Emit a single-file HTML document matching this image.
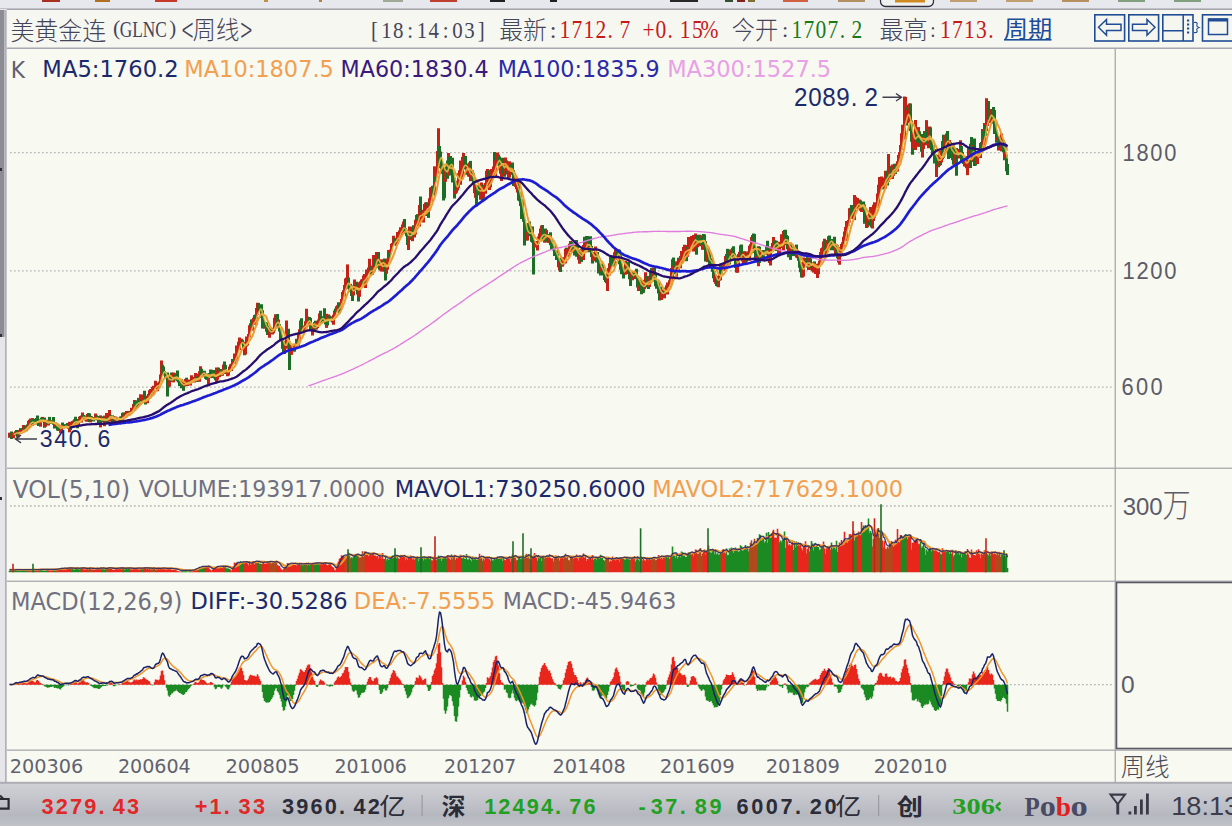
<!DOCTYPE html>
<html><head><meta charset="utf-8"><title>美黄金连(GLNC) 周线</title>
<style>html,body{margin:0;padding:0;width:1232px;height:826px;overflow:hidden;background:#f8f9f1}svg{position:absolute;left:0;top:0;display:block}</style>
</head><body>
<svg width="1232" height="826" viewBox="0 0 1232 826">
<rect x='0' y='0' width='1232' height='826' fill='#f8f9f1'/>
<rect x='0' y='0' width='1232' height='9' fill='#e7e8ed'/>
<rect x='42' y='0' width='18' height='2' fill='#a83020'/>
<rect x='95' y='0' width='15' height='2' fill='#b07020'/>
<rect x='155' y='0' width='22' height='2' fill='#c83828'/>
<rect x='264' y='0' width='4' height='2' fill='#c09040'/>
<rect x='319' y='0' width='3' height='2' fill='#b08040'/>
<rect x='383' y='0' width='20' height='2' fill='#a0a898'/>
<rect x='430' y='0' width='27' height='2' fill='#c04030'/>
<rect x='490' y='0' width='15' height='2' fill='#202020'/>
<rect x='550' y='0' width='7' height='2' fill='#202020'/>
<rect x='670' y='0' width='28' height='2' fill='#282828'/>
<rect x='725' y='0' width='8' height='2' fill='#305030'/>
<rect x='737' y='0' width='8' height='2' fill='#802020'/>
<rect x='748' y='0' width='7' height='2' fill='#807030'/>
<rect x='783' y='0' width='25' height='2' fill='#d06040'/>
<rect x='838' y='0' width='27' height='2' fill='#b09060'/>
<rect x='950' y='0' width='27' height='2' fill='#c0a070'/>
<rect x='1006' y='0' width='27' height='2' fill='#c0a070'/>
<rect x='1062' y='0' width='27' height='2' fill='#b89060'/>
<rect x='1118' y='0' width='27' height='2' fill='#80a080'/>
<rect x='1174' y='0' width='27' height='2' fill='#80a080'/>
<rect x='880.5' y='-6' width='53' height='12.5' rx='5' fill='#f0f0f0' stroke='#303040' stroke-width='1.3'/>
<rect x='895' y='0' width='30' height='2.5' fill='#d08820'/>
<rect x='0' y='8.4' width='1232' height='1.8' fill='#a6a6ae'/>
<rect x='7' y='10' width='1225' height='38' fill='#f7f7f1'/>
<rect x='7' y='47.5' width='1225' height='1.5' fill='#a8a8b0'/>
<rect x='0' y='9' width='7' height='774' fill='#e6e6ea'/>
<rect x='0' y='10' width='4.5' height='327' fill='#8c8c94'/>
<rect x='5.2' y='10' width='1.3' height='773' fill='#a4a4ac'/>
<rect x='0' y='334' width='2' height='3' fill='#303038'/><rect x='0' y='497' width='2' height='3' fill='#303038'/><rect x='0' y='168' width='2' height='3' fill='#303038'/>
<rect x='7' y='467.6' width='1225' height='1.3' fill='#a8a8b0'/>
<rect x='7' y='580.6' width='1225' height='1.3' fill='#a8a8b0'/>
<rect x='7' y='749.5' width='1225' height='1.3' fill='#a8a8b0'/>
<rect x='1114.6' y='49' width='1.3' height='734' fill='#a8a8b0'/>
<rect x='1116.5' y='582.5' width='120' height='166' fill='none' stroke='#5a5a64' stroke-width='1.6'/>
<line x1='10' y1='152.6' x2='1112' y2='152.6' stroke='#b4b4b4' stroke-width='1.3' stroke-dasharray='1.7 2.3'/>
<line x1='10' y1='270.8' x2='1112' y2='270.8' stroke='#b4b4b4' stroke-width='1.3' stroke-dasharray='1.7 2.3'/>
<line x1='10' y1='387.2' x2='1112' y2='387.2' stroke='#b4b4b4' stroke-width='1.3' stroke-dasharray='1.7 2.3'/>
<line x1='10' y1='506.0' x2='1112' y2='506.0' stroke='#b4b4b4' stroke-width='1.3' stroke-dasharray='1.7 2.3'/>
<line x1='10' y1='684.7' x2='1112' y2='684.7' stroke='#b4b4b4' stroke-width='1.3' stroke-dasharray='1.7 2.3'/>
<defs><linearGradient id='sb' x1='0' y1='0' x2='0' y2='1'><stop offset='0' stop-color='#d0d1d6'/><stop offset='0.3' stop-color='#c7c8ce'/><stop offset='0.75' stop-color='#b6b8c0'/><stop offset='1' stop-color='#c0c2c8'/></linearGradient></defs>
<rect x='0' y='783' width='1232' height='43' fill='url(#sb)'/>
<rect x='0' y='781.8' width='1232' height='2' fill='#acacb4'/>
<rect x='421.5' y='795' width='1.2' height='21' fill='#9a9aa2'/><rect x='878' y='795' width='1.2' height='21' fill='#9a9aa2'/>
<defs><filter id='bl' x='-2%' y='-2%' width='104%' height='104%'><feGaussianBlur stdDeviation='0.55'/></filter></defs>
<g filter='url(#bl)'><path d="M9.5 432.7V437.8" stroke="#c42418" stroke-width="3.0"/><path d="M10.5 434.1V435.3M11.5 431.5V439.1" stroke="#1f6e28" stroke-width="3.0"/><path d="M12.5 433.2V437.5M13.5 432.8V438.3M14.5 432.4V433.8M15.5 431.3V435.4" stroke="#c42418" stroke-width="3.0"/><path d="M16.5 430.1V433.4M17.5 432.0V437.2" stroke="#1f6e28" stroke-width="3.0"/><path d="M18.5 431.7V437.5M19.5 430.0V433.8" stroke="#c42418" stroke-width="3.0"/><path d="M20.5 428.1V434.0" stroke="#1f6e28" stroke-width="3.0"/><path d="M21.5 430.2V433.3M22.5 429.6V432.0M23.5 425.1V432.3" stroke="#c42418" stroke-width="3.0"/><path d="M24.5 428.0V429.6M25.5 425.8V429.6" stroke="#1f6e28" stroke-width="3.0"/><path d="M26.5 425.4V431.2" stroke="#c42418" stroke-width="3.0"/><path d="M27.5 424.4V426.1" stroke="#1f6e28" stroke-width="3.0"/><path d="M28.5 420.7V427.9M29.5 419.7V425.3M30.5 418.6V425.1" stroke="#c42418" stroke-width="3.0"/><path d="M31.5 420.2V424.4" stroke="#1f6e28" stroke-width="3.0"/><path d="M32.5 418.1V425.8" stroke="#c42418" stroke-width="3.0"/><path d="M33.5 418.7V424.3M34.5 420.7V424.4M35.5 420.1V424.6" stroke="#1f6e28" stroke-width="3.0"/><path d="M36.5 418.0V423.3" stroke="#c42418" stroke-width="3.0"/><path d="M37.5 415.5V422.5M38.5 419.4V426.0M39.5 419.8V423.4" stroke="#1f6e28" stroke-width="3.0"/><path d="M40.5 419.3V426.7" stroke="#c42418" stroke-width="3.0"/><path d="M41.5 417.6V420.3" stroke="#1f6e28" stroke-width="3.0"/><path d="M42.5 416.9V420.5" stroke="#c42418" stroke-width="3.0"/><path d="M43.5 417.9V421.7M44.5 417.5V427.8" stroke="#1f6e28" stroke-width="3.0"/><path d="M45.5 419.8V426.8M46.5 419.7V423.3" stroke="#c42418" stroke-width="3.0"/><path d="M47.5 421.9V424.7" stroke="#1f6e28" stroke-width="3.0"/><path d="M48.5 421.0V425.5" stroke="#c42418" stroke-width="3.0"/><path d="M49.5 416.9V422.5" stroke="#1f6e28" stroke-width="3.0"/><path d="M50.5 420.7V423.9" stroke="#c42418" stroke-width="3.0"/><path d="M51.5 421.9V423.7" stroke="#1f6e28" stroke-width="3.0"/><path d="M52.5 420.3V423.4" stroke="#c42418" stroke-width="3.0"/><path d="M53.5 416.9V424.7M54.5 424.1V428.5" stroke="#1f6e28" stroke-width="3.0"/><path d="M55.5 422.5V426.3" stroke="#c42418" stroke-width="3.0"/><path d="M56.5 423.6V427.7M57.5 425.8V430.4" stroke="#1f6e28" stroke-width="3.0"/><path d="M58.5 424.8V431.0" stroke="#c42418" stroke-width="3.0"/><path d="M59.5 425.1V430.5" stroke="#1f6e28" stroke-width="3.0"/><path d="M60.5 428.7V432.9M61.5 424.9V431.2" stroke="#c42418" stroke-width="3.0"/><path d="M62.5 422.5V427.5" stroke="#1f6e28" stroke-width="3.0"/><path d="M63.5 425.3V428.5M64.5 424.4V427.7" stroke="#c42418" stroke-width="3.0"/><path d="M65.5 424.3V427.6" stroke="#1f6e28" stroke-width="3.0"/><path d="M66.5 425.1V426.9" stroke="#c42418" stroke-width="3.0"/><path d="M67.5 422.9V428.1M68.5 427.5V428.8" stroke="#1f6e28" stroke-width="3.0"/><path d="M69.5 421.8V432.3" stroke="#c42418" stroke-width="3.0"/><path d="M70.5 423.2V430.0" stroke="#1f6e28" stroke-width="3.0"/><path d="M71.5 423.3V426.1M72.5 421.0V425.2M73.5 420.4V425.7" stroke="#c42418" stroke-width="3.0"/><path d="M74.5 419.3V423.4M75.5 416.7V425.3M76.5 419.1V423.6M77.5 421.5V428.3" stroke="#1f6e28" stroke-width="3.0"/><path d="M78.5 418.9V425.6M79.5 416.7V419.4" stroke="#c42418" stroke-width="3.0"/><path d="M80.5 416.0V421.0" stroke="#1f6e28" stroke-width="3.0"/><path d="M81.5 415.4V422.4M82.5 412.4V418.7" stroke="#c42418" stroke-width="3.0"/><path d="M83.5 415.1V417.6M84.5 417.2V419.7" stroke="#1f6e28" stroke-width="3.0"/><path d="M85.5 418.1V420.5M86.5 415.5V421.8M87.5 414.1V418.8" stroke="#c42418" stroke-width="3.0"/><path d="M88.5 413.1V419.2M89.5 413.4V422.1" stroke="#1f6e28" stroke-width="3.0"/><path d="M90.5 415.8V422.4" stroke="#c42418" stroke-width="3.0"/><path d="M91.5 416.3V419.8M92.5 417.1V420.5M93.5 417.2V421.6" stroke="#1f6e28" stroke-width="3.0"/><path d="M94.5 417.1V420.0M95.5 413.5V420.2" stroke="#c42418" stroke-width="3.0"/><path d="M96.5 415.3V420.1" stroke="#1f6e28" stroke-width="3.0"/><path d="M97.5 417.0V417.9" stroke="#c42418" stroke-width="3.0"/><path d="M98.5 416.1V424.8M99.5 418.5V420.9" stroke="#1f6e28" stroke-width="3.0"/><path d="M100.5 415.4V427.4" stroke="#c42418" stroke-width="3.0"/><path d="M101.5 417.9V422.3" stroke="#1f6e28" stroke-width="3.0"/><path d="M102.5 417.7V421.3" stroke="#c42418" stroke-width="3.0"/><path d="M103.5 416.3V421.9" stroke="#1f6e28" stroke-width="3.0"/><path d="M104.5 415.6V426.2" stroke="#c42418" stroke-width="3.0"/><path d="M105.5 418.1V421.0" stroke="#1f6e28" stroke-width="3.0"/><path d="M106.5 413.0V421.6" stroke="#c42418" stroke-width="3.0"/><path d="M107.5 417.5V423.2" stroke="#1f6e28" stroke-width="3.0"/><path d="M108.5 415.9V421.7M109.5 410.1V421.4" stroke="#c42418" stroke-width="3.0"/><path d="M110.5 414.8V416.8M111.5 415.4V417.8M112.5 415.2V423.5M113.5 416.5V423.6" stroke="#1f6e28" stroke-width="3.0"/><path d="M114.5 419.8V424.5M115.5 416.5V421.5" stroke="#c42418" stroke-width="3.0"/><path d="M116.5 417.4V419.5M117.5 418.4V422.3" stroke="#1f6e28" stroke-width="3.0"/><path d="M118.5 418.6V421.8M119.5 417.8V419.8" stroke="#c42418" stroke-width="3.0"/><path d="M120.5 416.4V420.2M121.5 416.2V421.1" stroke="#1f6e28" stroke-width="3.0"/><path d="M122.5 412.8V421.0" stroke="#c42418" stroke-width="3.0"/><path d="M123.5 412.5V415.6" stroke="#1f6e28" stroke-width="3.0"/><path d="M124.5 413.3V418.3M125.5 412.5V417.7" stroke="#c42418" stroke-width="3.0"/><path d="M126.5 411.0V416.6" stroke="#1f6e28" stroke-width="3.0"/><path d="M127.5 411.2V415.8" stroke="#c42418" stroke-width="3.0"/><path d="M128.5 410.9V414.2" stroke="#1f6e28" stroke-width="3.0"/><path d="M129.5 411.6V415.2M130.5 411.6V413.5M131.5 407.7V412.3M132.5 408.0V410.5M133.5 404.1V410.5M134.5 400.1V409.7" stroke="#c42418" stroke-width="3.0"/><path d="M135.5 401.2V406.2" stroke="#1f6e28" stroke-width="3.0"/><path d="M136.5 400.8V407.8" stroke="#c42418" stroke-width="3.0"/><path d="M137.5 400.3V407.5" stroke="#1f6e28" stroke-width="3.0"/><path d="M138.5 397.9V405.8" stroke="#c42418" stroke-width="3.0"/><path d="M139.5 398.6V404.8" stroke="#1f6e28" stroke-width="3.0"/><path d="M140.5 394.3V404.4" stroke="#c42418" stroke-width="3.0"/><path d="M141.5 400.7V402.8" stroke="#1f6e28" stroke-width="3.0"/><path d="M142.5 398.1V402.0M143.5 394.4V402.7" stroke="#c42418" stroke-width="3.0"/><path d="M144.5 390.7V402.6M145.5 397.5V404.6" stroke="#1f6e28" stroke-width="3.0"/><path d="M146.5 398.5V402.0M147.5 395.7V403.2M148.5 394.0V398.0M149.5 390.3V395.7" stroke="#c42418" stroke-width="3.0"/><path d="M150.5 389.1V396.4" stroke="#1f6e28" stroke-width="3.0"/><path d="M151.5 389.1V394.1M152.5 386.9V394.3M153.5 385.8V393.9M154.5 385.8V388.5M155.5 380.8V387.3" stroke="#c42418" stroke-width="3.0"/><path d="M156.5 382.5V387.5" stroke="#1f6e28" stroke-width="3.0"/><path d="M157.5 383.1V391.2" stroke="#c42418" stroke-width="3.0"/><path d="M158.5 384.4V388.8" stroke="#1f6e28" stroke-width="3.0"/><path d="M159.5 381.5V387.2M160.5 374.5V383.0M161.5 360.6V375.6" stroke="#c42418" stroke-width="3.0"/><path d="M162.5 364.8V369.6M163.5 366.4V374.8M164.5 370.9V375.4M165.5 373.3V378.0" stroke="#1f6e28" stroke-width="3.0"/><path d="M166.5 374.9V377.6" stroke="#c42418" stroke-width="3.0"/><path d="M167.5 372.4V396.6M168.5 378.0V387.6" stroke="#1f6e28" stroke-width="3.0"/><path d="M169.5 378.9V386.6M170.5 375.8V382.1" stroke="#c42418" stroke-width="3.0"/><path d="M171.5 372.6V381.6M172.5 373.2V379.8" stroke="#1f6e28" stroke-width="3.0"/><path d="M173.5 372.5V382.4" stroke="#c42418" stroke-width="3.0"/><path d="M174.5 374.8V380.5M175.5 376.0V379.9" stroke="#1f6e28" stroke-width="3.0"/><path d="M176.5 373.1V378.0" stroke="#c42418" stroke-width="3.0"/><path d="M177.5 370.4V381.3M178.5 380.2V382.5M179.5 380.6V386.0" stroke="#1f6e28" stroke-width="3.0"/><path d="M180.5 381.7V384.2" stroke="#c42418" stroke-width="3.0"/><path d="M181.5 379.2V388.3" stroke="#1f6e28" stroke-width="3.0"/><path d="M182.5 382.1V387.0" stroke="#c42418" stroke-width="3.0"/><path d="M183.5 385.2V390.8" stroke="#1f6e28" stroke-width="3.0"/><path d="M184.5 382.4V386.4M185.5 379.0V383.3" stroke="#c42418" stroke-width="3.0"/><path d="M186.5 377.7V385.5" stroke="#1f6e28" stroke-width="3.0"/><path d="M187.5 379.5V385.9M188.5 381.0V384.3" stroke="#c42418" stroke-width="3.0"/><path d="M189.5 381.0V381.6" stroke="#1f6e28" stroke-width="3.0"/><path d="M190.5 379.6V385.5M191.5 375.3V381.6" stroke="#c42418" stroke-width="3.0"/><path d="M192.5 377.9V381.9" stroke="#1f6e28" stroke-width="3.0"/><path d="M193.5 376.9V380.7M194.5 377.8V382.5M195.5 373.1V378.4" stroke="#c42418" stroke-width="3.0"/><path d="M196.5 376.2V382.0M197.5 378.0V381.8" stroke="#1f6e28" stroke-width="3.0"/><path d="M198.5 374.0V379.4M199.5 371.2V381.8M200.5 366.3V376.3" stroke="#c42418" stroke-width="3.0"/><path d="M201.5 368.8V375.6M202.5 371.9V375.1" stroke="#1f6e28" stroke-width="3.0"/><path d="M203.5 372.5V375.6" stroke="#c42418" stroke-width="3.0"/><path d="M204.5 370.8V376.1M205.5 374.8V378.8M206.5 373.6V379.8M207.5 377.0V380.1" stroke="#1f6e28" stroke-width="3.0"/><path d="M208.5 374.2V386.3" stroke="#c42418" stroke-width="3.0"/><path d="M209.5 373.0V377.8" stroke="#1f6e28" stroke-width="3.0"/><path d="M210.5 369.6V378.1" stroke="#c42418" stroke-width="3.0"/><path d="M211.5 369.7V375.4M212.5 369.9V377.0M213.5 369.9V377.9M214.5 371.0V378.5M215.5 376.9V380.2" stroke="#1f6e28" stroke-width="3.0"/><path d="M216.5 367.4V383.0M217.5 367.6V379.7" stroke="#c42418" stroke-width="3.0"/><path d="M218.5 367.7V376.2" stroke="#1f6e28" stroke-width="3.0"/><path d="M219.5 370.6V377.1" stroke="#c42418" stroke-width="3.0"/><path d="M220.5 369.1V373.8M221.5 371.5V375.6" stroke="#1f6e28" stroke-width="3.0"/><path d="M222.5 369.2V375.7M223.5 364.4V369.3" stroke="#c42418" stroke-width="3.0"/><path d="M224.5 361.5V373.9M225.5 364.9V373.3M226.5 371.1V373.0" stroke="#1f6e28" stroke-width="3.0"/><path d="M227.5 372.3V376.3M228.5 370.2V375.4M229.5 366.8V372.0" stroke="#c42418" stroke-width="3.0"/><path d="M230.5 364.4V368.1" stroke="#1f6e28" stroke-width="3.0"/><path d="M231.5 363.8V370.9M232.5 359.0V364.9" stroke="#c42418" stroke-width="3.0"/><path d="M233.5 359.0V361.5" stroke="#1f6e28" stroke-width="3.0"/><path d="M234.5 353.6V363.7M235.5 353.5V359.0M236.5 345.5V360.8M237.5 345.8V352.8M238.5 341.8V349.0M239.5 337.6V350.0" stroke="#c42418" stroke-width="3.0"/><path d="M240.5 341.1V341.7" stroke="#1f6e28" stroke-width="3.0"/><path d="M241.5 338.7V343.7" stroke="#c42418" stroke-width="3.0"/><path d="M242.5 339.8V344.6M243.5 342.1V348.7M244.5 344.4V355.3" stroke="#1f6e28" stroke-width="3.0"/><path d="M245.5 341.7V354.4M246.5 336.5V346.5M247.5 337.3V345.5M248.5 334.1V336.9M249.5 325.3V337.2M250.5 323.3V331.1" stroke="#c42418" stroke-width="3.0"/><path d="M251.5 319.5V327.1" stroke="#1f6e28" stroke-width="3.0"/><path d="M252.5 319.6V330.7M253.5 317.7V325.1M254.5 314.9V323.2" stroke="#c42418" stroke-width="3.0"/><path d="M255.5 314.6V319.2" stroke="#1f6e28" stroke-width="3.0"/><path d="M256.5 307.9V324.7M257.5 302.7V315.0" stroke="#c42418" stroke-width="3.0"/><path d="M258.5 302.9V310.5M259.5 307.8V309.9" stroke="#1f6e28" stroke-width="3.0"/><path d="M260.5 305.2V311.1" stroke="#c42418" stroke-width="3.0"/><path d="M261.5 304.3V317.9M262.5 310.2V328.6M263.5 319.7V327.7" stroke="#1f6e28" stroke-width="3.0"/><path d="M264.5 323.5V328.7" stroke="#c42418" stroke-width="3.0"/><path d="M265.5 321.9V327.1M266.5 322.5V331.8M267.5 325.5V334.9M268.5 327.5V333.0" stroke="#1f6e28" stroke-width="3.0"/><path d="M269.5 329.1V337.7M270.5 330.4V333.7" stroke="#c42418" stroke-width="3.0"/><path d="M271.5 328.4V333.3" stroke="#1f6e28" stroke-width="3.0"/><path d="M272.5 330.4V334.5M273.5 327.7V333.3M274.5 317.8V330.7M275.5 314.3V325.8" stroke="#c42418" stroke-width="3.0"/><path d="M276.5 316.1V319.9M277.5 314.1V326.8" stroke="#1f6e28" stroke-width="3.0"/><path d="M278.5 319.5V327.0" stroke="#c42418" stroke-width="3.0"/><path d="M279.5 324.0V331.6M280.5 326.6V340.5M281.5 335.1V339.5M282.5 338.0V348.8M283.5 347.6V353.8" stroke="#1f6e28" stroke-width="3.0"/><path d="M284.5 343.8V353.9M285.5 340.8V348.7M286.5 320.6V348.7M287.5 330.5V340.4" stroke="#c42418" stroke-width="3.0"/><path d="M288.5 328.8V343.4M289.5 341.2V370.0M290.5 349.4V355.1" stroke="#1f6e28" stroke-width="3.0"/><path d="M291.5 344.3V354.8" stroke="#c42418" stroke-width="3.0"/><path d="M292.5 346.8V348.9" stroke="#1f6e28" stroke-width="3.0"/><path d="M293.5 345.8V348.4" stroke="#c42418" stroke-width="3.0"/><path d="M294.5 346.6V351.7" stroke="#1f6e28" stroke-width="3.0"/><path d="M295.5 344.2V348.5M296.5 338.7V348.5" stroke="#c42418" stroke-width="3.0"/><path d="M297.5 339.7V343.2" stroke="#1f6e28" stroke-width="3.0"/><path d="M298.5 332.8V346.1M299.5 329.3V339.2M300.5 320.4V333.1" stroke="#c42418" stroke-width="3.0"/><path d="M301.5 318.2V332.2M302.5 327.2V332.4" stroke="#1f6e28" stroke-width="3.0"/><path d="M303.5 326.5V331.9M304.5 325.4V329.5M305.5 321.3V328.6M306.5 308.7V323.8M307.5 316.6V323.1M308.5 319.5V324.5" stroke="#c42418" stroke-width="3.0"/><path d="M309.5 317.1V323.1M310.5 318.0V329.7M311.5 325.1V330.5" stroke="#1f6e28" stroke-width="3.0"/><path d="M312.5 327.3V335.4M313.5 324.4V331.4M314.5 321.9V330.0" stroke="#c42418" stroke-width="3.0"/><path d="M315.5 320.7V329.5" stroke="#1f6e28" stroke-width="3.0"/><path d="M316.5 326.0V329.6M317.5 321.4V328.1M318.5 319.4V325.2M319.5 313.6V324.9" stroke="#c42418" stroke-width="3.0"/><path d="M320.5 310.8V319.2M321.5 316.2V323.6" stroke="#1f6e28" stroke-width="3.0"/><path d="M322.5 319.7V321.4" stroke="#c42418" stroke-width="3.0"/><path d="M323.5 318.6V322.5M324.5 308.2V322.4M325.5 321.5V324.6" stroke="#1f6e28" stroke-width="3.0"/><path d="M326.5 313.8V327.9" stroke="#c42418" stroke-width="3.0"/><path d="M327.5 319.2V325.4" stroke="#1f6e28" stroke-width="3.0"/><path d="M328.5 314.4V320.2" stroke="#c42418" stroke-width="3.0"/><path d="M329.5 315.5V321.3" stroke="#1f6e28" stroke-width="3.0"/><path d="M330.5 316.3V321.0" stroke="#c42418" stroke-width="3.0"/><path d="M331.5 317.1V319.5M332.5 319.5V322.6" stroke="#1f6e28" stroke-width="3.0"/><path d="M333.5 314.8V324.8M334.5 310.5V318.1" stroke="#c42418" stroke-width="3.0"/><path d="M335.5 308.5V312.1" stroke="#1f6e28" stroke-width="3.0"/><path d="M336.5 306.3V312.6M337.5 305.3V311.5" stroke="#c42418" stroke-width="3.0"/><path d="M338.5 302.3V306.7M339.5 305.2V313.2" stroke="#1f6e28" stroke-width="3.0"/><path d="M340.5 303.4V309.0M341.5 298.9V304.7M342.5 292.0V301.2M343.5 290.3V297.3M344.5 285.0V296.6M345.5 278.6V289.8" stroke="#c42418" stroke-width="3.0"/><path d="M346.5 277.6V285.1" stroke="#1f6e28" stroke-width="3.0"/><path d="M347.5 264.4V287.7" stroke="#c42418" stroke-width="3.0"/><path d="M348.5 277.4V288.7M349.5 283.9V290.7" stroke="#1f6e28" stroke-width="3.0"/><path d="M350.5 283.8V291.9" stroke="#c42418" stroke-width="3.0"/><path d="M351.5 285.6V295.9M352.5 288.2V301.0" stroke="#1f6e28" stroke-width="3.0"/><path d="M353.5 289.5V295.6M354.5 279.5V290.7M355.5 282.3V290.4" stroke="#c42418" stroke-width="3.0"/><path d="M356.5 281.8V286.5M357.5 285.3V294.4M358.5 286.8V301.4" stroke="#1f6e28" stroke-width="3.0"/><path d="M359.5 282.2V296.8M360.5 281.2V286.8M361.5 279.5V284.4" stroke="#c42418" stroke-width="3.0"/><path d="M362.5 279.2V285.4" stroke="#1f6e28" stroke-width="3.0"/><path d="M363.5 275.6V281.1M364.5 274.1V281.1M365.5 276.9V287.9M366.5 269.4V282.5M367.5 269.5V273.9M368.5 267.4V274.6M369.5 258.8V272.4M370.5 265.6V273.3" stroke="#c42418" stroke-width="3.0"/><path d="M371.5 266.4V274.8" stroke="#1f6e28" stroke-width="3.0"/><path d="M372.5 267.9V274.7M373.5 255.1V272.5M374.5 257.6V271.2" stroke="#c42418" stroke-width="3.0"/><path d="M375.5 258.3V266.3" stroke="#1f6e28" stroke-width="3.0"/><path d="M376.5 252.0V264.3M377.5 252.7V256.9" stroke="#c42418" stroke-width="3.0"/><path d="M378.5 252.0V268.1M379.5 262.8V269.7M380.5 267.1V270.6" stroke="#1f6e28" stroke-width="3.0"/><path d="M381.5 259.3V271.6" stroke="#c42418" stroke-width="3.0"/><path d="M382.5 260.2V265.0" stroke="#1f6e28" stroke-width="3.0"/><path d="M383.5 261.4V268.1" stroke="#c42418" stroke-width="3.0"/><path d="M384.5 258.4V271.7M385.5 259.1V280.4" stroke="#1f6e28" stroke-width="3.0"/><path d="M386.5 263.3V273.8M387.5 258.6V269.8M388.5 249.9V261.9" stroke="#c42418" stroke-width="3.0"/><path d="M389.5 252.4V257.8" stroke="#1f6e28" stroke-width="3.0"/><path d="M390.5 249.6V254.6M391.5 243.7V251.2M392.5 243.1V245.9M393.5 235.8V243.0" stroke="#c42418" stroke-width="3.0"/><path d="M394.5 237.9V245.6M395.5 237.7V244.7" stroke="#1f6e28" stroke-width="3.0"/><path d="M396.5 240.0V245.5M397.5 232.0V243.9" stroke="#c42418" stroke-width="3.0"/><path d="M398.5 233.3V234.7" stroke="#1f6e28" stroke-width="3.0"/><path d="M399.5 230.6V238.6M400.5 227.2V231.7M401.5 228.6V234.9M402.5 224.5V233.0M403.5 221.6V226.6" stroke="#c42418" stroke-width="3.0"/><path d="M404.5 219.0V232.3M405.5 228.3V233.7M406.5 229.8V236.3M407.5 232.8V244.9" stroke="#1f6e28" stroke-width="3.0"/><path d="M408.5 232.9V250.0M409.5 226.6V236.8M410.5 230.3V240.0" stroke="#c42418" stroke-width="3.0"/><path d="M411.5 231.9V238.8" stroke="#1f6e28" stroke-width="3.0"/><path d="M412.5 226.7V241.2" stroke="#c42418" stroke-width="3.0"/><path d="M413.5 225.2V236.2" stroke="#1f6e28" stroke-width="3.0"/><path d="M414.5 225.9V237.6M415.5 219.7V234.6M416.5 214.9V226.0" stroke="#c42418" stroke-width="3.0"/><path d="M417.5 214.1V220.3" stroke="#1f6e28" stroke-width="3.0"/><path d="M418.5 217.8V222.0M419.5 205.1V226.5" stroke="#c42418" stroke-width="3.0"/><path d="M420.5 196.5V216.2" stroke="#1f6e28" stroke-width="3.0"/><path d="M421.5 212.7V218.4" stroke="#c42418" stroke-width="3.0"/><path d="M422.5 214.9V218.5" stroke="#1f6e28" stroke-width="3.0"/><path d="M423.5 209.8V222.4M424.5 203.9V212.8M425.5 202.4V208.3" stroke="#c42418" stroke-width="3.0"/><path d="M426.5 202.2V216.0" stroke="#1f6e28" stroke-width="3.0"/><path d="M427.5 206.2V215.1" stroke="#c42418" stroke-width="3.0"/><path d="M428.5 203.9V217.9" stroke="#1f6e28" stroke-width="3.0"/><path d="M429.5 198.3V210.5M430.5 187.4V201.6M431.5 186.9V201.9M432.5 185.8V191.1" stroke="#c42418" stroke-width="3.0"/><path d="M433.5 185.8V195.4" stroke="#1f6e28" stroke-width="3.0"/><path d="M434.5 166.3V193.4" stroke="#c42418" stroke-width="3.0"/><path d="M435.5 176.6V181.8" stroke="#1f6e28" stroke-width="3.0"/><path d="M436.5 167.4V177.4M437.5 150.9V173.6M438.5 128.2V168.2" stroke="#c42418" stroke-width="3.0"/><path d="M439.5 146.1V164.3M440.5 151.6V162.8M441.5 160.8V169.5M442.5 163.4V173.7M443.5 168.8V200.6M444.5 167.3V198.3" stroke="#1f6e28" stroke-width="3.0"/><path d="M445.5 169.4V181.7M446.5 166.4V175.0" stroke="#c42418" stroke-width="3.0"/><path d="M447.5 160.5V178.8" stroke="#1f6e28" stroke-width="3.0"/><path d="M448.5 153.0V175.7" stroke="#c42418" stroke-width="3.0"/><path d="M449.5 157.0V168.9M450.5 156.0V165.5M451.5 158.4V175.5M452.5 157.7V182.4M453.5 170.3V179.1M454.5 177.7V198.6" stroke="#1f6e28" stroke-width="3.0"/><path d="M455.5 190.8V194.0M456.5 188.0V192.7M457.5 180.8V190.4M458.5 173.2V188.3M459.5 170.3V181.2M460.5 160.5V184.7M461.5 167.4V175.1M462.5 157.1V178.6M463.5 153.0V169.2" stroke="#c42418" stroke-width="3.0"/><path d="M464.5 157.8V169.3M465.5 156.1V167.0M466.5 163.4V174.7" stroke="#1f6e28" stroke-width="3.0"/><path d="M467.5 167.0V173.0" stroke="#c42418" stroke-width="3.0"/><path d="M468.5 172.1V176.6" stroke="#1f6e28" stroke-width="3.0"/><path d="M469.5 162.4V176.7" stroke="#c42418" stroke-width="3.0"/><path d="M470.5 160.9V181.2" stroke="#1f6e28" stroke-width="3.0"/><path d="M471.5 172.2V180.8M472.5 170.3V181.1" stroke="#c42418" stroke-width="3.0"/><path d="M473.5 173.1V183.5M474.5 179.4V193.2" stroke="#1f6e28" stroke-width="3.0"/><path d="M475.5 184.6V197.9" stroke="#c42418" stroke-width="3.0"/><path d="M476.5 185.8V206.5M477.5 187.8V191.6" stroke="#1f6e28" stroke-width="3.0"/><path d="M478.5 185.3V194.1" stroke="#c42418" stroke-width="3.0"/><path d="M479.5 185.7V195.3" stroke="#1f6e28" stroke-width="3.0"/><path d="M480.5 190.1V199.7M481.5 182.6V192.3" stroke="#c42418" stroke-width="3.0"/><path d="M482.5 184.5V201.0" stroke="#1f6e28" stroke-width="3.0"/><path d="M483.5 186.7V197.9" stroke="#c42418" stroke-width="3.0"/><path d="M484.5 188.1V191.2" stroke="#1f6e28" stroke-width="3.0"/><path d="M485.5 182.9V193.7M486.5 170.8V187.9M487.5 169.1V181.8" stroke="#c42418" stroke-width="3.0"/><path d="M488.5 170.1V184.3" stroke="#1f6e28" stroke-width="3.0"/><path d="M489.5 178.9V189.9M490.5 174.9V187.2M491.5 169.1V178.8M492.5 170.0V176.6M493.5 166.4V174.5" stroke="#c42418" stroke-width="3.0"/><path d="M494.5 152.0V178.0" stroke="#1f6e28" stroke-width="3.0"/><path d="M495.5 160.5V176.4M496.5 155.7V165.8M497.5 152.5V159.9M498.5 154.6V159.7" stroke="#c42418" stroke-width="3.0"/><path d="M499.5 156.6V169.5M500.5 167.2V173.7" stroke="#1f6e28" stroke-width="3.0"/><path d="M501.5 163.8V181.1M502.5 157.7V170.4" stroke="#c42418" stroke-width="3.0"/><path d="M503.5 157.9V173.7M504.5 163.1V176.8" stroke="#1f6e28" stroke-width="3.0"/><path d="M505.5 157.5V174.6" stroke="#c42418" stroke-width="3.0"/><path d="M506.5 160.4V174.0" stroke="#1f6e28" stroke-width="3.0"/><path d="M507.5 161.5V171.2" stroke="#c42418" stroke-width="3.0"/><path d="M508.5 166.9V178.4" stroke="#1f6e28" stroke-width="3.0"/><path d="M509.5 161.3V177.5" stroke="#c42418" stroke-width="3.0"/><path d="M510.5 164.5V174.0" stroke="#1f6e28" stroke-width="3.0"/><path d="M511.5 168.1V174.9" stroke="#c42418" stroke-width="3.0"/><path d="M512.5 162.6V171.4M513.5 170.1V186.0M514.5 177.8V185.6" stroke="#1f6e28" stroke-width="3.0"/><path d="M515.5 176.4V186.9" stroke="#c42418" stroke-width="3.0"/><path d="M516.5 184.1V189.2" stroke="#1f6e28" stroke-width="3.0"/><path d="M517.5 179.6V192.6" stroke="#c42418" stroke-width="3.0"/><path d="M518.5 183.9V200.4M519.5 191.8V201.2M520.5 193.1V205.9M521.5 199.3V219.0M522.5 200.9V212.3M523.5 212.6V221.8M524.5 218.9V245.6M525.5 224.5V233.4M526.5 224.4V240.4" stroke="#1f6e28" stroke-width="3.0"/><path d="M527.5 232.0V240.6M528.5 223.0V235.5" stroke="#c42418" stroke-width="3.0"/><path d="M529.5 221.5V235.2M530.5 226.3V236.3M531.5 230.7V241.7M532.5 226.6V242.8M533.5 240.0V274.4M534.5 242.4V246.6" stroke="#1f6e28" stroke-width="3.0"/><path d="M535.5 240.9V247.4M536.5 243.3V246.9M537.5 241.0V250.5M538.5 236.4V243.8M539.5 233.5V240.5" stroke="#c42418" stroke-width="3.0"/><path d="M540.5 228.5V239.5" stroke="#1f6e28" stroke-width="3.0"/><path d="M541.5 225.5V237.2" stroke="#c42418" stroke-width="3.0"/><path d="M542.5 225.0V239.6M543.5 231.2V240.3" stroke="#1f6e28" stroke-width="3.0"/><path d="M544.5 231.6V242.7" stroke="#c42418" stroke-width="3.0"/><path d="M545.5 228.6V241.2" stroke="#1f6e28" stroke-width="3.0"/><path d="M546.5 230.0V242.5" stroke="#c42418" stroke-width="3.0"/><path d="M547.5 233.9V241.8M548.5 235.9V242.8" stroke="#1f6e28" stroke-width="3.0"/><path d="M549.5 235.5V243.1" stroke="#c42418" stroke-width="3.0"/><path d="M550.5 232.3V245.2M551.5 239.3V250.0M552.5 243.8V248.1M553.5 246.4V250.4M554.5 245.8V256.0M555.5 251.7V254.1M556.5 250.2V259.9M557.5 253.4V260.1M558.5 258.6V267.2" stroke="#1f6e28" stroke-width="3.0"/><path d="M559.5 262.0V270.5" stroke="#c42418" stroke-width="3.0"/><path d="M560.5 257.7V272.0M561.5 264.9V266.0" stroke="#1f6e28" stroke-width="3.0"/><path d="M562.5 260.3V266.8M563.5 257.3V264.6" stroke="#c42418" stroke-width="3.0"/><path d="M564.5 257.9V263.3" stroke="#1f6e28" stroke-width="3.0"/><path d="M565.5 248.7V263.4" stroke="#c42418" stroke-width="3.0"/><path d="M566.5 247.6V253.5" stroke="#1f6e28" stroke-width="3.0"/><path d="M567.5 249.3V253.5M568.5 247.9V256.7M569.5 243.8V251.9M570.5 241.1V248.2" stroke="#c42418" stroke-width="3.0"/><path d="M571.5 241.9V247.2M572.5 242.9V252.6M573.5 245.8V251.1M574.5 248.4V255.4" stroke="#1f6e28" stroke-width="3.0"/><path d="M575.5 245.1V251.0" stroke="#c42418" stroke-width="3.0"/><path d="M576.5 239.9V256.7M577.5 246.3V256.8M578.5 255.9V259.8" stroke="#1f6e28" stroke-width="3.0"/><path d="M579.5 251.3V263.8M580.5 250.5V259.5" stroke="#c42418" stroke-width="3.0"/><path d="M581.5 249.2V261.9" stroke="#1f6e28" stroke-width="3.0"/><path d="M582.5 252.6V257.4M583.5 244.9V259.9" stroke="#c42418" stroke-width="3.0"/><path d="M584.5 236.8V252.3" stroke="#1f6e28" stroke-width="3.0"/><path d="M585.5 242.9V249.0M586.5 236.1V244.4" stroke="#c42418" stroke-width="3.0"/><path d="M587.5 236.1V242.0M588.5 240.4V252.2" stroke="#1f6e28" stroke-width="3.0"/><path d="M589.5 246.9V251.3" stroke="#c42418" stroke-width="3.0"/><path d="M590.5 236.2V251.6M591.5 245.9V257.0M592.5 252.3V263.4" stroke="#1f6e28" stroke-width="3.0"/><path d="M593.5 254.3V260.6M594.5 252.4V261.3M595.5 246.6V259.5" stroke="#c42418" stroke-width="3.0"/><path d="M596.5 252.9V262.5M597.5 252.0V261.5M598.5 258.3V273.4M599.5 263.4V267.9M600.5 264.2V275.5" stroke="#1f6e28" stroke-width="3.0"/><path d="M601.5 267.1V271.8" stroke="#c42418" stroke-width="3.0"/><path d="M602.5 263.5V275.1M603.5 269.6V275.5M604.5 274.6V280.0M605.5 274.4V282.1" stroke="#1f6e28" stroke-width="3.0"/><path d="M606.5 278.2V283.2M607.5 273.4V290.9M608.5 267.9V273.8M609.5 263.3V275.4M610.5 254.9V268.9" stroke="#c42418" stroke-width="3.0"/><path d="M611.5 255.5V266.4" stroke="#1f6e28" stroke-width="3.0"/><path d="M612.5 263.1V265.5" stroke="#c42418" stroke-width="3.0"/><path d="M613.5 261.4V266.5" stroke="#1f6e28" stroke-width="3.0"/><path d="M614.5 252.3V264.2M615.5 248.3V260.1" stroke="#c42418" stroke-width="3.0"/><path d="M616.5 251.0V255.5M617.5 253.4V256.2" stroke="#1f6e28" stroke-width="3.0"/><path d="M618.5 249.3V255.3" stroke="#c42418" stroke-width="3.0"/><path d="M619.5 249.7V264.2M620.5 255.3V269.7M621.5 263.6V274.2M622.5 267.3V271.7M623.5 271.0V278.4M624.5 270.8V274.6" stroke="#1f6e28" stroke-width="3.0"/><path d="M625.5 260.9V274.7" stroke="#c42418" stroke-width="3.0"/><path d="M626.5 262.1V268.5M627.5 262.1V270.0M628.5 261.9V273.9M629.5 269.8V279.3M630.5 274.8V286.0" stroke="#1f6e28" stroke-width="3.0"/><path d="M631.5 270.8V277.5M632.5 273.2V280.2" stroke="#c42418" stroke-width="3.0"/><path d="M633.5 273.3V277.5" stroke="#1f6e28" stroke-width="3.0"/><path d="M634.5 271.5V279.1" stroke="#c42418" stroke-width="3.0"/><path d="M635.5 271.0V275.9M636.5 268.7V278.1M637.5 277.7V287.6" stroke="#1f6e28" stroke-width="3.0"/><path d="M638.5 280.6V291.0" stroke="#c42418" stroke-width="3.0"/><path d="M639.5 281.2V285.4M640.5 279.5V288.0M641.5 280.2V294.3" stroke="#1f6e28" stroke-width="3.0"/><path d="M642.5 281.6V293.2" stroke="#c42418" stroke-width="3.0"/><path d="M643.5 285.9V292.8" stroke="#1f6e28" stroke-width="3.0"/><path d="M644.5 280.0V289.2M645.5 272.3V282.6M646.5 277.3V281.4" stroke="#c42418" stroke-width="3.0"/><path d="M647.5 275.9V287.6M648.5 280.3V288.9" stroke="#1f6e28" stroke-width="3.0"/><path d="M649.5 276.8V287.0M650.5 271.9V281.1" stroke="#c42418" stroke-width="3.0"/><path d="M651.5 268.1V281.1" stroke="#1f6e28" stroke-width="3.0"/><path d="M652.5 274.3V279.9M653.5 267.6V277.4" stroke="#c42418" stroke-width="3.0"/><path d="M654.5 267.8V281.4M655.5 273.1V286.2M656.5 281.0V288.8M657.5 281.1V287.3M658.5 281.7V293.6M659.5 286.6V300.6M660.5 287.0V299.6" stroke="#1f6e28" stroke-width="3.0"/><path d="M661.5 289.4V300.0M662.5 290.2V295.9" stroke="#c42418" stroke-width="3.0"/><path d="M663.5 291.3V293.7" stroke="#1f6e28" stroke-width="3.0"/><path d="M664.5 289.1V298.3" stroke="#c42418" stroke-width="3.0"/><path d="M665.5 287.5V293.6" stroke="#1f6e28" stroke-width="3.0"/><path d="M666.5 285.2V294.4M667.5 282.6V294.4M668.5 282.5V286.9M669.5 280.3V287.3M670.5 276.3V286.5M671.5 268.1V281.9M672.5 259.2V278.0" stroke="#c42418" stroke-width="3.0"/><path d="M673.5 257.4V265.7M674.5 263.4V273.3M675.5 261.7V274.3" stroke="#1f6e28" stroke-width="3.0"/><path d="M676.5 261.4V276.8M677.5 261.3V268.9" stroke="#c42418" stroke-width="3.0"/><path d="M678.5 257.7V271.7" stroke="#1f6e28" stroke-width="3.0"/><path d="M679.5 259.0V266.4M680.5 255.9V268.2M681.5 250.9V259.7M682.5 254.3V262.6M683.5 247.0V257.7M684.5 244.7V254.4M685.5 245.1V255.6" stroke="#c42418" stroke-width="3.0"/><path d="M686.5 246.8V261.2" stroke="#1f6e28" stroke-width="3.0"/><path d="M687.5 248.9V256.7M688.5 237.0V253.7M689.5 243.5V251.4M690.5 241.9V247.4M691.5 236.0V248.4" stroke="#c42418" stroke-width="3.0"/><path d="M692.5 236.7V243.7" stroke="#1f6e28" stroke-width="3.0"/><path d="M693.5 235.0V251.5" stroke="#c42418" stroke-width="3.0"/><path d="M694.5 236.3V240.4" stroke="#1f6e28" stroke-width="3.0"/><path d="M695.5 233.5V239.6" stroke="#c42418" stroke-width="3.0"/><path d="M696.5 235.0V254.7" stroke="#1f6e28" stroke-width="3.0"/><path d="M697.5 243.3V247.3M698.5 237.6V246.1" stroke="#c42418" stroke-width="3.0"/><path d="M699.5 234.7V243.3" stroke="#1f6e28" stroke-width="3.0"/><path d="M700.5 235.2V246.2" stroke="#c42418" stroke-width="3.0"/><path d="M701.5 237.9V245.4" stroke="#1f6e28" stroke-width="3.0"/><path d="M702.5 237.9V249.9" stroke="#c42418" stroke-width="3.0"/><path d="M703.5 233.9V244.7M704.5 234.5V245.6M705.5 241.2V261.4M706.5 253.8V258.7" stroke="#1f6e28" stroke-width="3.0"/><path d="M707.5 250.6V262.1" stroke="#c42418" stroke-width="3.0"/><path d="M708.5 247.8V260.3M709.5 254.3V266.4" stroke="#1f6e28" stroke-width="3.0"/><path d="M710.5 262.2V267.6" stroke="#c42418" stroke-width="3.0"/><path d="M711.5 258.2V266.0M712.5 261.8V271.8M713.5 265.0V278.2M714.5 270.9V282.1" stroke="#1f6e28" stroke-width="3.0"/><path d="M715.5 274.5V283.8" stroke="#c42418" stroke-width="3.0"/><path d="M716.5 276.6V286.1M717.5 279.8V286.5" stroke="#1f6e28" stroke-width="3.0"/><path d="M718.5 275.8V287.2M719.5 273.2V280.7M720.5 264.8V280.3" stroke="#c42418" stroke-width="3.0"/><path d="M721.5 264.6V274.8" stroke="#1f6e28" stroke-width="3.0"/><path d="M722.5 263.2V271.1M723.5 264.9V269.8M724.5 263.2V270.7M725.5 256.1V269.3M726.5 253.9V266.4" stroke="#c42418" stroke-width="3.0"/><path d="M727.5 248.8V264.8" stroke="#1f6e28" stroke-width="3.0"/><path d="M728.5 252.2V264.3" stroke="#c42418" stroke-width="3.0"/><path d="M729.5 253.5V264.4" stroke="#1f6e28" stroke-width="3.0"/><path d="M730.5 249.5V256.7M731.5 249.3V255.2M732.5 247.8V257.3" stroke="#c42418" stroke-width="3.0"/><path d="M733.5 246.2V258.1M734.5 253.5V260.0M735.5 255.6V267.9M736.5 259.7V272.5" stroke="#1f6e28" stroke-width="3.0"/><path d="M737.5 263.6V272.7M738.5 253.9V266.4M739.5 251.7V260.1M740.5 245.3V258.0" stroke="#c42418" stroke-width="3.0"/><path d="M741.5 244.6V257.8M742.5 252.3V261.6" stroke="#1f6e28" stroke-width="3.0"/><path d="M743.5 252.8V263.9" stroke="#c42418" stroke-width="3.0"/><path d="M744.5 251.2V262.9" stroke="#1f6e28" stroke-width="3.0"/><path d="M745.5 251.5V264.5" stroke="#c42418" stroke-width="3.0"/><path d="M746.5 253.1V261.7" stroke="#1f6e28" stroke-width="3.0"/><path d="M747.5 254.1V258.8M748.5 251.2V258.4M749.5 245.8V260.7M750.5 244.3V250.9M751.5 237.0V249.3M752.5 234.9V246.8" stroke="#c42418" stroke-width="3.0"/><path d="M753.5 233.5V241.6M754.5 234.0V253.1M755.5 247.7V260.7M756.5 257.4V258.9" stroke="#1f6e28" stroke-width="3.0"/><path d="M757.5 255.7V262.5M758.5 246.3V266.2" stroke="#c42418" stroke-width="3.0"/><path d="M759.5 246.7V262.9" stroke="#1f6e28" stroke-width="3.0"/><path d="M760.5 252.3V260.5M761.5 252.0V258.6M762.5 250.2V260.8" stroke="#c42418" stroke-width="3.0"/><path d="M763.5 250.1V259.1" stroke="#1f6e28" stroke-width="3.0"/><path d="M764.5 250.6V254.2" stroke="#c42418" stroke-width="3.0"/><path d="M765.5 250.5V254.2" stroke="#1f6e28" stroke-width="3.0"/><path d="M766.5 245.8V253.0" stroke="#c42418" stroke-width="3.0"/><path d="M767.5 240.7V255.2M768.5 249.6V260.7" stroke="#1f6e28" stroke-width="3.0"/><path d="M769.5 249.9V263.0M770.5 246.4V265.4M771.5 247.2V249.8" stroke="#c42418" stroke-width="3.0"/><path d="M772.5 243.0V251.9" stroke="#1f6e28" stroke-width="3.0"/><path d="M773.5 237.1V250.0M774.5 240.3V243.4" stroke="#c42418" stroke-width="3.0"/><path d="M775.5 240.6V249.4M776.5 240.8V250.9M777.5 242.5V248.7M778.5 244.5V253.7" stroke="#1f6e28" stroke-width="3.0"/><path d="M779.5 241.8V254.7M780.5 244.9V246.9M781.5 234.2V247.8" stroke="#c42418" stroke-width="3.0"/><path d="M782.5 239.0V248.0" stroke="#1f6e28" stroke-width="3.0"/><path d="M783.5 231.0V250.1" stroke="#c42418" stroke-width="3.0"/><path d="M784.5 230.0V237.7M785.5 229.8V238.8M786.5 234.9V245.2M787.5 236.1V249.2M788.5 247.5V257.2" stroke="#1f6e28" stroke-width="3.0"/><path d="M789.5 243.5V253.3" stroke="#c42418" stroke-width="3.0"/><path d="M790.5 242.6V259.9" stroke="#1f6e28" stroke-width="3.0"/><path d="M791.5 246.4V252.1M792.5 247.3V249.4" stroke="#c42418" stroke-width="3.0"/><path d="M793.5 247.0V256.1" stroke="#1f6e28" stroke-width="3.0"/><path d="M794.5 247.1V254.2M795.5 246.4V252.5" stroke="#c42418" stroke-width="3.0"/><path d="M796.5 244.6V257.6" stroke="#1f6e28" stroke-width="3.0"/><path d="M797.5 252.5V258.1" stroke="#c42418" stroke-width="3.0"/><path d="M798.5 252.2V260.8M799.5 253.9V267.7M800.5 262.3V272.2M801.5 265.2V277.6" stroke="#1f6e28" stroke-width="3.0"/><path d="M802.5 269.5V277.4M803.5 257.6V276.5M804.5 258.0V265.5M805.5 260.6V264.4M806.5 259.6V262.5" stroke="#c42418" stroke-width="3.0"/><path d="M807.5 255.1V267.6M808.5 262.3V270.1" stroke="#1f6e28" stroke-width="3.0"/><path d="M809.5 256.5V269.9" stroke="#c42418" stroke-width="3.0"/><path d="M810.5 258.2V268.2M811.5 262.9V266.2M812.5 262.9V271.2" stroke="#1f6e28" stroke-width="3.0"/><path d="M813.5 262.4V272.6" stroke="#c42418" stroke-width="3.0"/><path d="M814.5 261.4V269.4" stroke="#1f6e28" stroke-width="3.0"/><path d="M815.5 263.8V274.0" stroke="#c42418" stroke-width="3.0"/><path d="M816.5 265.9V271.4" stroke="#1f6e28" stroke-width="3.0"/><path d="M817.5 264.7V277.9M818.5 263.4V274.2M819.5 260.8V267.0M820.5 251.9V263.8M821.5 248.2V255.8M822.5 247.6V256.0M823.5 241.6V254.6M824.5 238.8V257.0" stroke="#c42418" stroke-width="3.0"/><path d="M825.5 240.3V255.1" stroke="#1f6e28" stroke-width="3.0"/><path d="M826.5 248.1V254.1M827.5 239.9V250.7M828.5 236.2V249.0" stroke="#c42418" stroke-width="3.0"/><path d="M829.5 235.4V243.1M830.5 239.2V244.4M831.5 238.9V250.3M832.5 243.4V247.5M833.5 243.7V248.4M834.5 236.8V250.5" stroke="#1f6e28" stroke-width="3.0"/><path d="M835.5 244.6V255.6" stroke="#c42418" stroke-width="3.0"/><path d="M836.5 244.2V252.1M837.5 244.9V258.3M838.5 252.0V262.5" stroke="#1f6e28" stroke-width="3.0"/><path d="M839.5 246.9V264.8M840.5 248.2V256.4M841.5 244.1V254.1" stroke="#c42418" stroke-width="3.0"/><path d="M842.5 242.3V248.3" stroke="#1f6e28" stroke-width="3.0"/><path d="M843.5 236.8V249.3M844.5 231.4V240.3M845.5 226.9V235.0M846.5 221.0V240.9M847.5 221.8V225.8M848.5 220.1V226.0M849.5 208.3V222.6M850.5 207.7V212.7" stroke="#c42418" stroke-width="3.0"/><path d="M851.5 205.1V218.8M852.5 210.0V213.6" stroke="#1f6e28" stroke-width="3.0"/><path d="M853.5 211.9V218.7M854.5 195.1V220.1M855.5 196.8V208.7" stroke="#c42418" stroke-width="3.0"/><path d="M856.5 199.7V207.9" stroke="#1f6e28" stroke-width="3.0"/><path d="M857.5 198.0V205.8M858.5 204.5V209.0M859.5 199.5V205.9" stroke="#c42418" stroke-width="3.0"/><path d="M860.5 200.3V210.7" stroke="#1f6e28" stroke-width="3.0"/><path d="M861.5 205.3V212.1M862.5 202.0V211.0" stroke="#c42418" stroke-width="3.0"/><path d="M863.5 201.4V210.1M864.5 204.6V223.8M865.5 216.1V221.3M866.5 216.2V228.1" stroke="#1f6e28" stroke-width="3.0"/><path d="M867.5 214.9V227.3" stroke="#c42418" stroke-width="3.0"/><path d="M868.5 216.1V225.7" stroke="#1f6e28" stroke-width="3.0"/><path d="M869.5 212.9V222.1M870.5 207.0V217.4" stroke="#c42418" stroke-width="3.0"/><path d="M871.5 213.2V227.4" stroke="#1f6e28" stroke-width="3.0"/><path d="M872.5 219.1V228.5M873.5 204.7V221.0M874.5 202.3V217.7M875.5 204.3V208.3" stroke="#c42418" stroke-width="3.0"/><path d="M876.5 203.0V205.8" stroke="#1f6e28" stroke-width="3.0"/><path d="M877.5 193.4V207.7M878.5 184.7V204.1M879.5 176.9V192.2M880.5 180.8V187.1M881.5 176.4V188.2" stroke="#c42418" stroke-width="3.0"/><path d="M882.5 181.4V189.4" stroke="#1f6e28" stroke-width="3.0"/><path d="M883.5 179.7V188.1M884.5 177.4V189.1M885.5 170.7V188.5" stroke="#c42418" stroke-width="3.0"/><path d="M886.5 170.9V177.7M887.5 170.7V185.6" stroke="#1f6e28" stroke-width="3.0"/><path d="M888.5 154.0V181.9M889.5 169.9V177.6M890.5 165.8V174.2" stroke="#c42418" stroke-width="3.0"/><path d="M891.5 166.7V177.8" stroke="#1f6e28" stroke-width="3.0"/><path d="M892.5 164.6V179.1M893.5 165.9V175.8" stroke="#c42418" stroke-width="3.0"/><path d="M894.5 163.8V168.9M895.5 167.5V174.1" stroke="#1f6e28" stroke-width="3.0"/><path d="M896.5 163.8V171.7M897.5 161.2V171.4M898.5 155.0V162.9M899.5 152.0V163.1M900.5 144.9V156.2M901.5 133.3V150.1M902.5 124.7V141.3M903.5 126.2V134.0M904.5 96.5V139.4M905.5 97.0V118.6" stroke="#c42418" stroke-width="3.0"/><path d="M906.5 107.2V125.6" stroke="#1f6e28" stroke-width="3.0"/><path d="M907.5 109.9V122.8" stroke="#c42418" stroke-width="3.0"/><path d="M908.5 104.8V120.0" stroke="#1f6e28" stroke-width="3.0"/><path d="M909.5 103.5V123.1" stroke="#c42418" stroke-width="3.0"/><path d="M910.5 103.6V131.0M911.5 120.5V141.7M912.5 133.1V154.7" stroke="#1f6e28" stroke-width="3.0"/><path d="M913.5 132.9V148.3M914.5 136.0V142.5M915.5 120.1V149.9M916.5 129.3V135.1" stroke="#c42418" stroke-width="3.0"/><path d="M917.5 129.2V142.4" stroke="#1f6e28" stroke-width="3.0"/><path d="M918.5 127.1V146.9" stroke="#c42418" stroke-width="3.0"/><path d="M919.5 131.3V142.6" stroke="#1f6e28" stroke-width="3.0"/><path d="M920.5 134.7V146.3" stroke="#c42418" stroke-width="3.0"/><path d="M921.5 134.0V151.7" stroke="#1f6e28" stroke-width="3.0"/><path d="M922.5 143.1V157.6M923.5 137.0V148.9M924.5 131.1V142.0" stroke="#c42418" stroke-width="3.0"/><path d="M925.5 132.2V141.5" stroke="#1f6e28" stroke-width="3.0"/><path d="M926.5 120.1V145.4" stroke="#c42418" stroke-width="3.0"/><path d="M927.5 129.3V143.9" stroke="#1f6e28" stroke-width="3.0"/><path d="M928.5 137.1V148.2M929.5 126.4V139.3" stroke="#c42418" stroke-width="3.0"/><path d="M930.5 127.2V147.4M931.5 141.6V150.0M932.5 145.2V153.9M933.5 144.8V155.0M934.5 148.9V163.5M935.5 154.1V162.8" stroke="#1f6e28" stroke-width="3.0"/><path d="M936.5 159.3V177.0" stroke="#c42418" stroke-width="3.0"/><path d="M937.5 154.8V165.6M938.5 157.9V167.3" stroke="#1f6e28" stroke-width="3.0"/><path d="M939.5 153.7V165.9" stroke="#c42418" stroke-width="3.0"/><path d="M940.5 150.6V165.0" stroke="#1f6e28" stroke-width="3.0"/><path d="M941.5 150.5V162.5M942.5 141.1V159.5" stroke="#c42418" stroke-width="3.0"/><path d="M943.5 134.7V158.0" stroke="#1f6e28" stroke-width="3.0"/><path d="M944.5 139.7V155.2M945.5 135.2V151.6M946.5 133.4V140.7" stroke="#c42418" stroke-width="3.0"/><path d="M947.5 131.0V149.4M948.5 140.2V159.0" stroke="#1f6e28" stroke-width="3.0"/><path d="M949.5 140.0V148.6" stroke="#c42418" stroke-width="3.0"/><path d="M950.5 142.3V152.3M951.5 146.7V158.0" stroke="#1f6e28" stroke-width="3.0"/><path d="M952.5 147.9V160.2" stroke="#c42418" stroke-width="3.0"/><path d="M953.5 145.5V164.7M954.5 152.0V155.2" stroke="#1f6e28" stroke-width="3.0"/><path d="M955.5 152.6V165.6" stroke="#c42418" stroke-width="3.0"/><path d="M956.5 147.9V175.8M957.5 152.4V155.4M958.5 153.4V158.0" stroke="#1f6e28" stroke-width="3.0"/><path d="M959.5 149.0V158.6M960.5 140.2V150.7" stroke="#c42418" stroke-width="3.0"/><path d="M961.5 145.9V162.2M962.5 151.9V159.2M963.5 155.4V164.0M964.5 158.9V166.6" stroke="#1f6e28" stroke-width="3.0"/><path d="M965.5 158.8V166.3" stroke="#c42418" stroke-width="3.0"/><path d="M966.5 161.0V168.2" stroke="#1f6e28" stroke-width="3.0"/><path d="M967.5 156.0V175.2" stroke="#c42418" stroke-width="3.0"/><path d="M968.5 148.2V159.9" stroke="#1f6e28" stroke-width="3.0"/><path d="M969.5 149.9V157.5" stroke="#c42418" stroke-width="3.0"/><path d="M970.5 143.7V168.1M971.5 137.0V162.0" stroke="#1f6e28" stroke-width="3.0"/><path d="M972.5 145.0V161.5" stroke="#c42418" stroke-width="3.0"/><path d="M973.5 146.3V151.6M974.5 138.4V165.9M975.5 154.7V165.4" stroke="#1f6e28" stroke-width="3.0"/><path d="M976.5 156.7V164.0M977.5 154.0V163.9M978.5 152.7V156.5M979.5 148.3V154.4M980.5 143.0V158.0" stroke="#c42418" stroke-width="3.0"/><path d="M981.5 142.0V150.3" stroke="#1f6e28" stroke-width="3.0"/><path d="M982.5 129.0V149.9" stroke="#c42418" stroke-width="3.0"/><path d="M983.5 130.9V139.3" stroke="#1f6e28" stroke-width="3.0"/><path d="M984.5 123.0V145.3" stroke="#c42418" stroke-width="3.0"/><path d="M985.5 125.0V136.0" stroke="#1f6e28" stroke-width="3.0"/><path d="M986.5 98.3V131.1M987.5 103.8V125.9" stroke="#c42418" stroke-width="3.0"/><path d="M988.5 101.0V122.7M989.5 117.1V122.1" stroke="#1f6e28" stroke-width="3.0"/><path d="M990.5 109.1V122.8M991.5 109.7V120.4" stroke="#c42418" stroke-width="3.0"/><path d="M992.5 110.7V118.0M993.5 107.1V123.7M994.5 110.0V134.0M995.5 122.6V133.6M996.5 130.1V142.8" stroke="#1f6e28" stroke-width="3.0"/><path d="M997.5 137.5V140.4M998.5 136.2V150.4" stroke="#c42418" stroke-width="3.0"/><path d="M999.5 136.8V147.2M1000.5 137.9V148.6" stroke="#1f6e28" stroke-width="3.0"/><path d="M1001.5 133.6V151.4" stroke="#c42418" stroke-width="3.0"/><path d="M1002.5 141.7V145.2M1003.5 140.6V152.1M1004.5 142.3V160.3" stroke="#1f6e28" stroke-width="3.0"/><path d="M1005.5 152.5V158.2" stroke="#c42418" stroke-width="3.0"/><path d="M1006.5 154.5V171.3M1007.5 164.1V175.0" stroke="#1f6e28" stroke-width="3.0"/>
<polyline points="18.5,433.7 19.5,433.4 20.5,433.1 21.5,432.8 22.5,432.4 23.5,431.9 24.5,431.4 25.5,431.2 26.5,430.5 27.5,429.6 28.5,428.7 29.5,427.8 30.5,426.7 31.5,425.8 32.5,424.9 33.5,424.4 34.5,424.0 35.5,423.4 36.5,422.7 37.5,422.0 38.5,421.8 39.5,421.8 40.5,421.6 41.5,421.4 42.5,421.2 43.5,420.8 44.5,420.8 45.5,420.7 46.5,421.1 47.5,421.5 48.5,421.7 49.5,421.7 50.5,422.0 51.5,422.3 52.5,422.4 53.5,422.7 54.5,423.0 55.5,423.2 56.5,423.7 57.5,424.1 58.5,424.5 59.5,425.3 60.5,426.0 61.5,426.3 62.5,426.8 63.5,427.2 64.5,427.1 65.5,427.4 66.5,427.2 67.5,427.1 68.5,427.4 69.5,426.9 70.5,426.5 71.5,426.3 72.5,426.0 73.5,425.4 74.5,424.9 75.5,424.3 76.5,424.0 77.5,423.7 78.5,422.8 79.5,422.0 80.5,421.5 81.5,420.7 82.5,419.9 83.5,419.4 84.5,419.3 85.5,419.2 86.5,418.7 87.5,418.0 88.5,417.7 89.5,418.0 90.5,417.9 91.5,418.2 92.5,418.5 93.5,418.8 94.5,418.8 95.5,418.6 96.5,418.6 97.5,418.7 98.5,419.0 99.5,419.0 100.5,419.1 101.5,419.2 102.5,419.1 103.5,419.3 104.5,419.3 105.5,419.7 106.5,419.7 107.5,419.8 108.5,419.4 109.5,418.7 110.5,418.4 111.5,418.0 112.5,417.9 113.5,418.2 114.5,418.2 115.5,418.0 116.5,418.2 117.5,418.2 118.5,418.5 119.5,418.8 120.5,419.1 121.5,419.4 122.5,419.1 123.5,418.3 124.5,417.9 125.5,417.3 126.5,416.7 127.5,415.9 128.5,415.4 129.5,415.0 130.5,414.3 131.5,413.4 132.5,412.7 133.5,411.6 134.5,410.5 135.5,409.8 136.5,408.5 137.5,407.8 138.5,406.5 139.5,405.5 140.5,404.3 141.5,403.5 142.5,402.8 143.5,402.0 144.5,401.6 145.5,401.2 146.5,401.0 147.5,400.2 148.5,399.6 149.5,398.4 150.5,397.8 151.5,396.7 152.5,395.6 153.5,394.8 154.5,393.4 155.5,391.6 156.5,390.5 157.5,389.4 158.5,388.5 159.5,387.6 160.5,385.6 161.5,383.3 162.5,381.1 163.5,379.5 164.5,378.4 165.5,377.7 166.5,376.6 167.5,375.9 168.5,375.8 169.5,375.6 170.5,375.8 171.5,376.8 172.5,377.9 173.5,378.2 174.5,378.4 175.5,378.5 176.5,378.4 177.5,378.7 178.5,378.4 179.5,378.7 180.5,379.3 181.5,380.1 182.5,380.7 183.5,381.7 184.5,382.3 185.5,382.6 186.5,383.6 187.5,383.7 188.5,383.7 189.5,383.5 190.5,383.2 191.5,382.5 192.5,382.0 193.5,381.3 194.5,380.8 195.5,380.6 196.5,380.1 197.5,379.8 198.5,379.4 199.5,378.7 200.5,377.7 201.5,377.2 202.5,376.6 203.5,375.9 204.5,375.6 205.5,375.4 206.5,375.2 207.5,375.2 208.5,374.9 209.5,375.2 210.5,375.3 211.5,375.3 212.5,375.2 213.5,375.4 214.5,375.8 215.5,376.1 216.5,375.7 217.5,374.8 218.5,374.7 219.5,374.1 220.5,374.1 221.5,374.2 222.5,373.8 223.5,373.0 224.5,372.1 225.5,371.4 226.5,371.2 227.5,371.5 228.5,371.3 229.5,370.9 230.5,370.4 231.5,369.3 232.5,368.3 233.5,367.9 234.5,366.8 235.5,365.3 236.5,363.3 237.5,360.8 238.5,358.1 239.5,355.6 240.5,353.0 241.5,350.7 242.5,349.1 243.5,347.6 244.5,346.8 245.5,345.3 246.5,344.3 247.5,343.3 248.5,342.2 249.5,340.8 250.5,339.2 251.5,337.7 252.5,335.6 253.5,333.1 254.5,329.7 255.5,327.4 256.5,324.6 257.5,321.3 258.5,318.7 259.5,316.9 260.5,315.2 261.5,314.1 262.5,314.2 263.5,314.7 264.5,315.3 265.5,315.8 266.5,317.4 267.5,320.1 268.5,322.5 269.5,324.8 270.5,327.1 271.5,328.8 272.5,329.4 273.5,329.7 274.5,329.4 275.5,328.9 276.5,327.8 277.5,327.3 278.5,326.6 279.5,326.4 280.5,326.9 281.5,327.5 282.5,329.1 283.5,331.3 284.5,333.9 285.5,336.4 286.5,338.3 287.5,338.8 288.5,340.4 289.5,342.3 290.5,343.8 291.5,344.7 292.5,344.7 293.5,344.3 294.5,344.4 295.5,344.5 296.5,344.7 297.5,345.7 298.5,345.0 299.5,343.2 300.5,340.6 301.5,338.8 302.5,336.9 303.5,335.1 304.5,332.9 305.5,330.7 306.5,328.6 307.5,326.4 308.5,324.9 309.5,324.0 310.5,324.4 311.5,324.4 312.5,324.5 313.5,324.4 314.5,324.2 315.5,324.8 316.5,325.4 317.5,325.9 318.5,325.9 319.5,325.3 320.5,324.1 321.5,323.3 322.5,322.3 323.5,321.7 324.5,321.4 325.5,320.8 326.5,320.1 327.5,319.7 328.5,319.5 329.5,320.0 330.5,320.1 331.5,319.9 332.5,320.1 333.5,319.7 334.5,318.8 335.5,317.7 336.5,316.8 337.5,315.3 338.5,314.1 339.5,313.0 340.5,311.6 341.5,309.7 342.5,306.9 343.5,304.5 344.5,301.9 345.5,298.8 346.5,296.2 347.5,293.6 348.5,291.5 349.5,289.5 350.5,288.0 351.5,287.0 352.5,287.2 353.5,287.0 354.5,287.2 355.5,287.4 356.5,287.6 357.5,288.9 358.5,289.8 359.5,289.5 360.5,288.9 361.5,288.0 362.5,286.6 363.5,285.5 364.5,284.7 365.5,284.1 366.5,283.0 367.5,281.0 368.5,278.8 369.5,277.0 370.5,275.6 371.5,274.9 372.5,273.8 373.5,272.6 374.5,270.7 375.5,269.1 376.5,267.2 377.5,265.4 378.5,264.7 379.5,264.7 380.5,264.8 381.5,263.9 382.5,263.3 383.5,262.8 384.5,263.5 385.5,264.5 386.5,265.7 387.5,266.3 388.5,265.4 389.5,263.8 390.5,261.8 391.5,259.8 392.5,257.7 393.5,255.2 394.5,252.7 395.5,249.7 396.5,247.0 397.5,244.1 398.5,242.1 399.5,240.1 400.5,238.1 401.5,236.6 402.5,234.8 403.5,233.3 404.5,232.3 405.5,231.4 406.5,230.9 407.5,231.7 408.5,231.8 409.5,231.8 410.5,232.2 411.5,232.6 412.5,233.1 413.5,233.9 414.5,233.7 415.5,232.5 416.5,230.5 417.5,228.4 418.5,226.8 419.5,224.3 420.5,222.4 421.5,220.5 422.5,219.3 423.5,217.2 424.5,215.2 425.5,213.5 426.5,213.2 427.5,212.0 428.5,211.1 429.5,210.3 430.5,208.7 431.5,206.0 432.5,202.9 433.5,200.6 434.5,197.6 435.5,195.0 436.5,190.7 437.5,185.7 438.5,179.7 439.5,174.9 440.5,171.2 441.5,169.0 442.5,167.1 443.5,165.5 444.5,165.1 445.5,164.4 446.5,164.3 447.5,165.7 448.5,166.7 449.5,167.6 450.5,167.9 451.5,167.8 452.5,168.5 453.5,169.0 454.5,171.0 455.5,173.1 456.5,175.0 457.5,176.1 458.5,177.6 459.5,178.8 460.5,179.4 461.5,179.9 462.5,179.0 463.5,177.1 464.5,174.0 465.5,171.5 466.5,170.0 467.5,168.9 468.5,168.9 469.5,168.6 470.5,169.4 471.5,170.1 472.5,171.0 473.5,173.3 474.5,176.3 475.5,178.5 476.5,180.1 477.5,182.1 478.5,183.5 479.5,185.9 480.5,187.0 481.5,188.2 482.5,190.0 483.5,190.7 484.5,190.5 485.5,190.1 486.5,189.0 487.5,187.2 488.5,186.7 489.5,185.2 490.5,183.9 491.5,182.4 492.5,180.1 493.5,177.8 494.5,175.9 495.5,173.8 496.5,171.7 497.5,170.2 498.5,167.5 499.5,166.2 500.5,165.5 501.5,164.8 502.5,164.0 503.5,163.9 504.5,164.2 505.5,163.9 506.5,165.1 507.5,166.1 508.5,168.0 509.5,168.5 510.5,168.6 511.5,168.8 512.5,169.6 513.5,171.2 514.5,172.3 515.5,174.7 516.5,176.5 517.5,178.4 518.5,180.2 519.5,183.1 520.5,186.3 521.5,190.4 522.5,194.5 523.5,198.4 524.5,202.4 525.5,207.1 526.5,212.1 527.5,216.8 528.5,220.5 529.5,223.6 530.5,226.5 531.5,229.2 532.5,232.1 533.5,234.4 534.5,236.5 535.5,237.8 536.5,238.5 537.5,239.5 538.5,240.4 539.5,240.8 540.5,241.0 541.5,240.8 542.5,240.1 543.5,239.5 544.5,238.1 545.5,237.3 546.5,236.3 547.5,235.8 548.5,235.9 549.5,235.9 550.5,236.6 551.5,237.8 552.5,239.1 553.5,240.5 554.5,242.5 555.5,244.1 556.5,246.3 557.5,248.5 558.5,250.8 559.5,253.4 560.5,255.8 561.5,257.8 562.5,259.3 563.5,260.3 564.5,261.1 565.5,260.9 566.5,260.5 567.5,259.8 568.5,258.5 569.5,257.1 570.5,254.7 571.5,252.5 572.5,250.9 573.5,249.9 574.5,248.9 575.5,248.3 576.5,248.1 577.5,248.6 578.5,249.4 579.5,250.3 580.5,251.2 581.5,252.5 582.5,253.3 583.5,252.9 584.5,252.8 585.5,252.6 586.5,251.6 587.5,250.1 588.5,249.2 589.5,248.3 590.5,248.2 591.5,248.1 592.5,248.6 593.5,249.7 594.5,250.4 595.5,251.3 596.5,252.7 597.5,254.6 598.5,256.1 599.5,257.9 600.5,260.1 601.5,261.3 602.5,262.3 603.5,264.1 604.5,266.3 605.5,269.2 606.5,271.7 607.5,273.1 608.5,274.0 609.5,274.0 610.5,273.0 611.5,272.7 612.5,272.0 613.5,270.9 614.5,268.6 615.5,265.7 616.5,263.1 617.5,261.1 618.5,259.0 619.5,258.1 620.5,258.7 621.5,259.4 622.5,260.2 623.5,261.1 624.5,263.1 625.5,264.0 626.5,265.1 627.5,266.4 628.5,268.3 629.5,270.0 630.5,270.9 631.5,271.2 632.5,271.5 633.5,271.7 634.5,271.6 635.5,272.7 636.5,274.0 637.5,275.7 638.5,276.9 639.5,277.5 640.5,278.2 641.5,279.7 642.5,281.0 643.5,282.3 644.5,283.2 645.5,283.8 646.5,283.9 647.5,283.8 648.5,284.2 649.5,284.0 650.5,283.3 651.5,282.2 652.5,281.0 653.5,279.1 654.5,278.8 655.5,279.0 656.5,279.6 657.5,279.9 658.5,280.4 659.5,281.6 660.5,283.5 661.5,285.1 662.5,286.7 663.5,289.0 664.5,290.2 665.5,291.1 666.5,291.6 667.5,291.5 668.5,290.8 669.5,289.8 670.5,288.2 671.5,285.7 672.5,282.7 673.5,280.0 674.5,278.0 675.5,275.9 676.5,273.2 677.5,270.9 678.5,269.1 679.5,267.2 680.5,265.0 681.5,263.7 682.5,263.1 683.5,261.7 684.5,259.5 685.5,257.1 686.5,256.3 687.5,255.3 688.5,253.6 689.5,252.0 690.5,250.6 691.5,248.9 692.5,247.6 693.5,246.4 694.5,245.6 695.5,244.6 696.5,243.6 697.5,242.8 698.5,242.1 699.5,241.5 700.5,241.1 701.5,241.4 702.5,241.0 703.5,241.0 704.5,241.3 705.5,243.3 706.5,244.6 707.5,245.8 708.5,247.5 709.5,249.9 710.5,252.2 711.5,254.2 712.5,257.5 713.5,261.1 714.5,264.7 715.5,266.7 716.5,269.1 717.5,271.8 718.5,273.9 719.5,275.1 720.5,275.3 721.5,275.8 722.5,275.3 723.5,274.5 724.5,273.2 725.5,271.8 726.5,269.2 727.5,266.8 728.5,264.5 729.5,262.4 730.5,261.2 731.5,259.8 732.5,258.0 733.5,257.2 734.5,256.5 735.5,256.6 736.5,257.9 737.5,258.3 738.5,258.3 739.5,258.1 740.5,257.9 741.5,257.8 742.5,258.8 743.5,258.5 744.5,258.6 745.5,258.0 746.5,257.0 747.5,256.2 748.5,255.9 749.5,255.5 750.5,254.9 751.5,253.8 752.5,251.6 753.5,250.1 754.5,249.0 755.5,248.9 756.5,248.9 757.5,249.1 758.5,249.1 759.5,249.8 760.5,250.6 761.5,251.5 762.5,253.1 763.5,254.4 764.5,254.5 765.5,254.1 766.5,253.2 767.5,252.5 768.5,253.2 769.5,252.8 770.5,252.3 771.5,251.9 772.5,251.5 773.5,250.4 774.5,249.3 775.5,248.5 776.5,248.0 777.5,247.3 778.5,246.4 779.5,245.7 780.5,245.3 781.5,244.6 782.5,244.4 783.5,243.8 784.5,243.4 785.5,242.7 786.5,242.7 787.5,243.0 788.5,243.1 789.5,243.0 790.5,243.4 791.5,244.2 792.5,244.3 793.5,246.0 794.5,247.5 795.5,248.7 796.5,249.8 797.5,250.6 798.5,251.3 799.5,253.4 800.5,255.4 801.5,258.1 802.5,260.5 803.5,261.7 804.5,262.7 805.5,264.0 806.5,264.5 807.5,265.6 808.5,266.3 809.5,265.8 810.5,265.4 811.5,264.4 812.5,263.9 813.5,264.1 814.5,264.7 815.5,265.2 816.5,266.1 817.5,266.4 818.5,266.4 819.5,266.7 820.5,265.6 821.5,264.4 822.5,262.9 823.5,261.5 824.5,259.1 825.5,257.6 826.5,255.4 827.5,252.8 828.5,249.9 829.5,247.5 830.5,246.3 831.5,245.2 832.5,244.7 833.5,244.2 834.5,244.8 835.5,244.4 836.5,244.5 837.5,245.6 838.5,248.1 839.5,249.5 840.5,250.3 841.5,250.6 842.5,250.7 843.5,249.9 844.5,248.3 845.5,246.8 846.5,244.5 847.5,241.3 848.5,237.2 849.5,233.2 850.5,229.2 851.5,225.6 852.5,222.2 853.5,219.6 854.5,216.5 855.5,213.5 856.5,211.4 857.5,209.8 858.5,208.2 859.5,207.2 860.5,207.0 861.5,206.5 862.5,205.6 863.5,205.0 864.5,206.3 865.5,207.8 866.5,209.4 867.5,210.6 868.5,212.1 869.5,213.5 870.5,214.1 871.5,215.7 872.5,217.1 873.5,217.6 874.5,216.6 875.5,215.4 876.5,213.9 877.5,211.9 878.5,208.6 879.5,205.6 880.5,202.9 881.5,199.1 882.5,195.9 883.5,193.2 884.5,190.7 885.5,187.4 886.5,184.2 887.5,182.4 888.5,181.2 889.5,179.7 890.5,178.1 891.5,177.2 892.5,175.2 893.5,173.6 894.5,172.2 895.5,172.0 896.5,171.0 897.5,169.2 898.5,167.3 899.5,165.6 900.5,163.5 901.5,159.5 902.5,156.0 903.5,152.3 904.5,146.7 905.5,140.8 906.5,136.1 907.5,131.2 908.5,127.4 909.5,123.7 910.5,121.6 911.5,121.9 912.5,123.3 913.5,124.1 914.5,126.6 915.5,128.9 916.5,130.6 917.5,133.4 918.5,134.8 919.5,137.1 920.5,138.3 921.5,139.0 922.5,138.8 923.5,138.8 924.5,138.9 925.5,139.4 926.5,139.6 927.5,139.4 928.5,139.8 929.5,138.8 930.5,139.0 931.5,139.1 932.5,139.6 933.5,140.9 934.5,143.1 935.5,145.1 936.5,147.5 937.5,149.5 938.5,152.3 939.5,154.9 940.5,156.8 941.5,157.4 942.5,157.0 943.5,157.0 944.5,155.6 945.5,153.3 946.5,150.8 947.5,148.9 948.5,147.3 949.5,146.4 950.5,145.4 951.5,145.6 952.5,146.1 953.5,146.5 954.5,147.4 955.5,149.1 956.5,151.1 957.5,152.6 958.5,153.2 959.5,153.6 960.5,153.4 961.5,153.7 962.5,154.4 963.5,155.2 964.5,156.2 965.5,157.0 966.5,158.4 967.5,158.5 968.5,158.7 969.5,158.6 970.5,159.2 971.5,159.3 972.5,158.2 973.5,156.7 974.5,155.8 975.5,155.6 976.5,154.7 977.5,154.6 978.5,154.3 979.5,154.6 980.5,153.8 981.5,153.0 982.5,151.7 983.5,150.6 984.5,147.8 985.5,144.8 986.5,140.7 987.5,136.2 988.5,132.8 989.5,129.4 990.5,126.2 991.5,122.3 992.5,120.5 993.5,119.1 994.5,119.3 995.5,119.4 996.5,121.4 997.5,124.2 998.5,126.1 999.5,128.3 1000.5,131.3 1001.5,134.5 1002.5,137.3 1003.5,139.9 1004.5,142.3 1005.5,144.7 1006.5,147.5 1007.5,150.7" fill="none" stroke="#ee9a34" stroke-width="2.0" stroke-linejoin="round" />
<polyline points="13.5,434.4 14.5,434.2 15.5,433.6 16.5,433.1 17.5,433.1 18.5,433.0 19.5,432.6 20.5,432.6 21.5,432.5 22.5,431.6 23.5,430.7 24.5,430.2 25.5,429.8 26.5,428.6 27.5,427.6 28.5,426.6 29.5,425.4 30.5,423.6 31.5,423.0 32.5,422.1 33.5,422.3 34.5,422.7 35.5,423.2 36.5,422.4 37.5,422.0 38.5,421.4 39.5,420.9 40.5,420.0 41.5,420.3 42.5,420.4 43.5,420.3 44.5,420.8 45.5,421.3 46.5,421.8 47.5,422.6 48.5,423.1 49.5,422.7 50.5,422.7 51.5,422.8 52.5,422.2 53.5,422.4 54.5,423.4 55.5,423.7 56.5,424.6 57.5,426.0 58.5,426.6 59.5,427.2 60.5,428.4 61.5,428.0 62.5,427.6 63.5,427.8 64.5,426.9 65.5,426.4 66.5,426.4 67.5,426.6 68.5,427.0 69.5,426.9 70.5,426.5 71.5,426.1 72.5,425.5 73.5,423.9 74.5,422.9 75.5,422.0 76.5,421.8 77.5,421.9 78.5,421.6 79.5,421.1 80.5,420.9 81.5,419.5 82.5,417.9 83.5,417.3 84.5,417.5 85.5,417.4 86.5,417.8 87.5,418.0 88.5,418.1 89.5,418.4 90.5,418.3 91.5,418.5 92.5,419.1 93.5,419.6 94.5,419.2 95.5,418.8 96.5,418.7 97.5,418.3 98.5,418.5 99.5,418.8 100.5,419.3 101.5,419.7 102.5,420.0 103.5,420.0 104.5,419.9 105.5,420.1 106.5,419.6 107.5,419.7 108.5,418.7 109.5,417.6 110.5,416.7 111.5,416.4 112.5,416.2 113.5,417.7 114.5,418.8 115.5,419.3 116.5,419.9 117.5,420.2 118.5,419.3 119.5,418.9 120.5,419.0 121.5,418.9 122.5,418.1 123.5,417.4 124.5,416.9 125.5,415.7 126.5,414.6 127.5,413.8 128.5,413.5 129.5,413.1 130.5,413.0 131.5,412.2 132.5,411.7 133.5,409.8 134.5,407.9 135.5,406.6 136.5,404.8 137.5,403.9 138.5,403.1 139.5,403.0 140.5,402.0 141.5,402.2 142.5,401.6 143.5,400.9 144.5,400.3 145.5,400.5 146.5,399.7 147.5,398.7 148.5,398.3 149.5,396.6 150.5,395.2 151.5,393.7 152.5,392.6 153.5,391.2 154.5,390.2 155.5,388.0 156.5,387.2 157.5,386.1 158.5,385.8 159.5,385.1 160.5,383.3 161.5,379.5 162.5,376.1 163.5,373.3 164.5,371.8 165.5,372.2 166.5,373.8 167.5,375.7 168.5,378.2 169.5,379.4 170.5,379.5 171.5,379.8 172.5,380.1 173.5,378.2 174.5,377.5 175.5,377.5 176.5,377.1 177.5,377.3 178.5,378.6 179.5,379.9 180.5,381.0 181.5,383.1 182.5,384.0 183.5,384.8 184.5,384.7 185.5,384.2 186.5,384.0 187.5,383.4 188.5,382.6 189.5,382.4 190.5,382.2 191.5,381.0 192.5,380.7 193.5,380.0 194.5,379.3 195.5,378.9 196.5,379.1 197.5,378.9 198.5,378.7 199.5,378.0 200.5,376.6 201.5,375.3 202.5,374.3 203.5,373.2 204.5,373.1 205.5,374.3 206.5,375.2 207.5,376.1 208.5,376.6 209.5,377.2 210.5,376.3 211.5,375.4 212.5,374.3 213.5,374.2 214.5,374.4 215.5,375.9 216.5,376.0 217.5,375.3 218.5,375.1 219.5,373.7 220.5,372.3 221.5,372.4 222.5,372.4 223.5,370.8 224.5,370.5 225.5,370.4 226.5,369.9 227.5,370.6 228.5,371.7 229.5,371.2 230.5,370.3 231.5,368.7 232.5,366.1 233.5,364.0 234.5,362.4 235.5,360.4 236.5,357.9 237.5,355.6 238.5,352.3 239.5,348.8 240.5,345.6 241.5,343.5 242.5,342.6 243.5,342.9 244.5,344.9 245.5,345.0 246.5,345.2 247.5,343.9 248.5,341.6 249.5,336.7 250.5,333.4 251.5,330.3 252.5,327.4 253.5,324.7 254.5,322.7 255.5,321.4 256.5,319.0 257.5,315.3 258.5,312.7 259.5,311.2 260.5,309.1 261.5,309.2 262.5,313.1 263.5,316.6 264.5,319.4 265.5,322.6 266.5,325.6 267.5,327.1 268.5,328.3 269.5,330.1 270.5,331.6 271.5,331.9 272.5,331.7 273.5,331.0 274.5,328.7 275.5,326.2 276.5,323.6 277.5,322.8 278.5,322.2 279.5,324.2 280.5,327.6 281.5,331.4 282.5,335.4 283.5,340.4 284.5,343.7 285.5,345.2 286.5,345.3 287.5,342.2 288.5,340.5 289.5,341.0 290.5,342.4 291.5,344.1 292.5,347.2 293.5,348.2 294.5,347.9 295.5,346.7 296.5,345.4 297.5,344.2 298.5,341.9 299.5,338.6 300.5,334.5 301.5,332.2 302.5,329.7 303.5,328.2 304.5,327.1 305.5,326.8 306.5,325.1 307.5,323.2 308.5,321.6 309.5,320.9 310.5,322.0 311.5,323.7 312.5,325.7 313.5,327.1 314.5,327.5 315.5,327.6 316.5,327.0 317.5,326.0 318.5,324.7 319.5,323.1 320.5,320.7 321.5,319.5 322.5,318.7 323.5,318.6 324.5,319.7 325.5,321.0 326.5,320.8 327.5,320.8 328.5,320.3 329.5,320.3 330.5,319.2 331.5,319.1 332.5,319.4 333.5,319.1 334.5,317.3 335.5,316.2 336.5,314.4 337.5,311.2 338.5,309.1 339.5,308.6 340.5,307.0 341.5,304.9 342.5,302.5 343.5,299.9 344.5,295.1 345.5,290.5 346.5,287.5 347.5,284.7 348.5,283.1 349.5,283.9 350.5,285.5 351.5,286.5 352.5,289.8 353.5,290.9 354.5,290.4 355.5,289.4 356.5,288.7 357.5,288.1 358.5,288.7 359.5,288.6 360.5,288.4 361.5,287.3 362.5,285.2 363.5,282.3 364.5,280.8 365.5,279.9 366.5,278.6 367.5,276.8 368.5,275.2 369.5,273.2 370.5,271.3 371.5,271.1 372.5,270.8 373.5,270.0 374.5,268.1 375.5,266.9 376.5,263.3 377.5,260.1 378.5,259.4 379.5,261.3 380.5,262.7 381.5,264.5 382.5,266.4 383.5,266.2 384.5,265.6 385.5,266.2 386.5,266.9 387.5,266.2 388.5,264.5 389.5,261.9 390.5,257.5 391.5,252.7 392.5,249.1 393.5,245.8 394.5,243.6 395.5,241.9 396.5,241.3 397.5,239.2 398.5,238.4 399.5,236.5 400.5,234.2 401.5,232.0 402.5,230.5 403.5,228.3 404.5,228.1 405.5,228.6 406.5,229.9 407.5,233.0 408.5,235.2 409.5,235.6 410.5,235.8 411.5,235.4 412.5,233.2 413.5,232.7 414.5,231.8 415.5,229.2 416.5,225.6 417.5,223.6 418.5,221.0 419.5,216.9 420.5,215.7 421.5,215.4 422.5,215.0 423.5,213.5 424.5,213.6 425.5,211.2 426.5,211.1 427.5,209.0 428.5,208.6 429.5,207.1 430.5,206.1 431.5,200.8 432.5,196.8 433.5,192.7 434.5,188.1 435.5,184.0 436.5,180.5 437.5,174.5 438.5,166.6 439.5,161.7 440.5,158.4 441.5,157.5 442.5,159.7 443.5,164.4 444.5,168.6 445.5,170.5 446.5,171.2 447.5,171.8 448.5,169.0 449.5,166.6 450.5,165.3 451.5,164.4 452.5,165.2 453.5,169.0 454.5,175.4 455.5,180.9 456.5,185.6 457.5,186.9 458.5,186.1 459.5,182.2 460.5,177.8 461.5,174.2 462.5,171.1 463.5,168.0 464.5,165.8 465.5,165.1 466.5,165.9 467.5,166.8 468.5,169.9 469.5,171.3 470.5,173.7 471.5,174.4 472.5,175.2 473.5,176.8 474.5,181.3 475.5,183.2 476.5,185.7 477.5,188.9 478.5,190.3 479.5,190.5 480.5,190.9 481.5,190.6 482.5,191.0 483.5,191.1 484.5,190.6 485.5,189.4 486.5,187.4 487.5,183.3 488.5,182.3 489.5,179.9 490.5,178.5 491.5,177.3 492.5,176.8 493.5,173.4 494.5,171.9 495.5,169.2 496.5,166.1 497.5,163.6 498.5,161.6 499.5,160.4 500.5,161.8 501.5,163.5 502.5,164.4 503.5,166.1 504.5,167.9 505.5,166.1 506.5,166.8 507.5,167.8 508.5,169.8 509.5,169.0 510.5,171.1 511.5,170.9 512.5,171.4 513.5,172.6 514.5,175.6 515.5,178.3 516.5,182.1 517.5,185.4 518.5,187.7 519.5,190.5 520.5,194.3 521.5,198.6 522.5,203.7 523.5,209.1 524.5,214.3 525.5,219.9 526.5,225.6 527.5,229.9 528.5,231.9 529.5,233.0 530.5,233.2 531.5,232.8 532.5,234.3 533.5,237.0 534.5,240.0 535.5,242.4 536.5,244.2 537.5,244.6 538.5,243.9 539.5,241.7 540.5,239.7 541.5,237.4 542.5,235.7 543.5,235.0 544.5,234.5 545.5,234.9 546.5,235.2 547.5,235.8 548.5,236.7 549.5,237.3 550.5,238.2 551.5,240.3 552.5,242.3 553.5,244.2 554.5,247.6 555.5,249.9 556.5,252.3 557.5,254.6 558.5,257.3 559.5,259.2 560.5,261.7 561.5,263.3 562.5,264.0 563.5,263.3 564.5,263.1 565.5,260.2 566.5,257.8 567.5,255.5 568.5,253.6 569.5,251.1 570.5,249.2 571.5,247.2 572.5,246.3 573.5,246.3 574.5,246.8 575.5,247.5 576.5,249.1 577.5,250.8 578.5,252.5 579.5,253.8 580.5,254.8 581.5,255.9 582.5,255.8 583.5,253.3 584.5,251.8 585.5,250.4 586.5,247.2 587.5,244.3 588.5,245.1 589.5,244.8 590.5,245.9 591.5,249.1 592.5,252.8 593.5,254.4 594.5,256.0 595.5,256.6 596.5,256.3 597.5,256.3 598.5,257.8 599.5,259.9 600.5,263.6 601.5,266.4 602.5,268.3 603.5,270.4 604.5,272.6 605.5,274.7 606.5,276.9 607.5,277.8 608.5,277.5 609.5,275.4 610.5,271.3 611.5,268.4 612.5,266.2 613.5,264.2 614.5,261.7 615.5,260.0 616.5,257.7 617.5,256.0 618.5,253.7 619.5,254.5 620.5,257.4 621.5,261.0 622.5,264.4 623.5,268.6 624.5,271.7 625.5,270.7 626.5,269.2 627.5,268.5 628.5,268.0 629.5,268.3 630.5,271.2 631.5,273.2 632.5,274.5 633.5,275.5 634.5,274.9 635.5,274.3 636.5,274.8 637.5,277.0 638.5,278.2 639.5,280.1 640.5,282.2 641.5,284.6 642.5,285.0 643.5,286.4 644.5,286.3 645.5,285.4 646.5,283.3 647.5,282.6 648.5,282.0 649.5,281.7 650.5,281.1 651.5,281.0 652.5,279.4 653.5,276.2 654.5,275.9 655.5,276.9 656.5,278.3 657.5,280.3 658.5,284.6 659.5,287.2 660.5,290.2 661.5,291.9 662.5,293.2 663.5,293.5 664.5,293.1 665.5,292.1 666.5,291.3 667.5,289.9 668.5,288.2 669.5,286.6 670.5,284.2 671.5,280.1 672.5,275.5 673.5,271.8 674.5,269.5 675.5,267.6 676.5,266.3 677.5,266.3 678.5,266.3 679.5,264.8 680.5,262.3 681.5,261.1 682.5,259.9 683.5,257.1 684.5,254.1 685.5,251.9 686.5,251.5 687.5,250.6 688.5,250.1 689.5,249.9 690.5,249.4 691.5,246.4 692.5,244.6 693.5,242.6 694.5,241.2 695.5,239.9 696.5,240.8 697.5,241.1 698.5,241.6 699.5,241.8 700.5,242.4 701.5,242.1 702.5,240.9 703.5,240.4 704.5,240.8 705.5,244.1 706.5,247.2 707.5,250.8 708.5,254.6 709.5,259.0 710.5,260.2 711.5,261.2 712.5,264.3 713.5,267.6 714.5,270.4 715.5,273.3 716.5,276.9 717.5,279.3 718.5,280.1 719.5,279.7 720.5,277.4 721.5,274.7 722.5,271.3 723.5,268.8 724.5,266.8 725.5,266.3 726.5,263.8 727.5,262.3 728.5,260.3 729.5,258.1 730.5,256.2 731.5,255.9 732.5,253.7 733.5,254.1 734.5,254.9 735.5,256.9 736.5,259.8 737.5,263.0 738.5,262.4 739.5,261.2 740.5,258.8 741.5,255.9 742.5,254.7 743.5,254.6 744.5,256.0 745.5,257.2 746.5,258.1 747.5,257.6 748.5,257.2 749.5,255.0 750.5,252.7 751.5,249.6 752.5,245.6 753.5,243.0 754.5,243.0 755.5,245.1 756.5,248.3 757.5,252.6 758.5,255.2 759.5,256.6 760.5,256.0 761.5,254.8 762.5,253.5 763.5,253.6 764.5,252.5 765.5,252.2 766.5,251.5 767.5,251.4 768.5,252.8 769.5,253.2 770.5,252.5 771.5,252.2 772.5,251.7 773.5,248.1 774.5,245.5 775.5,244.5 776.5,243.7 777.5,243.0 778.5,244.8 779.5,245.8 780.5,246.0 781.5,245.5 782.5,245.8 783.5,242.9 784.5,240.9 785.5,239.5 786.5,239.9 787.5,240.1 788.5,243.4 789.5,245.1 790.5,247.4 791.5,248.4 792.5,248.4 793.5,248.5 794.5,250.0 795.5,249.9 796.5,251.2 797.5,252.8 798.5,254.1 799.5,256.9 800.5,261.0 801.5,265.1 802.5,268.2 803.5,269.2 804.5,268.6 805.5,267.0 806.5,264.0 807.5,263.0 808.5,263.3 809.5,262.9 810.5,263.9 811.5,264.9 812.5,264.9 813.5,265.0 814.5,266.4 815.5,266.5 816.5,267.4 817.5,267.8 818.5,267.8 819.5,266.9 820.5,264.6 821.5,261.4 822.5,258.1 823.5,255.2 824.5,251.3 825.5,250.5 826.5,249.5 827.5,247.5 828.5,244.6 829.5,243.6 830.5,242.0 831.5,241.0 832.5,241.9 833.5,243.8 834.5,245.9 835.5,246.8 836.5,248.0 837.5,249.4 838.5,252.4 839.5,253.0 840.5,253.7 841.5,253.3 842.5,252.0 843.5,247.4 844.5,243.7 845.5,239.9 846.5,235.7 847.5,230.6 848.5,227.1 849.5,222.8 850.5,218.4 851.5,215.6 852.5,213.9 853.5,212.1 854.5,210.2 855.5,208.6 856.5,207.2 857.5,205.6 858.5,204.3 859.5,204.2 860.5,205.3 861.5,205.7 862.5,205.6 863.5,205.7 864.5,208.4 865.5,210.2 866.5,213.1 867.5,215.6 868.5,218.6 869.5,218.6 870.5,218.0 871.5,218.3 872.5,218.7 873.5,216.6 874.5,214.7 875.5,212.8 876.5,209.5 877.5,205.2 878.5,200.6 879.5,196.6 880.5,192.9 881.5,188.7 882.5,186.6 883.5,185.8 884.5,184.8 885.5,181.9 886.5,179.7 887.5,178.2 888.5,176.6 889.5,174.6 890.5,174.2 891.5,174.7 892.5,172.3 893.5,170.5 894.5,169.8 895.5,169.7 896.5,167.2 897.5,166.1 898.5,164.1 899.5,161.4 900.5,157.2 901.5,151.8 902.5,146.0 903.5,140.4 904.5,131.9 905.5,124.4 906.5,120.5 907.5,116.5 908.5,114.4 909.5,115.4 910.5,118.8 911.5,123.4 912.5,130.0 913.5,133.7 914.5,137.8 915.5,139.0 916.5,137.7 917.5,136.8 918.5,135.8 919.5,136.4 920.5,137.6 921.5,140.2 922.5,140.9 923.5,141.9 924.5,141.4 925.5,141.3 926.5,139.0 927.5,137.8 928.5,137.8 929.5,136.2 930.5,136.8 931.5,139.3 932.5,141.3 933.5,144.1 934.5,149.9 935.5,153.4 936.5,155.8 937.5,157.7 938.5,160.6 939.5,159.9 940.5,160.2 941.5,159.0 942.5,156.2 943.5,153.4 944.5,151.4 945.5,146.4 946.5,142.7 947.5,141.7 948.5,141.2 949.5,141.4 950.5,144.4 951.5,148.5 952.5,150.6 953.5,151.8 954.5,153.4 955.5,153.9 956.5,153.7 957.5,154.5 958.5,154.6 959.5,153.8 960.5,153.0 961.5,153.7 962.5,154.3 963.5,155.8 964.5,158.5 965.5,161.1 966.5,163.1 967.5,162.7 968.5,161.5 969.5,158.6 970.5,157.4 971.5,155.5 972.5,153.6 973.5,151.8 974.5,153.0 975.5,153.8 976.5,154.0 977.5,155.5 978.5,156.8 979.5,156.1 980.5,153.8 981.5,152.0 982.5,147.9 983.5,144.5 984.5,139.4 985.5,135.9 986.5,129.5 987.5,124.6 988.5,121.0 989.5,119.3 990.5,116.5 991.5,115.1 992.5,116.3 993.5,117.1 994.5,119.4 995.5,122.3 996.5,127.7 997.5,132.0 998.5,135.1 999.5,137.2 1000.5,140.2 1001.5,141.3 1002.5,142.7 1003.5,144.8 1004.5,147.4 1005.5,149.1 1006.5,153.6 1007.5,158.7" fill="none" stroke="#e6c24a" stroke-width="1.6" stroke-linejoin="round" opacity="0.85"/>
<polyline points="308.5,385.9 309.5,385.5 310.5,385.2 311.5,384.8 312.5,384.5 313.5,384.1 314.5,383.8 315.5,383.4 316.5,383.1 317.5,382.7 318.5,382.3 319.5,381.9 320.5,381.6 321.5,381.2 322.5,380.8 323.5,380.5 324.5,380.1 325.5,379.8 326.5,379.4 327.5,379.1 328.5,378.7 329.5,378.4 330.5,378.1 331.5,377.7 332.5,377.4 333.5,377.0 334.5,376.7 335.5,376.3 336.5,376.0 337.5,375.6 338.5,375.2 339.5,374.9 340.5,374.5 341.5,374.1 342.5,373.7 343.5,373.3 344.5,372.9 345.5,372.4 346.5,372.0 347.5,371.5 348.5,371.0 349.5,370.6 350.5,370.2 351.5,369.7 352.5,369.3 353.5,368.8 354.5,368.4 355.5,367.9 356.5,367.4 357.5,367.0 358.5,366.5 359.5,366.0 360.5,365.5 361.5,365.0 362.5,364.6 363.5,364.0 364.5,363.5 365.5,363.0 366.5,362.5 367.5,362.0 368.5,361.4 369.5,360.9 370.5,360.4 371.5,359.9 372.5,359.4 373.5,358.8 374.5,358.3 375.5,357.8 376.5,357.2 377.5,356.7 378.5,356.1 379.5,355.7 380.5,355.2 381.5,354.7 382.5,354.2 383.5,353.7 384.5,353.2 385.5,352.7 386.5,352.2 387.5,351.8 388.5,351.2 389.5,350.7 390.5,350.2 391.5,349.6 392.5,349.1 393.5,348.5 394.5,347.9 395.5,347.4 396.5,346.8 397.5,346.2 398.5,345.6 399.5,345.0 400.5,344.3 401.5,343.7 402.5,343.1 403.5,342.4 404.5,341.8 405.5,341.2 406.5,340.5 407.5,339.9 408.5,339.3 409.5,338.7 410.5,338.1 411.5,337.5 412.5,336.8 413.5,336.1 414.5,335.5 415.5,334.8 416.5,334.1 417.5,333.4 418.5,332.7 419.5,331.9 420.5,331.2 421.5,330.5 422.5,329.8 423.5,329.1 424.5,328.4 425.5,327.7 426.5,327.1 427.5,326.4 428.5,325.7 429.5,325.0 430.5,324.3 431.5,323.5 432.5,322.8 433.5,322.1 434.5,321.4 435.5,320.6 436.5,319.9 437.5,319.1 438.5,318.3 439.5,317.5 440.5,316.7 441.5,316.0 442.5,315.2 443.5,314.5 444.5,313.8 445.5,313.1 446.5,312.4 447.5,311.7 448.5,310.9 449.5,310.2 450.5,309.4 451.5,308.7 452.5,308.0 453.5,307.3 454.5,306.7 455.5,306.1 456.5,305.4 457.5,304.7 458.5,304.0 459.5,303.3 460.5,302.6 461.5,301.9 462.5,301.2 463.5,300.5 464.5,299.8 465.5,299.0 466.5,298.3 467.5,297.6 468.5,296.8 469.5,296.1 470.5,295.4 471.5,294.7 472.5,294.0 473.5,293.3 474.5,292.7 475.5,292.0 476.5,291.4 477.5,290.7 478.5,290.1 479.5,289.4 480.5,288.8 481.5,288.1 482.5,287.5 483.5,286.9 484.5,286.2 485.5,285.6 486.5,284.9 487.5,284.3 488.5,283.6 489.5,283.0 490.5,282.4 491.5,281.7 492.5,281.1 493.5,280.4 494.5,279.8 495.5,279.1 496.5,278.4 497.5,277.7 498.5,277.0 499.5,276.4 500.5,275.7 501.5,275.1 502.5,274.4 503.5,273.7 504.5,273.1 505.5,272.4 506.5,271.8 507.5,271.1 508.5,270.4 509.5,269.8 510.5,269.1 511.5,268.4 512.5,267.8 513.5,267.1 514.5,266.5 515.5,265.9 516.5,265.2 517.5,264.6 518.5,264.0 519.5,263.5 520.5,262.9 521.5,262.3 522.5,261.8 523.5,261.3 524.5,260.8 525.5,260.3 526.5,259.9 527.5,259.4 528.5,258.9 529.5,258.4 530.5,257.9 531.5,257.5 532.5,257.1 533.5,256.6 534.5,256.2 535.5,255.8 536.5,255.4 537.5,255.0 538.5,254.6 539.5,254.2 540.5,253.8 541.5,253.4 542.5,253.0 543.5,252.6 544.5,252.2 545.5,251.8 546.5,251.3 547.5,250.9 548.5,250.6 549.5,250.2 550.5,249.9 551.5,249.6 552.5,249.3 553.5,249.0 554.5,248.7 555.5,248.5 556.5,248.2 557.5,248.1 558.5,247.9 559.5,247.7 560.5,247.5 561.5,247.3 562.5,247.1 563.5,246.9 564.5,246.7 565.5,246.4 566.5,246.1 567.5,245.9 568.5,245.6 569.5,245.3 570.5,245.0 571.5,244.7 572.5,244.5 573.5,244.2 574.5,244.0 575.5,243.8 576.5,243.6 577.5,243.3 578.5,243.1 579.5,242.9 580.5,242.6 581.5,242.4 582.5,242.1 583.5,241.8 584.5,241.4 585.5,241.1 586.5,240.8 587.5,240.5 588.5,240.2 589.5,239.9 590.5,239.6 591.5,239.3 592.5,239.0 593.5,238.7 594.5,238.4 595.5,238.2 596.5,237.9 597.5,237.6 598.5,237.4 599.5,237.2 600.5,237.1 601.5,236.9 602.5,236.7 603.5,236.6 604.5,236.5 605.5,236.3 606.5,236.2 607.5,236.1 608.5,236.0 609.5,235.9 610.5,235.7 611.5,235.5 612.5,235.3 613.5,235.2 614.5,235.0 615.5,234.8 616.5,234.6 617.5,234.4 618.5,234.2 619.5,234.1 620.5,234.0 621.5,233.9 622.5,233.8 623.5,233.6 624.5,233.5 625.5,233.4 626.5,233.2 627.5,233.1 628.5,233.0 629.5,232.9 630.5,232.8 631.5,232.6 632.5,232.5 633.5,232.4 634.5,232.3 635.5,232.2 636.5,232.1 637.5,232.0 638.5,232.0 639.5,231.9 640.5,231.8 641.5,231.8 642.5,231.8 643.5,231.7 644.5,231.7 645.5,231.7 646.5,231.7 647.5,231.7 648.5,231.7 649.5,231.6 650.5,231.6 651.5,231.5 652.5,231.5 653.5,231.4 654.5,231.3 655.5,231.3 656.5,231.3 657.5,231.3 658.5,231.2 659.5,231.3 660.5,231.3 661.5,231.3 662.5,231.3 663.5,231.4 664.5,231.4 665.5,231.4 666.5,231.5 667.5,231.5 668.5,231.5 669.5,231.5 670.5,231.6 671.5,231.5 672.5,231.5 673.5,231.5 674.5,231.5 675.5,231.5 676.5,231.5 677.5,231.5 678.5,231.5 679.5,231.5 680.5,231.5 681.5,231.4 682.5,231.4 683.5,231.4 684.5,231.3 685.5,231.2 686.5,231.2 687.5,231.2 688.5,231.2 689.5,231.2 690.5,231.2 691.5,231.2 692.5,231.2 693.5,231.3 694.5,231.3 695.5,231.3 696.5,231.4 697.5,231.4 698.5,231.5 699.5,231.6 700.5,231.7 701.5,231.7 702.5,231.8 703.5,231.9 704.5,232.0 705.5,232.1 706.5,232.2 707.5,232.3 708.5,232.4 709.5,232.5 710.5,232.6 711.5,232.7 712.5,232.9 713.5,233.0 714.5,233.2 715.5,233.3 716.5,233.6 717.5,233.8 718.5,233.9 719.5,234.1 720.5,234.3 721.5,234.4 722.5,234.6 723.5,234.7 724.5,234.9 725.5,235.0 726.5,235.1 727.5,235.2 728.5,235.3 729.5,235.5 730.5,235.6 731.5,235.8 732.5,236.0 733.5,236.2 734.5,236.4 735.5,236.7 736.5,237.0 737.5,237.3 738.5,237.7 739.5,238.0 740.5,238.3 741.5,238.6 742.5,238.9 743.5,239.2 744.5,239.5 745.5,239.8 746.5,240.1 747.5,240.4 748.5,240.8 749.5,241.1 750.5,241.4 751.5,241.7 752.5,242.0 753.5,242.3 754.5,242.5 755.5,242.8 756.5,243.1 757.5,243.4 758.5,243.8 759.5,244.1 760.5,244.5 761.5,244.8 762.5,245.2 763.5,245.5 764.5,245.9 765.5,246.2 766.5,246.6 767.5,246.9 768.5,247.2 769.5,247.6 770.5,247.9 771.5,248.2 772.5,248.4 773.5,248.7 774.5,248.9 775.5,249.1 776.5,249.4 777.5,249.6 778.5,249.8 779.5,250.0 780.5,250.3 781.5,250.5 782.5,250.7 783.5,250.8 784.5,251.0 785.5,251.2 786.5,251.4 787.5,251.6 788.5,251.8 789.5,252.0 790.5,252.3 791.5,252.5 792.5,252.7 793.5,253.0 794.5,253.2 795.5,253.4 796.5,253.7 797.5,254.0 798.5,254.3 799.5,254.6 800.5,254.8 801.5,255.1 802.5,255.4 803.5,255.7 804.5,255.9 805.5,256.2 806.5,256.4 807.5,256.7 808.5,256.9 809.5,257.2 810.5,257.4 811.5,257.7 812.5,258.0 813.5,258.2 814.5,258.4 815.5,258.7 816.5,258.9 817.5,259.1 818.5,259.3 819.5,259.5 820.5,259.7 821.5,259.8 822.5,259.9 823.5,260.0 824.5,260.0 825.5,260.0 826.5,260.0 827.5,260.1 828.5,260.1 829.5,260.1 830.5,260.1 831.5,260.1 832.5,260.1 833.5,260.1 834.5,260.1 835.5,260.1 836.5,260.1 837.5,260.1 838.5,260.2 839.5,260.2 840.5,260.3 841.5,260.3 842.5,260.4 843.5,260.4 844.5,260.4 845.5,260.3 846.5,260.3 847.5,260.2 848.5,260.1 849.5,260.1 850.5,259.9 851.5,259.8 852.5,259.7 853.5,259.6 854.5,259.4 855.5,259.2 856.5,259.0 857.5,258.8 858.5,258.6 859.5,258.4 860.5,258.2 861.5,257.9 862.5,257.7 863.5,257.5 864.5,257.4 865.5,257.2 866.5,257.1 867.5,257.0 868.5,256.9 869.5,256.8 870.5,256.7 871.5,256.6 872.5,256.5 873.5,256.3 874.5,256.2 875.5,256.0 876.5,255.9 877.5,255.7 878.5,255.4 879.5,255.2 880.5,254.9 881.5,254.7 882.5,254.4 883.5,254.2 884.5,253.9 885.5,253.6 886.5,253.4 887.5,253.1 888.5,252.8 889.5,252.5 890.5,252.1 891.5,251.8 892.5,251.4 893.5,251.0 894.5,250.6 895.5,250.2 896.5,249.8 897.5,249.3 898.5,248.8 899.5,248.3 900.5,247.8 901.5,247.2 902.5,246.6 903.5,246.0 904.5,245.2 905.5,244.5 906.5,243.8 907.5,243.1 908.5,242.5 909.5,241.8 910.5,241.2 911.5,240.6 912.5,240.1 913.5,239.5 914.5,238.9 915.5,238.4 916.5,237.9 917.5,237.3 918.5,236.8 919.5,236.3 920.5,235.8 921.5,235.3 922.5,234.8 923.5,234.3 924.5,233.7 925.5,233.3 926.5,232.8 927.5,232.4 928.5,231.9 929.5,231.4 930.5,231.0 931.5,230.5 932.5,230.2 933.5,229.8 934.5,229.4 935.5,229.1 936.5,228.8 937.5,228.4 938.5,228.1 939.5,227.8 940.5,227.5 941.5,227.1 942.5,226.8 943.5,226.4 944.5,226.0 945.5,225.7 946.5,225.3 947.5,224.9 948.5,224.6 949.5,224.2 950.5,223.9 951.5,223.6 952.5,223.3 953.5,223.0 954.5,222.7 955.5,222.3 956.5,222.0 957.5,221.7 958.5,221.3 959.5,220.9 960.5,220.5 961.5,220.2 962.5,219.8 963.5,219.5 964.5,219.1 965.5,218.8 966.5,218.5 967.5,218.1 968.5,217.8 969.5,217.4 970.5,217.1 971.5,216.8 972.5,216.5 973.5,216.2 974.5,215.9 975.5,215.6 976.5,215.3 977.5,215.1 978.5,214.8 979.5,214.5 980.5,214.2 981.5,213.9 982.5,213.6 983.5,213.2 984.5,212.9 985.5,212.6 986.5,212.2 987.5,211.8 988.5,211.5 989.5,211.1 990.5,210.8 991.5,210.4 992.5,210.0 993.5,209.7 994.5,209.4 995.5,209.1 996.5,208.9 997.5,208.6 998.5,208.3 999.5,208.0 1000.5,207.7 1001.5,207.5 1002.5,207.2 1003.5,206.9 1004.5,206.7 1005.5,206.4 1006.5,206.1 1007.5,205.8" fill="none" stroke="#e07ce0" stroke-width="1.35" stroke-linejoin="round" />
<polyline points="108.5,424.9 109.5,424.7 110.5,424.6 111.5,424.4 112.5,424.2 113.5,424.1 114.5,424.0 115.5,423.9 116.5,423.8 117.5,423.6 118.5,423.5 119.5,423.4 120.5,423.3 121.5,423.2 122.5,423.0 123.5,422.9 124.5,422.8 125.5,422.6 126.5,422.5 127.5,422.4 128.5,422.3 129.5,422.3 130.5,422.2 131.5,422.1 132.5,422.0 133.5,421.8 134.5,421.6 135.5,421.5 136.5,421.3 137.5,421.2 138.5,421.0 139.5,420.8 140.5,420.7 141.5,420.5 142.5,420.3 143.5,420.1 144.5,419.9 145.5,419.7 146.5,419.5 147.5,419.2 148.5,419.0 149.5,418.7 150.5,418.4 151.5,418.2 152.5,417.9 153.5,417.5 154.5,417.1 155.5,416.8 156.5,416.4 157.5,416.0 158.5,415.6 159.5,415.1 160.5,414.6 161.5,414.0 162.5,413.5 163.5,413.0 164.5,412.5 165.5,412.0 166.5,411.5 167.5,411.0 168.5,410.6 169.5,410.2 170.5,409.7 171.5,409.3 172.5,408.8 173.5,408.4 174.5,408.0 175.5,407.6 176.5,407.1 177.5,406.7 178.5,406.3 179.5,406.0 180.5,405.6 181.5,405.3 182.5,405.1 183.5,404.8 184.5,404.4 185.5,404.0 186.5,403.7 187.5,403.4 188.5,403.1 189.5,402.7 190.5,402.3 191.5,402.0 192.5,401.6 193.5,401.2 194.5,400.9 195.5,400.5 196.5,400.2 197.5,399.8 198.5,399.4 199.5,399.0 200.5,398.6 201.5,398.1 202.5,397.8 203.5,397.3 204.5,396.9 205.5,396.5 206.5,396.2 207.5,395.8 208.5,395.5 209.5,395.2 210.5,394.8 211.5,394.5 212.5,394.1 213.5,393.6 214.5,393.3 215.5,393.0 216.5,392.6 217.5,392.1 218.5,391.7 219.5,391.3 220.5,390.9 221.5,390.6 222.5,390.2 223.5,389.7 224.5,389.3 225.5,389.0 226.5,388.6 227.5,388.2 228.5,387.9 229.5,387.4 230.5,387.0 231.5,386.6 232.5,386.1 233.5,385.7 234.5,385.3 235.5,384.8 236.5,384.3 237.5,383.8 238.5,383.2 239.5,382.6 240.5,382.0 241.5,381.4 242.5,380.8 243.5,380.3 244.5,379.8 245.5,379.1 246.5,378.6 247.5,377.9 248.5,377.3 249.5,376.6 250.5,375.9 251.5,375.2 252.5,374.5 253.5,373.7 254.5,373.0 255.5,372.2 256.5,371.4 257.5,370.5 258.5,369.6 259.5,368.8 260.5,368.0 261.5,367.3 262.5,366.7 263.5,366.1 264.5,365.4 265.5,364.7 266.5,364.1 267.5,363.5 268.5,362.8 269.5,362.1 270.5,361.4 271.5,360.7 272.5,360.0 273.5,359.3 274.5,358.5 275.5,357.7 276.5,357.0 277.5,356.2 278.5,355.5 279.5,354.8 280.5,354.2 281.5,353.6 282.5,353.1 283.5,352.7 284.5,352.2 285.5,351.8 286.5,351.3 287.5,350.8 288.5,350.4 289.5,350.1 290.5,349.8 291.5,349.5 292.5,349.2 293.5,348.9 294.5,348.7 295.5,348.4 296.5,348.1 297.5,347.8 298.5,347.5 299.5,347.2 300.5,346.8 301.5,346.5 302.5,346.1 303.5,345.8 304.5,345.4 305.5,345.0 306.5,344.5 307.5,343.9 308.5,343.5 309.5,343.0 310.5,342.6 311.5,342.2 312.5,341.8 313.5,341.4 314.5,340.9 315.5,340.5 316.5,340.1 317.5,339.7 318.5,339.2 319.5,338.8 320.5,338.3 321.5,337.8 322.5,337.4 323.5,337.1 324.5,336.7 325.5,336.3 326.5,335.9 327.5,335.4 328.5,335.0 329.5,334.6 330.5,334.2 331.5,333.9 332.5,333.6 333.5,333.2 334.5,332.8 335.5,332.4 336.5,332.0 337.5,331.6 338.5,331.2 339.5,330.9 340.5,330.5 341.5,330.1 342.5,329.5 343.5,328.9 344.5,328.2 345.5,327.4 346.5,326.7 347.5,325.9 348.5,325.2 349.5,324.6 350.5,324.0 351.5,323.4 352.5,322.9 353.5,322.4 354.5,321.8 355.5,321.2 356.5,320.7 357.5,320.4 358.5,320.0 359.5,319.6 360.5,319.1 361.5,318.6 362.5,317.9 363.5,317.3 364.5,316.6 365.5,316.0 366.5,315.3 367.5,314.6 368.5,313.9 369.5,313.2 370.5,312.5 371.5,311.9 372.5,311.3 373.5,310.7 374.5,310.1 375.5,309.6 376.5,309.0 377.5,308.3 378.5,307.8 379.5,307.3 380.5,306.7 381.5,306.0 382.5,305.3 383.5,304.6 384.5,303.9 385.5,303.3 386.5,302.8 387.5,302.2 388.5,301.5 389.5,300.7 390.5,299.9 391.5,299.1 392.5,298.2 393.5,297.3 394.5,296.4 395.5,295.6 396.5,294.7 397.5,293.7 398.5,292.8 399.5,292.0 400.5,291.1 401.5,290.2 402.5,289.2 403.5,288.3 404.5,287.3 405.5,286.5 406.5,285.6 407.5,284.8 408.5,283.9 409.5,283.0 410.5,282.0 411.5,281.0 412.5,280.0 413.5,278.9 414.5,277.9 415.5,276.7 416.5,275.5 417.5,274.3 418.5,273.2 419.5,272.0 420.5,270.9 421.5,269.8 422.5,268.7 423.5,267.5 424.5,266.3 425.5,265.1 426.5,263.9 427.5,262.8 428.5,261.6 429.5,260.4 430.5,259.2 431.5,257.8 432.5,256.4 433.5,255.1 434.5,253.8 435.5,252.4 436.5,251.0 437.5,249.5 438.5,247.9 439.5,246.3 440.5,244.8 441.5,243.5 442.5,242.2 443.5,241.0 444.5,239.8 445.5,238.7 446.5,237.6 447.5,236.5 448.5,235.2 449.5,233.9 450.5,232.7 451.5,231.4 452.5,230.2 453.5,229.0 454.5,228.0 455.5,227.1 456.5,226.0 457.5,224.9 458.5,223.6 459.5,222.5 460.5,221.3 461.5,220.1 462.5,218.9 463.5,217.6 464.5,216.4 465.5,215.3 466.5,214.2 467.5,213.2 468.5,212.2 469.5,211.1 470.5,210.2 471.5,209.2 472.5,208.2 473.5,207.4 474.5,206.7 475.5,205.9 476.5,205.3 477.5,204.7 478.5,203.9 479.5,203.2 480.5,202.4 481.5,201.7 482.5,201.1 483.5,200.4 484.5,199.7 485.5,198.9 486.5,198.1 487.5,197.3 488.5,196.7 489.5,196.0 490.5,195.4 491.5,194.7 492.5,194.1 493.5,193.4 494.5,192.8 495.5,192.1 496.5,191.3 497.5,190.6 498.5,189.9 499.5,189.3 500.5,188.8 501.5,188.2 502.5,187.7 503.5,187.2 504.5,186.7 505.5,186.0 506.5,185.4 507.5,184.8 508.5,184.3 509.5,183.7 510.5,183.2 511.5,182.6 512.5,182.0 513.5,181.5 514.5,181.1 515.5,180.8 516.5,180.5 517.5,180.1 518.5,179.8 519.5,179.7 520.5,179.6 521.5,179.5 522.5,179.3 523.5,179.4 524.5,179.5 525.5,179.7 526.5,179.9 527.5,180.1 528.5,180.2 529.5,180.4 530.5,180.7 531.5,181.1 532.5,181.5 533.5,182.0 534.5,182.6 535.5,183.2 536.5,183.8 537.5,184.6 538.5,185.4 539.5,186.2 540.5,186.9 541.5,187.5 542.5,188.2 543.5,188.8 544.5,189.3 545.5,190.0 546.5,190.6 547.5,191.2 548.5,192.0 549.5,192.8 550.5,193.5 551.5,194.3 552.5,195.0 553.5,195.7 554.5,196.3 555.5,196.9 556.5,197.6 557.5,198.4 558.5,199.3 559.5,200.2 560.5,201.1 561.5,202.1 562.5,203.1 563.5,204.2 564.5,205.2 565.5,206.1 566.5,206.9 567.5,207.8 568.5,208.6 569.5,209.4 570.5,210.1 571.5,210.8 572.5,211.6 573.5,212.4 574.5,213.0 575.5,213.7 576.5,214.3 577.5,215.1 578.5,215.8 579.5,216.5 580.5,217.2 581.5,217.9 582.5,218.6 583.5,219.2 584.5,219.8 585.5,220.4 586.5,221.0 587.5,221.7 588.5,222.4 589.5,223.1 590.5,223.8 591.5,224.6 592.5,225.5 593.5,226.4 594.5,227.2 595.5,228.0 596.5,229.0 597.5,230.0 598.5,231.0 599.5,232.1 600.5,233.1 601.5,234.1 602.5,235.2 603.5,236.4 604.5,237.4 605.5,238.7 606.5,239.9 607.5,241.0 608.5,242.1 609.5,243.2 610.5,244.1 611.5,245.2 612.5,246.3 613.5,247.2 614.5,248.0 615.5,248.8 616.5,249.5 617.5,250.3 618.5,251.1 619.5,251.8 620.5,252.5 621.5,253.3 622.5,254.0 623.5,254.6 624.5,255.2 625.5,255.5 626.5,255.9 627.5,256.2 628.5,256.7 629.5,257.2 630.5,257.6 631.5,258.0 632.5,258.3 633.5,258.7 634.5,258.9 635.5,259.2 636.5,259.5 637.5,259.9 638.5,260.3 639.5,260.7 640.5,261.2 641.5,261.7 642.5,262.2 643.5,262.7 644.5,263.2 645.5,263.6 646.5,264.0 647.5,264.4 648.5,264.9 649.5,265.3 650.5,265.6 651.5,265.9 652.5,266.1 653.5,266.3 654.5,266.5 655.5,266.7 656.5,266.9 657.5,267.1 658.5,267.3 659.5,267.6 660.5,267.8 661.5,268.0 662.5,268.2 663.5,268.5 664.5,268.7 665.5,269.1 666.5,269.4 667.5,269.6 668.5,269.9 669.5,270.2 670.5,270.5 671.5,270.7 672.5,270.8 673.5,270.8 674.5,271.0 675.5,271.2 676.5,271.2 677.5,271.2 678.5,271.2 679.5,271.3 680.5,271.3 681.5,271.2 682.5,271.2 683.5,271.2 684.5,271.2 685.5,271.2 686.5,271.3 687.5,271.4 688.5,271.4 689.5,271.4 690.5,271.3 691.5,271.1 692.5,271.0 693.5,270.8 694.5,270.6 695.5,270.5 696.5,270.4 697.5,270.2 698.5,270.0 699.5,269.8 700.5,269.5 701.5,269.3 702.5,269.0 703.5,268.6 704.5,268.3 705.5,268.0 706.5,267.8 707.5,267.6 708.5,267.5 709.5,267.4 710.5,267.4 711.5,267.3 712.5,267.4 713.5,267.4 714.5,267.6 715.5,267.8 716.5,268.0 717.5,268.2 718.5,268.4 719.5,268.5 720.5,268.4 721.5,268.3 722.5,268.1 723.5,268.0 724.5,267.8 725.5,267.8 726.5,267.6 727.5,267.5 728.5,267.3 729.5,267.0 730.5,266.7 731.5,266.5 732.5,266.2 733.5,266.0 734.5,265.9 735.5,265.8 736.5,265.8 737.5,265.6 738.5,265.4 739.5,265.1 740.5,264.9 741.5,264.6 742.5,264.4 743.5,264.1 744.5,264.0 745.5,263.8 746.5,263.7 747.5,263.5 748.5,263.3 749.5,263.0 750.5,262.8 751.5,262.5 752.5,262.1 753.5,261.9 754.5,261.6 755.5,261.4 756.5,261.2 757.5,260.9 758.5,260.6 759.5,260.2 760.5,259.8 761.5,259.4 762.5,259.0 763.5,258.6 764.5,258.2 765.5,257.8 766.5,257.4 767.5,257.0 768.5,256.8 769.5,256.5 770.5,256.1 771.5,255.9 772.5,255.7 773.5,255.4 774.5,255.1 775.5,254.8 776.5,254.6 777.5,254.4 778.5,254.2 779.5,254.0 780.5,253.8 781.5,253.6 782.5,253.5 783.5,253.3 784.5,253.1 785.5,253.0 786.5,252.9 787.5,252.8 788.5,252.8 789.5,252.7 790.5,252.7 791.5,252.8 792.5,252.8 793.5,252.9 794.5,253.0 795.5,253.1 796.5,253.2 797.5,253.4 798.5,253.5 799.5,253.8 800.5,254.1 801.5,254.5 802.5,254.9 803.5,255.2 804.5,255.4 805.5,255.5 806.5,255.6 807.5,255.8 808.5,256.0 809.5,256.0 810.5,256.2 811.5,256.3 812.5,256.3 813.5,256.4 814.5,256.4 815.5,256.4 816.5,256.4 817.5,256.4 818.5,256.3 819.5,256.3 820.5,256.3 821.5,256.3 822.5,256.2 823.5,256.1 824.5,256.0 825.5,255.9 826.5,255.9 827.5,255.8 828.5,255.7 829.5,255.6 830.5,255.5 831.5,255.4 832.5,255.4 833.5,255.4 834.5,255.3 835.5,255.1 836.5,254.9 837.5,254.8 838.5,254.9 839.5,254.9 840.5,254.9 841.5,254.8 842.5,254.7 843.5,254.5 844.5,254.3 845.5,254.0 846.5,253.7 847.5,253.3 848.5,253.0 849.5,252.6 850.5,252.2 851.5,251.9 852.5,251.6 853.5,251.3 854.5,250.8 855.5,250.2 856.5,249.6 857.5,249.0 858.5,248.5 859.5,247.9 860.5,247.3 861.5,246.8 862.5,246.3 863.5,245.8 864.5,245.4 865.5,245.0 866.5,244.7 867.5,244.3 868.5,243.9 869.5,243.5 870.5,243.2 871.5,242.9 872.5,242.6 873.5,242.3 874.5,242.0 875.5,241.6 876.5,241.2 877.5,240.8 878.5,240.2 879.5,239.7 880.5,239.1 881.5,238.6 882.5,238.1 883.5,237.6 884.5,237.1 885.5,236.5 886.5,235.8 887.5,235.2 888.5,234.5 889.5,233.8 890.5,233.0 891.5,232.4 892.5,231.6 893.5,230.8 894.5,229.9 895.5,229.2 896.5,228.3 897.5,227.3 898.5,226.3 899.5,225.2 900.5,224.0 901.5,222.6 902.5,221.2 903.5,219.9 904.5,218.4 905.5,216.9 906.5,215.4 907.5,213.9 908.5,212.4 909.5,211.0 910.5,209.6 911.5,208.3 912.5,207.1 913.5,205.8 914.5,204.5 915.5,203.2 916.5,201.8 917.5,200.5 918.5,199.2 919.5,197.9 920.5,196.8 921.5,195.7 922.5,194.6 923.5,193.5 924.5,192.4 925.5,191.3 926.5,190.2 927.5,189.2 928.5,188.2 929.5,187.1 930.5,186.1 931.5,185.2 932.5,184.2 933.5,183.3 934.5,182.4 935.5,181.6 936.5,180.7 937.5,179.8 938.5,178.8 939.5,177.9 940.5,177.0 941.5,176.0 942.5,175.0 943.5,174.1 944.5,173.2 945.5,172.2 946.5,171.3 947.5,170.4 948.5,169.6 949.5,168.9 950.5,168.3 951.5,167.6 952.5,166.9 953.5,166.3 954.5,165.7 955.5,165.1 956.5,164.5 957.5,163.9 958.5,163.3 959.5,162.7 960.5,162.0 961.5,161.4 962.5,160.9 963.5,160.3 964.5,159.7 965.5,159.1 966.5,158.5 967.5,157.8 968.5,157.1 969.5,156.4 970.5,155.8 971.5,155.1 972.5,154.4 973.5,153.7 974.5,153.2 975.5,152.8 976.5,152.3 977.5,151.9 978.5,151.6 979.5,151.3 980.5,150.9 981.5,150.6 982.5,150.1 983.5,149.7 984.5,149.3 985.5,148.9 986.5,148.4 987.5,147.8 988.5,147.3 989.5,146.9 990.5,146.4 991.5,145.9 992.5,145.4 993.5,145.1 994.5,144.8 995.5,144.5 996.5,144.3 997.5,144.1 998.5,144.0 999.5,143.9 1000.5,143.9 1001.5,144.1 1002.5,144.2 1003.5,144.5 1004.5,144.9 1005.5,145.4 1006.5,145.9 1007.5,146.5" fill="none" stroke="#1e1ed2" stroke-width="2.7" stroke-linejoin="round" />
<polyline points="69.5,427.5 70.5,427.3 71.5,427.2 72.5,427.0 73.5,426.8 74.5,426.6 75.5,426.4 76.5,426.3 77.5,426.1 78.5,425.9 79.5,425.7 80.5,425.5 81.5,425.3 82.5,425.1 83.5,424.9 84.5,424.8 85.5,424.6 86.5,424.5 87.5,424.4 88.5,424.3 89.5,424.3 90.5,424.3 91.5,424.2 92.5,424.2 93.5,424.2 94.5,424.1 95.5,424.0 96.5,424.0 97.5,423.9 98.5,423.9 99.5,423.9 100.5,423.9 101.5,423.8 102.5,423.8 103.5,423.8 104.5,423.7 105.5,423.6 106.5,423.5 107.5,423.4 108.5,423.3 109.5,423.1 110.5,422.9 111.5,422.8 112.5,422.7 113.5,422.7 114.5,422.5 115.5,422.4 116.5,422.3 117.5,422.1 118.5,422.0 119.5,421.8 120.5,421.6 121.5,421.5 122.5,421.4 123.5,421.2 124.5,421.0 125.5,420.8 126.5,420.7 127.5,420.4 128.5,420.2 129.5,420.1 130.5,419.9 131.5,419.7 132.5,419.5 133.5,419.3 134.5,419.1 135.5,418.9 136.5,418.7 137.5,418.4 138.5,418.2 139.5,418.0 140.5,417.7 141.5,417.6 142.5,417.4 143.5,417.2 144.5,416.9 145.5,416.7 146.5,416.5 147.5,416.2 148.5,415.9 149.5,415.5 150.5,415.1 151.5,414.8 152.5,414.4 153.5,413.9 154.5,413.4 155.5,412.9 156.5,412.4 157.5,411.9 158.5,411.4 159.5,410.8 160.5,410.0 161.5,409.2 162.5,408.3 163.5,407.5 164.5,406.7 165.5,406.0 166.5,405.3 167.5,404.6 168.5,404.1 169.5,403.5 170.5,402.9 171.5,402.2 172.5,401.6 173.5,400.8 174.5,400.0 175.5,399.4 176.5,398.6 177.5,398.0 178.5,397.4 179.5,396.8 180.5,396.2 181.5,395.7 182.5,395.2 183.5,394.8 184.5,394.3 185.5,393.9 186.5,393.5 187.5,393.1 188.5,392.6 189.5,392.2 190.5,391.8 191.5,391.3 192.5,390.9 193.5,390.6 194.5,390.3 195.5,389.9 196.5,389.6 197.5,389.3 198.5,389.0 199.5,388.5 200.5,388.1 201.5,387.6 202.5,387.2 203.5,386.8 204.5,386.4 205.5,386.0 206.5,385.6 207.5,385.3 208.5,385.0 209.5,384.7 210.5,384.3 211.5,383.9 212.5,383.6 213.5,383.3 214.5,383.1 215.5,382.9 216.5,382.6 217.5,382.2 218.5,381.9 219.5,381.6 220.5,381.4 221.5,381.4 222.5,381.3 223.5,381.1 224.5,380.8 225.5,380.6 226.5,380.4 227.5,380.2 228.5,379.9 229.5,379.5 230.5,379.2 231.5,378.9 232.5,378.4 233.5,378.1 234.5,377.7 235.5,377.2 236.5,376.7 237.5,376.0 238.5,375.3 239.5,374.5 240.5,373.6 241.5,372.8 242.5,372.0 243.5,371.2 244.5,370.6 245.5,369.9 246.5,369.1 247.5,368.2 248.5,367.4 249.5,366.4 250.5,365.5 251.5,364.5 252.5,363.5 253.5,362.5 254.5,361.5 255.5,360.5 256.5,359.4 257.5,358.2 258.5,357.0 259.5,355.9 260.5,354.9 261.5,354.0 262.5,353.1 263.5,352.4 264.5,351.6 265.5,350.8 266.5,350.0 267.5,349.3 268.5,348.7 269.5,348.0 270.5,347.4 271.5,346.7 272.5,346.1 273.5,345.4 274.5,344.5 275.5,343.5 276.5,342.7 277.5,342.0 278.5,341.3 279.5,340.6 280.5,340.1 281.5,339.5 282.5,339.1 283.5,338.9 284.5,338.5 285.5,338.0 286.5,337.4 287.5,336.7 288.5,336.1 289.5,335.8 290.5,335.4 291.5,335.1 292.5,334.8 293.5,334.5 294.5,334.3 295.5,334.0 296.5,333.8 297.5,333.6 298.5,333.4 299.5,333.2 300.5,332.9 301.5,332.6 302.5,332.3 303.5,332.0 304.5,331.5 305.5,331.2 306.5,330.8 307.5,330.5 308.5,330.3 309.5,330.2 310.5,330.3 311.5,330.4 312.5,330.5 313.5,330.7 314.5,330.9 315.5,331.1 316.5,331.3 317.5,331.7 318.5,331.9 319.5,332.1 320.5,332.2 321.5,332.3 322.5,332.3 323.5,332.2 324.5,332.2 325.5,332.2 326.5,332.0 327.5,331.8 328.5,331.6 329.5,331.4 330.5,331.2 331.5,331.0 332.5,330.8 333.5,330.6 334.5,330.5 335.5,330.4 336.5,330.3 337.5,330.0 338.5,329.7 339.5,329.4 340.5,328.9 341.5,328.3 342.5,327.4 343.5,326.4 344.5,325.4 345.5,324.3 346.5,323.3 347.5,322.4 348.5,321.4 349.5,320.3 350.5,319.1 351.5,318.1 352.5,317.1 353.5,316.1 354.5,315.0 355.5,313.8 356.5,312.8 357.5,311.8 358.5,311.0 359.5,310.1 360.5,309.3 361.5,308.3 362.5,307.3 363.5,306.4 364.5,305.4 365.5,304.5 366.5,303.6 367.5,302.7 368.5,301.7 369.5,300.7 370.5,299.7 371.5,298.7 372.5,297.7 373.5,296.7 374.5,295.6 375.5,294.5 376.5,293.3 377.5,292.1 378.5,291.2 379.5,290.4 380.5,289.7 381.5,288.8 382.5,288.0 383.5,287.1 384.5,286.2 385.5,285.5 386.5,284.7 387.5,283.9 388.5,282.9 389.5,281.9 390.5,281.0 391.5,279.9 392.5,278.7 393.5,277.6 394.5,276.5 395.5,275.5 396.5,274.5 397.5,273.5 398.5,272.4 399.5,271.3 400.5,270.2 401.5,269.2 402.5,268.3 403.5,267.3 404.5,266.5 405.5,265.9 406.5,265.2 407.5,264.7 408.5,264.0 409.5,263.1 410.5,262.3 411.5,261.4 412.5,260.4 413.5,259.5 414.5,258.5 415.5,257.5 416.5,256.3 417.5,255.1 418.5,253.8 419.5,252.5 420.5,251.3 421.5,250.2 422.5,249.1 423.5,247.9 424.5,246.7 425.5,245.5 426.5,244.4 427.5,243.3 428.5,242.3 429.5,241.1 430.5,239.9 431.5,238.5 432.5,237.1 433.5,235.8 434.5,234.4 435.5,233.0 436.5,231.7 437.5,230.1 438.5,228.2 439.5,226.2 440.5,224.4 441.5,222.8 442.5,221.2 443.5,219.7 444.5,218.1 445.5,216.4 446.5,214.7 447.5,213.2 448.5,211.5 449.5,210.0 450.5,208.4 451.5,207.0 452.5,205.8 453.5,204.7 454.5,203.8 455.5,202.8 456.5,201.8 457.5,200.7 458.5,199.6 459.5,198.4 460.5,197.2 461.5,196.0 462.5,194.9 463.5,193.7 464.5,192.4 465.5,191.2 466.5,190.0 467.5,188.8 468.5,187.7 469.5,186.6 470.5,185.7 471.5,184.7 472.5,183.7 473.5,182.9 474.5,182.3 475.5,181.8 476.5,181.4 477.5,180.9 478.5,180.5 479.5,180.3 480.5,179.9 481.5,179.6 482.5,179.3 483.5,179.0 484.5,178.9 485.5,178.7 486.5,178.3 487.5,177.8 488.5,177.6 489.5,177.3 490.5,177.2 491.5,177.1 492.5,177.0 493.5,176.8 494.5,176.8 495.5,176.8 496.5,176.7 497.5,176.9 498.5,177.2 499.5,177.5 500.5,177.9 501.5,178.0 502.5,178.1 503.5,178.1 504.5,178.3 505.5,178.3 506.5,178.4 507.5,178.5 508.5,178.9 509.5,179.2 510.5,179.5 511.5,179.7 512.5,179.7 513.5,179.9 514.5,179.9 515.5,179.9 516.5,180.1 517.5,180.2 518.5,180.7 519.5,181.2 520.5,181.9 521.5,182.7 522.5,183.6 523.5,184.7 524.5,185.9 525.5,187.1 526.5,188.2 527.5,189.4 528.5,190.4 529.5,191.5 530.5,192.5 531.5,193.6 532.5,194.8 533.5,195.9 534.5,196.9 535.5,197.9 536.5,198.9 537.5,199.8 538.5,200.7 539.5,201.5 540.5,202.3 541.5,203.1 542.5,203.8 543.5,204.6 544.5,205.3 545.5,206.2 546.5,207.2 547.5,208.2 548.5,209.1 549.5,210.0 550.5,211.1 551.5,212.2 552.5,213.4 553.5,214.8 554.5,216.0 555.5,217.4 556.5,219.0 557.5,220.5 558.5,222.2 559.5,223.7 560.5,225.1 561.5,226.6 562.5,228.1 563.5,229.5 564.5,230.8 565.5,232.1 566.5,233.3 567.5,234.6 568.5,235.6 569.5,236.7 570.5,237.7 571.5,238.8 572.5,239.9 573.5,240.9 574.5,241.9 575.5,242.7 576.5,243.6 577.5,244.7 578.5,245.6 579.5,246.4 580.5,247.1 581.5,247.7 582.5,248.3 583.5,248.6 584.5,248.9 585.5,248.9 586.5,248.8 587.5,248.8 588.5,249.0 589.5,249.1 590.5,249.2 591.5,249.3 592.5,249.5 593.5,249.5 594.5,249.5 595.5,249.4 596.5,249.4 597.5,249.5 598.5,249.8 599.5,250.1 600.5,250.6 601.5,251.0 602.5,251.5 603.5,252.1 604.5,252.7 605.5,253.4 606.5,254.1 607.5,254.6 608.5,255.2 609.5,255.7 610.5,256.0 611.5,256.4 612.5,256.7 613.5,257.0 614.5,257.1 615.5,257.2 616.5,257.2 617.5,257.3 618.5,257.2 619.5,257.3 620.5,257.6 621.5,257.8 622.5,258.1 623.5,258.5 624.5,258.9 625.5,259.2 626.5,259.5 627.5,259.9 628.5,260.4 629.5,260.9 630.5,261.6 631.5,262.2 632.5,262.7 633.5,263.2 634.5,263.6 635.5,264.1 636.5,264.5 637.5,265.0 638.5,265.4 639.5,265.8 640.5,266.4 641.5,266.9 642.5,267.4 643.5,268.0 644.5,268.5 645.5,269.0 646.5,269.6 647.5,270.2 648.5,270.7 649.5,271.2 650.5,271.6 651.5,271.9 652.5,272.1 653.5,272.2 654.5,272.6 655.5,273.0 656.5,273.5 657.5,273.9 658.5,274.4 659.5,274.8 660.5,275.2 661.5,275.6 662.5,276.0 663.5,276.3 664.5,276.5 665.5,276.7 666.5,276.8 667.5,277.0 668.5,277.1 669.5,277.4 670.5,277.6 671.5,277.7 672.5,277.6 673.5,277.6 674.5,277.8 675.5,278.0 676.5,278.1 677.5,278.2 678.5,278.3 679.5,278.3 680.5,278.1 681.5,277.8 682.5,277.5 683.5,277.1 684.5,276.6 685.5,276.3 686.5,276.1 687.5,275.8 688.5,275.4 689.5,275.0 690.5,274.4 691.5,273.9 692.5,273.4 693.5,272.8 694.5,272.3 695.5,271.8 696.5,271.4 697.5,270.8 698.5,270.2 699.5,269.7 700.5,269.1 701.5,268.5 702.5,267.8 703.5,267.1 704.5,266.6 705.5,266.3 706.5,266.1 707.5,265.7 708.5,265.4 709.5,265.2 710.5,265.1 711.5,264.9 712.5,264.9 713.5,265.1 714.5,265.2 715.5,265.2 716.5,265.2 717.5,265.2 718.5,265.1 719.5,264.9 720.5,264.4 721.5,264.0 722.5,263.7 723.5,263.3 724.5,262.9 725.5,262.5 726.5,262.0 727.5,261.6 728.5,261.1 729.5,260.7 730.5,260.3 731.5,260.1 732.5,259.9 733.5,259.7 734.5,259.6 735.5,259.4 736.5,259.5 737.5,259.5 738.5,259.3 739.5,259.1 740.5,259.0 741.5,258.9 742.5,258.9 743.5,258.9 744.5,259.0 745.5,259.1 746.5,259.1 747.5,259.1 748.5,259.1 749.5,259.1 750.5,259.0 751.5,259.0 752.5,258.8 753.5,258.7 754.5,258.8 755.5,259.0 756.5,259.2 757.5,259.4 758.5,259.5 759.5,259.7 760.5,259.9 761.5,260.0 762.5,260.2 763.5,260.4 764.5,260.5 765.5,260.4 766.5,260.2 767.5,260.1 768.5,260.1 769.5,259.9 770.5,259.7 771.5,259.4 772.5,259.0 773.5,258.5 774.5,257.8 775.5,257.3 776.5,256.7 777.5,256.0 778.5,255.6 779.5,255.1 780.5,254.8 781.5,254.4 782.5,254.1 783.5,253.6 784.5,253.1 785.5,252.8 786.5,252.6 787.5,252.5 788.5,252.5 789.5,252.3 790.5,252.3 791.5,252.3 792.5,252.3 793.5,252.3 794.5,252.2 795.5,252.0 796.5,251.9 797.5,251.8 798.5,251.9 799.5,252.2 800.5,252.5 801.5,252.9 802.5,253.1 803.5,253.3 804.5,253.4 805.5,253.5 806.5,253.5 807.5,253.7 808.5,253.9 809.5,254.1 810.5,254.4 811.5,254.8 812.5,255.3 813.5,255.7 814.5,256.0 815.5,256.1 816.5,256.3 817.5,256.4 818.5,256.6 819.5,256.6 820.5,256.6 821.5,256.6 822.5,256.5 823.5,256.4 824.5,256.2 825.5,256.1 826.5,256.0 827.5,255.8 828.5,255.4 829.5,255.0 830.5,254.9 831.5,254.7 832.5,254.6 833.5,254.6 834.5,254.7 835.5,254.7 836.5,254.7 837.5,254.8 838.5,254.9 839.5,254.9 840.5,255.0 841.5,255.0 842.5,255.0 843.5,255.0 844.5,254.9 845.5,254.8 846.5,254.4 847.5,254.0 848.5,253.5 849.5,252.9 850.5,252.3 851.5,251.7 852.5,251.1 853.5,250.4 854.5,249.6 855.5,248.8 856.5,248.0 857.5,247.2 858.5,246.3 859.5,245.2 860.5,244.2 861.5,243.0 862.5,241.9 863.5,240.9 864.5,240.1 865.5,239.3 866.5,238.7 867.5,237.9 868.5,237.1 869.5,236.4 870.5,235.5 871.5,234.8 872.5,234.1 873.5,233.2 874.5,232.2 875.5,231.2 876.5,230.2 877.5,229.1 878.5,227.9 879.5,226.7 880.5,225.6 881.5,224.6 882.5,223.6 883.5,222.6 884.5,221.6 885.5,220.4 886.5,219.3 887.5,218.3 888.5,217.4 889.5,216.4 890.5,215.3 891.5,214.3 892.5,213.1 893.5,211.9 894.5,210.6 895.5,209.3 896.5,208.0 897.5,206.5 898.5,204.8 899.5,203.2 900.5,201.5 901.5,199.6 902.5,197.7 903.5,195.8 904.5,193.7 905.5,191.6 906.5,189.8 907.5,187.9 908.5,186.1 909.5,184.4 910.5,182.9 911.5,181.6 912.5,180.4 913.5,179.0 914.5,177.8 915.5,176.5 916.5,175.2 917.5,173.9 918.5,172.6 919.5,171.4 920.5,170.0 921.5,168.9 922.5,167.7 923.5,166.4 924.5,165.0 925.5,163.6 926.5,162.0 927.5,160.7 928.5,159.2 929.5,157.7 930.5,156.5 931.5,155.2 932.5,154.0 933.5,153.0 934.5,152.2 935.5,151.5 936.5,150.8 937.5,150.2 938.5,149.9 939.5,149.5 940.5,149.2 941.5,148.8 942.5,148.2 943.5,147.8 944.5,147.3 945.5,146.8 946.5,146.3 947.5,145.7 948.5,145.4 949.5,145.0 950.5,144.8 951.5,144.5 952.5,144.2 953.5,144.0 954.5,143.8 955.5,143.6 956.5,143.4 957.5,143.3 958.5,143.2 959.5,143.2 960.5,143.2 961.5,143.5 962.5,143.8 963.5,144.3 964.5,145.1 965.5,145.8 966.5,146.5 967.5,147.1 968.5,147.6 969.5,148.0 970.5,148.3 971.5,148.4 972.5,148.3 973.5,148.3 974.5,148.5 975.5,148.8 976.5,149.1 977.5,149.2 978.5,149.4 979.5,149.6 980.5,149.6 981.5,149.6 982.5,149.3 983.5,149.2 984.5,148.9 985.5,148.7 986.5,148.4 987.5,147.8 988.5,147.5 989.5,147.4 990.5,147.0 991.5,146.4 992.5,146.0 993.5,145.6 994.5,145.2 995.5,144.9 996.5,144.7 997.5,144.4 998.5,144.1 999.5,144.0 1000.5,143.9 1001.5,143.9 1002.5,144.0 1003.5,144.0 1004.5,144.3 1005.5,144.7 1006.5,145.4 1007.5,146.0" fill="none" stroke="#28106e" stroke-width="2.3" stroke-linejoin="round" /></g>
<g filter='url(#bl)'><path d="M9.5 570.8V572.3M10.5 570.6V572.3M11.5 571.0V572.3M12.5 570.7V572.3M13.5 570.9V572.3M14.5 570.7V572.3M15.5 570.6V572.3M16.5 570.5V572.3M17.5 570.9V572.3M18.5 570.4V572.3M19.5 570.8V572.3M20.5 570.9V572.3M21.5 570.7V572.3M22.5 570.9V572.3M23.5 570.6V572.3M24.5 570.6V572.3M25.5 570.7V572.3M26.5 570.5V572.3" stroke="#1e8a22" stroke-width="1.6"/><path d="M27.5 570.7V572.3M28.5 570.6V572.3M29.5 570.9V572.3M30.5 570.6V572.3M31.5 570.7V572.3M32.5 570.6V572.3M33.5 570.6V572.3" stroke="#b04a1c" stroke-width="1.6"/><path d="M34.5 570.5V572.3M35.5 570.8V572.3" stroke="#1e8a22" stroke-width="1.6"/><path d="M36.5 570.8V572.3M37.5 570.6V572.3M38.5 570.4V572.3" stroke="#e8281a" stroke-width="1.6"/><path d="M39.5 570.4V572.3M40.5 570.3V572.3M41.5 570.1V572.3M42.5 570.3V572.3M43.5 570.4V572.3M44.5 570.6V572.3M45.5 570.6V572.3M46.5 570.5V572.3M47.5 570.3V572.3" stroke="#1e8a22" stroke-width="1.6"/><path d="M48.5 570.3V572.3M49.5 570.4V572.3M50.5 570.4V572.3M51.5 570.2V572.3M52.5 570.3V572.3" stroke="#e8281a" stroke-width="1.6"/><path d="M53.5 570.2V572.3M54.5 570.2V572.3M55.5 570.4V572.3" stroke="#1e8a22" stroke-width="1.6"/><path d="M56.5 570.4V572.3M57.5 569.8V572.3" stroke="#e8281a" stroke-width="1.6"/><path d="M58.5 569.6V572.3M59.5 569.6V572.3" stroke="#b04a1c" stroke-width="1.6"/><path d="M60.5 569.4V572.3M61.5 568.4V572.3M62.5 569.6V572.3M63.5 569.4V572.3M64.5 569.2V572.3M65.5 569.7V572.3M66.5 569.3V572.3M67.5 568.6V572.3M68.5 568.9V572.3M69.5 569.1V572.3M70.5 569.1V572.3" stroke="#e8281a" stroke-width="1.6"/><path d="M71.5 569.3V572.3M72.5 568.9V572.3M73.5 569.4V572.3M74.5 569.4V572.3M75.5 569.3V572.3M76.5 569.0V572.3M77.5 569.2V572.3M78.5 569.0V572.3M79.5 569.9V572.3M80.5 568.8V572.3" stroke="#1e8a22" stroke-width="1.6"/><path d="M81.5 568.3V572.3M82.5 568.8V572.3M83.5 569.4V572.3M84.5 569.6V572.3M85.5 569.2V572.3M86.5 569.6V572.3M87.5 569.0V572.3" stroke="#e8281a" stroke-width="1.6"/><path d="M88.5 569.5V572.3M89.5 568.9V572.3M90.5 568.8V572.3M91.5 569.9V572.3M92.5 569.2V572.3" stroke="#b04a1c" stroke-width="1.6"/><path d="M93.5 569.5V572.3M94.5 569.8V572.3M95.5 569.5V572.3M96.5 569.4V572.3M97.5 568.9V572.3M98.5 569.8V572.3M99.5 568.9V572.3M100.5 568.5V572.3M101.5 569.1V572.3" stroke="#e8281a" stroke-width="1.6"/><path d="M102.5 569.1V572.3M103.5 569.3V572.3M104.5 569.7V572.3M105.5 569.1V572.3" stroke="#1e8a22" stroke-width="1.6"/><path d="M106.5 569.2V572.3M107.5 569.0V572.3M108.5 568.2V572.3M109.5 569.0V572.3" stroke="#b04a1c" stroke-width="1.6"/><path d="M110.5 569.1V572.3M111.5 568.7V572.3M112.5 569.7V572.3M113.5 569.7V572.3M114.5 569.4V572.3M115.5 569.5V572.3M116.5 569.0V572.3M117.5 569.4V572.3M118.5 568.6V572.3M119.5 568.7V572.3M120.5 569.0V572.3M121.5 569.4V572.3M122.5 569.1V572.3" stroke="#e8281a" stroke-width="1.6"/><path d="M123.5 569.0V572.3M124.5 569.7V572.3M125.5 569.2V572.3M126.5 569.0V572.3M127.5 569.2V572.3M128.5 568.7V572.3M129.5 568.8V572.3" stroke="#1e8a22" stroke-width="1.6"/><path d="M130.5 569.6V572.3M131.5 569.3V572.3M132.5 569.6V572.3M133.5 569.1V572.3M134.5 569.6V572.3M135.5 568.9V572.3M136.5 569.2V572.3M137.5 568.9V572.3M138.5 569.4V572.3M139.5 569.8V572.3M140.5 568.6V572.3" stroke="#e8281a" stroke-width="1.6"/><path d="M141.5 569.4V572.3M142.5 568.8V572.3M143.5 569.1V572.3" stroke="#1e8a22" stroke-width="1.6"/><path d="M144.5 569.0V572.3M145.5 568.6V572.3M146.5 569.2V572.3M147.5 568.8V572.3M148.5 569.8V572.3M149.5 569.0V572.3" stroke="#e8281a" stroke-width="1.6"/><path d="M150.5 569.4V572.3M151.5 569.3V572.3M152.5 569.3V572.3M153.5 569.2V572.3M154.5 568.6V572.3M155.5 569.9V572.3M156.5 569.3V572.3" stroke="#b04a1c" stroke-width="1.6"/><path d="M157.5 569.5V572.3M158.5 568.8V572.3M159.5 569.4V572.3M160.5 569.1V572.3M161.5 569.4V572.3M162.5 569.0V572.3M163.5 568.9V572.3M164.5 569.4V572.3M165.5 569.3V572.3M166.5 569.8V572.3M167.5 569.2V572.3M168.5 569.0V572.3M169.5 569.5V572.3M170.5 568.9V572.3M171.5 570.0V572.3M172.5 569.9V572.3M173.5 569.8V572.3M174.5 569.8V572.3M175.5 570.1V572.3M176.5 570.5V572.3M177.5 570.9V572.3M178.5 571.2V572.3M179.5 571.4V572.3M180.5 571.4V572.3" stroke="#e8281a" stroke-width="1.6"/><path d="M181.5 571.4V572.3M182.5 571.0V572.3M183.5 571.5V572.3M184.5 571.3V572.3M185.5 571.1V572.3M186.5 571.2V572.3M187.5 571.4V572.3M188.5 571.3V572.3M189.5 571.2V572.3M190.5 571.1V572.3" stroke="#1e8a22" stroke-width="1.6"/><path d="M191.5 571.4V572.3M192.5 571.2V572.3M193.5 570.7V572.3M194.5 569.8V572.3M195.5 569.0V572.3M196.5 569.0V572.3M197.5 568.9V572.3M198.5 568.0V572.3" stroke="#e8281a" stroke-width="1.6"/><path d="M199.5 567.1V572.3M200.5 567.7V572.3M201.5 567.8V572.3M202.5 566.4V572.3M203.5 568.3V572.3M204.5 567.1V572.3" stroke="#1e8a22" stroke-width="1.6"/><path d="M205.5 567.9V572.3M206.5 567.5V572.3M207.5 567.3V572.3M208.5 566.3V572.3M209.5 569.0V572.3M210.5 570.1V572.3M211.5 571.5V572.3M212.5 569.8V572.3M213.5 568.8V572.3M214.5 567.0V572.3M215.5 567.9V572.3M216.5 567.5V572.3M217.5 566.6V572.3M218.5 567.4V572.3M219.5 566.9V572.3M220.5 567.0V572.3M221.5 567.5V572.3M222.5 568.2V572.3M223.5 566.7V572.3M224.5 567.2V572.3" stroke="#e8281a" stroke-width="1.6"/><path d="M225.5 566.7V572.3M226.5 568.4V572.3M227.5 568.2V572.3M228.5 568.4V572.3M229.5 569.0V572.3" stroke="#1e8a22" stroke-width="1.6"/><path d="M230.5 569.7V572.3M231.5 571.2V572.3M232.5 568.6V572.3M233.5 565.9V572.3M234.5 562.4V572.3M235.5 563.6V572.3M236.5 562.7V572.3M237.5 563.0V572.3M238.5 565.2V572.3M239.5 563.4V572.3" stroke="#e8281a" stroke-width="1.6"/><path d="M240.5 561.3V572.3M241.5 563.3V572.3M242.5 563.0V572.3M243.5 563.4V572.3" stroke="#1e8a22" stroke-width="1.6"/><path d="M244.5 563.2V572.3M245.5 561.2V572.3M246.5 562.9V572.3M247.5 563.6V572.3M248.5 565.5V572.3M249.5 563.0V572.3M250.5 564.4V572.3M251.5 564.3V572.3M252.5 561.3V572.3M253.5 561.4V572.3M254.5 564.4V572.3M255.5 561.2V572.3M256.5 561.7V572.3" stroke="#e8281a" stroke-width="1.6"/><path d="M257.5 563.2V572.3M258.5 561.4V572.3M259.5 564.1V572.3M260.5 563.6V572.3" stroke="#1e8a22" stroke-width="1.6"/><path d="M261.5 563.9V572.3M262.5 563.5V572.3M263.5 561.2V572.3M264.5 563.8V572.3M265.5 563.6V572.3M266.5 563.4V572.3M267.5 562.1V572.3M268.5 562.7V572.3" stroke="#e8281a" stroke-width="1.6"/><path d="M269.5 561.2V572.3M270.5 563.1V572.3M271.5 563.7V572.3M272.5 562.9V572.3M273.5 562.3V572.3M274.5 563.4V572.3M275.5 562.0V572.3M276.5 561.3V572.3" stroke="#b04a1c" stroke-width="1.6"/><path d="M277.5 565.1V572.3M278.5 565.7V572.3M279.5 565.9V572.3M280.5 568.3V572.3M281.5 569.5V572.3M282.5 570.5V572.3M283.5 568.9V572.3M284.5 567.6V572.3" stroke="#e8281a" stroke-width="1.6"/><path d="M285.5 566.8V572.3M286.5 565.5V572.3M287.5 563.0V572.3" stroke="#b04a1c" stroke-width="1.6"/><path d="M288.5 563.4V572.3M289.5 565.6V572.3M290.5 564.3V572.3M291.5 564.2V572.3M292.5 563.6V572.3M293.5 564.5V572.3M294.5 564.9V572.3M295.5 564.8V572.3M296.5 565.9V572.3M297.5 564.3V572.3M298.5 564.9V572.3M299.5 563.9V572.3M300.5 565.3V572.3" stroke="#e8281a" stroke-width="1.6"/><path d="M301.5 564.7V572.3M302.5 565.2V572.3M303.5 565.3V572.3M304.5 563.6V572.3" stroke="#1e8a22" stroke-width="1.6"/><path d="M305.5 564.8V572.3M306.5 563.9V572.3" stroke="#b04a1c" stroke-width="1.6"/><path d="M307.5 565.3V572.3M308.5 564.2V572.3M309.5 565.8V572.3M310.5 564.8V572.3M311.5 564.8V572.3" stroke="#1e8a22" stroke-width="1.6"/><path d="M312.5 563.8V572.3M313.5 564.2V572.3" stroke="#e8281a" stroke-width="1.6"/><path d="M314.5 564.5V572.3M315.5 563.5V572.3M316.5 564.2V572.3M317.5 563.8V572.3M318.5 563.6V572.3M319.5 564.4V572.3" stroke="#1e8a22" stroke-width="1.6"/><path d="M320.5 564.6V572.3M321.5 564.0V572.3M322.5 564.7V572.3M323.5 564.0V572.3M324.5 563.2V572.3M325.5 563.5V572.3M326.5 564.7V572.3M327.5 565.5V572.3M328.5 564.4V572.3M329.5 564.5V572.3M330.5 563.2V572.3M331.5 565.9V572.3M332.5 567.1V572.3M333.5 567.8V572.3M334.5 569.7V572.3M335.5 570.8V572.3M336.5 566.9V572.3M337.5 563.6V572.3M338.5 561.4V572.3M339.5 558.8V572.3M340.5 558.1V572.3M341.5 555.2V572.3M342.5 556.1V572.3M343.5 555.7V572.3M344.5 557.0V572.3" stroke="#e8281a" stroke-width="1.6"/><path d="M345.5 556.0V572.3M346.5 556.3V572.3M347.5 555.2V572.3M348.5 552.6V572.3M349.5 554.9V572.3M350.5 558.6V572.3" stroke="#b04a1c" stroke-width="1.6"/><path d="M351.5 557.3V572.3M352.5 558.3V572.3M353.5 556.9V572.3M354.5 554.0V572.3M355.5 554.3V572.3M356.5 556.3V572.3M357.5 554.4V572.3" stroke="#1e8a22" stroke-width="1.6"/><path d="M358.5 556.4V572.3M359.5 557.6V572.3M360.5 557.5V572.3M361.5 556.4V572.3M362.5 551.3V572.3M363.5 557.1V572.3M364.5 551.5V572.3" stroke="#b04a1c" stroke-width="1.6"/><path d="M365.5 551.5V572.3M366.5 555.1V572.3M367.5 555.0V572.3M368.5 556.3V572.3M369.5 555.3V572.3M370.5 554.0V572.3M371.5 555.5V572.3M372.5 553.6V572.3M373.5 553.4V572.3M374.5 555.4V572.3M375.5 555.6V572.3M376.5 556.5V572.3M377.5 555.9V572.3M378.5 558.7V572.3M379.5 556.1V572.3M380.5 556.7V572.3M381.5 558.7V572.3M382.5 553.0V572.3M383.5 559.1V572.3M384.5 558.9V572.3" stroke="#e8281a" stroke-width="1.6"/><path d="M385.5 557.0V572.3M386.5 560.6V572.3M387.5 558.9V572.3M388.5 560.0V572.3M389.5 559.2V572.3M390.5 557.8V572.3M391.5 557.1V572.3M392.5 555.6V572.3M393.5 556.2V572.3M394.5 555.5V572.3M395.5 556.7V572.3M396.5 558.6V572.3M397.5 555.7V572.3" stroke="#1e8a22" stroke-width="1.6"/><path d="M398.5 558.6V572.3M399.5 558.9V572.3M400.5 555.0V572.3M401.5 556.5V572.3M402.5 557.5V572.3M403.5 556.6V572.3M404.5 556.4V572.3M405.5 560.2V572.3M406.5 558.2V572.3M407.5 559.9V572.3M408.5 557.9V572.3M409.5 559.2V572.3M410.5 555.6V572.3M411.5 557.3V572.3M412.5 559.5V572.3M413.5 558.2V572.3M414.5 560.1V572.3M415.5 558.2V572.3" stroke="#e8281a" stroke-width="1.6"/><path d="M416.5 557.3V572.3M417.5 557.9V572.3M418.5 561.2V572.3M419.5 558.9V572.3M420.5 557.5V572.3M421.5 557.9V572.3M422.5 556.3V572.3M423.5 560.4V572.3M424.5 557.5V572.3M425.5 559.4V572.3M426.5 558.1V572.3M427.5 557.7V572.3M428.5 557.2V572.3M429.5 559.3V572.3M430.5 558.1V572.3" stroke="#1e8a22" stroke-width="1.6"/><path d="M431.5 560.2V572.3M432.5 560.6V572.3M433.5 557.4V572.3M434.5 558.5V572.3M435.5 560.8V572.3M436.5 559.7V572.3" stroke="#e8281a" stroke-width="1.6"/><path d="M437.5 558.4V572.3M438.5 555.5V572.3M439.5 556.5V572.3M440.5 557.0V572.3M441.5 561.1V572.3M442.5 558.6V572.3M443.5 557.6V572.3M444.5 557.7V572.3M445.5 557.7V572.3M446.5 558.8V572.3" stroke="#1e8a22" stroke-width="1.6"/><path d="M447.5 555.1V572.3M448.5 555.7V572.3M449.5 558.6V572.3M450.5 559.9V572.3" stroke="#e8281a" stroke-width="1.6"/><path d="M451.5 554.5V572.3M452.5 559.3V572.3M453.5 556.3V572.3M454.5 554.8V572.3M455.5 559.9V572.3" stroke="#b04a1c" stroke-width="1.6"/><path d="M456.5 557.9V572.3M457.5 559.0V572.3M458.5 557.5V572.3M459.5 557.9V572.3M460.5 554.7V572.3M461.5 557.4V572.3" stroke="#e8281a" stroke-width="1.6"/><path d="M462.5 558.4V572.3M463.5 556.4V572.3M464.5 558.8V572.3M465.5 559.0V572.3M466.5 554.1V572.3M467.5 559.7V572.3M468.5 559.2V572.3M469.5 558.3V572.3M470.5 560.1V572.3M471.5 561.5V572.3M472.5 556.5V572.3M473.5 559.6V572.3M474.5 559.3V572.3M475.5 559.0V572.3M476.5 559.9V572.3M477.5 560.1V572.3M478.5 558.1V572.3" stroke="#1e8a22" stroke-width="1.6"/><path d="M479.5 553.8V572.3M480.5 557.1V572.3" stroke="#e8281a" stroke-width="1.6"/><path d="M481.5 557.1V572.3M482.5 560.7V572.3" stroke="#1e8a22" stroke-width="1.6"/><path d="M483.5 558.4V572.3M484.5 560.2V572.3M485.5 557.0V572.3M486.5 558.8V572.3M487.5 558.3V572.3M488.5 558.5V572.3M489.5 559.3V572.3M490.5 560.7V572.3" stroke="#e8281a" stroke-width="1.6"/><path d="M491.5 557.4V572.3M492.5 560.5V572.3M493.5 560.2V572.3M494.5 558.9V572.3M495.5 559.5V572.3M496.5 558.0V572.3M497.5 556.6V572.3M498.5 558.0V572.3M499.5 558.1V572.3M500.5 558.4V572.3M501.5 556.9V572.3M502.5 561.1V572.3M503.5 557.7V572.3" stroke="#1e8a22" stroke-width="1.6"/><path d="M504.5 559.8V572.3M505.5 560.2V572.3M506.5 558.3V572.3M507.5 558.9V572.3M508.5 557.2V572.3M509.5 556.3V572.3M510.5 561.7V572.3M511.5 558.3V572.3M512.5 554.5V572.3M513.5 556.6V572.3M514.5 555.5V572.3M515.5 558.0V572.3M516.5 560.4V572.3" stroke="#e8281a" stroke-width="1.6"/><path d="M517.5 559.9V572.3M518.5 556.8V572.3M519.5 556.4V572.3M520.5 559.3V572.3M521.5 558.5V572.3" stroke="#1e8a22" stroke-width="1.6"/><path d="M522.5 557.6V572.3M523.5 560.7V572.3M524.5 558.6V572.3M525.5 554.9V572.3M526.5 553.7V572.3M527.5 558.1V572.3M528.5 554.4V572.3M529.5 558.8V572.3" stroke="#b04a1c" stroke-width="1.6"/><path d="M530.5 559.2V572.3M531.5 561.3V572.3M532.5 556.1V572.3M533.5 558.5V572.3M534.5 553.1V572.3M535.5 557.2V572.3M536.5 557.5V572.3" stroke="#e8281a" stroke-width="1.6"/><path d="M537.5 560.6V572.3M538.5 554.9V572.3M539.5 558.4V572.3M540.5 558.0V572.3M541.5 561.1V572.3M542.5 556.0V572.3" stroke="#1e8a22" stroke-width="1.6"/><path d="M543.5 555.8V572.3M544.5 558.7V572.3M545.5 557.5V572.3M546.5 556.9V572.3" stroke="#b04a1c" stroke-width="1.6"/><path d="M547.5 555.8V572.3M548.5 557.4V572.3M549.5 554.2V572.3M550.5 558.0V572.3M551.5 558.6V572.3M552.5 558.3V572.3" stroke="#e8281a" stroke-width="1.6"/><path d="M553.5 561.4V572.3M554.5 558.9V572.3M555.5 555.6V572.3M556.5 557.0V572.3M557.5 558.8V572.3M558.5 556.8V572.3M559.5 560.6V572.3" stroke="#b04a1c" stroke-width="1.6"/><path d="M560.5 557.9V572.3M561.5 556.5V572.3M562.5 556.2V572.3" stroke="#e8281a" stroke-width="1.6"/><path d="M563.5 558.8V572.3M564.5 555.8V572.3M565.5 553.8V572.3M566.5 558.3V572.3M567.5 556.2V572.3M568.5 560.1V572.3M569.5 560.7V572.3M570.5 556.5V572.3M571.5 557.6V572.3M572.5 557.3V572.3M573.5 558.7V572.3" stroke="#b04a1c" stroke-width="1.6"/><path d="M574.5 558.2V572.3M575.5 556.3V572.3M576.5 554.5V572.3M577.5 558.2V572.3M578.5 560.4V572.3M579.5 555.5V572.3M580.5 556.8V572.3M581.5 556.7V572.3M582.5 557.6V572.3M583.5 553.4V572.3M584.5 557.9V572.3M585.5 557.1V572.3M586.5 560.9V572.3M587.5 559.0V572.3M588.5 559.2V572.3M589.5 558.2V572.3M590.5 557.5V572.3M591.5 559.4V572.3M592.5 554.9V572.3M593.5 559.9V572.3" stroke="#e8281a" stroke-width="1.6"/><path d="M594.5 559.0V572.3M595.5 557.9V572.3M596.5 560.2V572.3M597.5 557.3V572.3M598.5 557.2V572.3M599.5 558.8V572.3M600.5 554.8V572.3M601.5 558.3V572.3M602.5 558.0V572.3M603.5 560.0V572.3M604.5 561.0V572.3" stroke="#1e8a22" stroke-width="1.6"/><path d="M605.5 559.5V572.3M606.5 559.1V572.3M607.5 559.3V572.3M608.5 557.3V572.3" stroke="#b04a1c" stroke-width="1.6"/><path d="M609.5 562.1V572.3M610.5 560.4V572.3M611.5 561.4V572.3M612.5 556.4V572.3M613.5 559.7V572.3M614.5 559.6V572.3M615.5 560.5V572.3M616.5 557.3V572.3M617.5 559.5V572.3M618.5 558.6V572.3M619.5 561.8V572.3M620.5 557.0V572.3M621.5 558.4V572.3M622.5 558.1V572.3" stroke="#e8281a" stroke-width="1.6"/><path d="M623.5 557.0V572.3M624.5 559.4V572.3M625.5 559.4V572.3M626.5 558.0V572.3M627.5 558.5V572.3M628.5 559.6V572.3M629.5 559.2V572.3" stroke="#1e8a22" stroke-width="1.6"/><path d="M630.5 560.1V572.3M631.5 558.2V572.3" stroke="#b04a1c" stroke-width="1.6"/><path d="M632.5 557.8V572.3M633.5 559.4V572.3M634.5 556.0V572.3" stroke="#e8281a" stroke-width="1.6"/><path d="M635.5 561.5V572.3M636.5 559.6V572.3M637.5 556.1V572.3M638.5 559.7V572.3" stroke="#1e8a22" stroke-width="1.6"/><path d="M639.5 561.3V572.3M640.5 556.5V572.3M641.5 558.0V572.3M642.5 560.6V572.3" stroke="#b04a1c" stroke-width="1.6"/><path d="M643.5 557.5V572.3M644.5 560.3V572.3M645.5 560.7V572.3M646.5 558.9V572.3M647.5 559.3V572.3M648.5 560.2V572.3M649.5 559.0V572.3M650.5 560.0V572.3" stroke="#e8281a" stroke-width="1.6"/><path d="M651.5 558.2V572.3M652.5 558.3V572.3M653.5 556.9V572.3M654.5 558.9V572.3M655.5 560.2V572.3M656.5 560.1V572.3" stroke="#b04a1c" stroke-width="1.6"/><path d="M657.5 558.4V572.3M658.5 555.0V572.3M659.5 556.3V572.3M660.5 558.9V572.3M661.5 556.0V572.3M662.5 559.6V572.3M663.5 555.7V572.3M664.5 558.2V572.3M665.5 556.1V572.3" stroke="#e8281a" stroke-width="1.6"/><path d="M666.5 556.3V572.3M667.5 557.9V572.3M668.5 556.6V572.3" stroke="#1e8a22" stroke-width="1.6"/><path d="M669.5 558.9V572.3M670.5 557.0V572.3M671.5 554.5V572.3" stroke="#e8281a" stroke-width="1.6"/><path d="M672.5 546.5V572.3M673.5 554.9V572.3M674.5 556.0V572.3M675.5 557.9V572.3M676.5 553.6V572.3M677.5 558.7V572.3M678.5 557.0V572.3M679.5 554.6V572.3M680.5 557.5V572.3M681.5 551.4V572.3M682.5 552.3V572.3M683.5 555.8V572.3M684.5 555.6V572.3M685.5 556.9V572.3M686.5 556.9V572.3M687.5 552.9V572.3M688.5 552.3V572.3M689.5 552.8V572.3M690.5 552.8V572.3" stroke="#1e8a22" stroke-width="1.6"/><path d="M691.5 554.6V572.3M692.5 552.4V572.3M693.5 556.3V572.3M694.5 553.1V572.3M695.5 549.4V572.3M696.5 549.7V572.3" stroke="#e8281a" stroke-width="1.6"/><path d="M697.5 554.0V572.3M698.5 553.7V572.3M699.5 549.3V572.3M700.5 548.1V572.3M701.5 555.9V572.3M702.5 553.6V572.3" stroke="#b04a1c" stroke-width="1.6"/><path d="M703.5 552.0V572.3M704.5 549.4V572.3M705.5 554.4V572.3M706.5 550.8V572.3M707.5 553.0V572.3M708.5 545.6V572.3" stroke="#e8281a" stroke-width="1.6"/><path d="M709.5 551.1V572.3M710.5 552.4V572.3M711.5 552.8V572.3M712.5 549.1V572.3M713.5 550.1V572.3M714.5 554.3V572.3M715.5 551.1V572.3M716.5 554.7V572.3M717.5 553.3V572.3M718.5 554.4V572.3M719.5 554.4V572.3M720.5 552.9V572.3" stroke="#1e8a22" stroke-width="1.6"/><path d="M721.5 553.5V572.3M722.5 549.7V572.3M723.5 548.9V572.3M724.5 551.5V572.3M725.5 553.5V572.3" stroke="#e8281a" stroke-width="1.6"/><path d="M726.5 548.6V572.3M727.5 555.3V572.3M728.5 555.1V572.3M729.5 548.5V572.3M730.5 548.6V572.3M731.5 547.4V572.3M732.5 550.5V572.3M733.5 552.9V572.3M734.5 550.8V572.3M735.5 547.5V572.3M736.5 551.0V572.3M737.5 550.6V572.3M738.5 552.1V572.3M739.5 551.3V572.3M740.5 545.3V572.3M741.5 546.3V572.3M742.5 550.7V572.3M743.5 550.3V572.3M744.5 548.6V572.3M745.5 544.9V572.3M746.5 549.8V572.3M747.5 546.4V572.3M748.5 551.5V572.3" stroke="#1e8a22" stroke-width="1.6"/><path d="M749.5 548.6V572.3M750.5 542.7V572.3M751.5 540.3V572.3M752.5 546.8V572.3M753.5 545.1V572.3M754.5 538.8V572.3M755.5 542.7V572.3M756.5 542.7V572.3M757.5 538.1V572.3" stroke="#b04a1c" stroke-width="1.6"/><path d="M758.5 538.8V572.3M759.5 534.3V572.3M760.5 535.1V572.3M761.5 540.5V572.3M762.5 538.5V572.3M763.5 538.0V572.3M764.5 542.8V572.3M765.5 541.2V572.3M766.5 532.7V572.3M767.5 543.0V572.3M768.5 532.1V572.3M769.5 535.2V572.3M770.5 536.8V572.3M771.5 533.5V572.3" stroke="#1e8a22" stroke-width="1.6"/><path d="M772.5 533.6V572.3M773.5 529.7V572.3M774.5 537.7V572.3M775.5 537.5V572.3M776.5 538.1V572.3M777.5 528.8V572.3M778.5 534.0V572.3" stroke="#e8281a" stroke-width="1.6"/><path d="M779.5 542.2V572.3M780.5 540.5V572.3M781.5 542.4V572.3M782.5 540.3V572.3M783.5 540.0V572.3M784.5 531.5V572.3M785.5 547.9V572.3" stroke="#1e8a22" stroke-width="1.6"/><path d="M786.5 538.5V572.3M787.5 541.3V572.3M788.5 545.6V572.3M789.5 544.2V572.3M790.5 545.8V572.3M791.5 544.4V572.3M792.5 541.5V572.3" stroke="#e8281a" stroke-width="1.6"/><path d="M793.5 549.9V572.3M794.5 541.3V572.3M795.5 547.4V572.3M796.5 541.6V572.3M797.5 545.9V572.3" stroke="#1e8a22" stroke-width="1.6"/><path d="M798.5 543.6V572.3M799.5 546.3V572.3M800.5 545.1V572.3M801.5 548.2V572.3M802.5 550.6V572.3M803.5 546.3V572.3M804.5 546.1V572.3M805.5 541.3V572.3M806.5 553.4V572.3M807.5 548.8V572.3M808.5 544.9V572.3" stroke="#e8281a" stroke-width="1.6"/><path d="M809.5 551.5V572.3M810.5 548.8V572.3M811.5 541.0V572.3M812.5 543.5V572.3M813.5 550.4V572.3M814.5 543.4V572.3M815.5 544.2V572.3M816.5 545.5V572.3M817.5 546.7V572.3M818.5 547.1V572.3M819.5 550.2V572.3M820.5 549.3V572.3M821.5 545.5V572.3M822.5 547.3V572.3" stroke="#1e8a22" stroke-width="1.6"/><path d="M823.5 541.6V572.3M824.5 548.6V572.3M825.5 553.8V572.3M826.5 548.6V572.3M827.5 546.7V572.3M828.5 546.4V572.3M829.5 547.3V572.3M830.5 549.8V572.3" stroke="#e8281a" stroke-width="1.6"/><path d="M831.5 542.6V572.3M832.5 549.3V572.3M833.5 545.2V572.3M834.5 547.7V572.3M835.5 549.7V572.3M836.5 540.7V572.3M837.5 552.1V572.3" stroke="#1e8a22" stroke-width="1.6"/><path d="M838.5 547.2V572.3M839.5 542.4V572.3M840.5 544.5V572.3M841.5 539.9V572.3M842.5 542.5V572.3M843.5 543.2V572.3M844.5 531.7V572.3M845.5 541.2V572.3M846.5 540.2V572.3M847.5 542.9V572.3M848.5 540.9V572.3M849.5 534.3V572.3M850.5 533.9V572.3M851.5 535.6V572.3M852.5 537.8V572.3M853.5 530.7V572.3" stroke="#e8281a" stroke-width="1.6"/><path d="M854.5 540.4V572.3M855.5 534.0V572.3M856.5 533.5V572.3" stroke="#1e8a22" stroke-width="1.6"/><path d="M857.5 536.1V572.3M858.5 531.4V572.3M859.5 535.1V572.3M860.5 535.6V572.3M861.5 522.1V572.3" stroke="#e8281a" stroke-width="1.6"/><path d="M862.5 528.0V572.3M863.5 525.4V572.3M864.5 531.3V572.3M865.5 526.5V572.3M866.5 527.3V572.3M867.5 525.2V572.3M868.5 518.6V572.3M869.5 533.2V572.3M870.5 531.1V572.3M871.5 532.8V572.3" stroke="#1e8a22" stroke-width="1.6"/><path d="M872.5 546.4V572.3M873.5 539.1V572.3M874.5 533.3V572.3M875.5 530.5V572.3M876.5 536.4V572.3M877.5 528.5V572.3M878.5 528.0V572.3M879.5 538.1V572.3" stroke="#b04a1c" stroke-width="1.6"/><path d="M880.5 532.0V572.3M881.5 532.8V572.3M882.5 540.6V572.3M883.5 547.4V572.3M884.5 541.3V572.3" stroke="#e8281a" stroke-width="1.6"/><path d="M885.5 548.8V572.3M886.5 548.9V572.3M887.5 547.0V572.3M888.5 548.4V572.3M889.5 542.7V572.3M890.5 543.2V572.3M891.5 541.1V572.3M892.5 542.8V572.3" stroke="#b04a1c" stroke-width="1.6"/><path d="M893.5 546.8V572.3M894.5 544.2V572.3M895.5 539.8V572.3M896.5 543.8V572.3M897.5 528.9V572.3M898.5 542.0V572.3M899.5 542.6V572.3M900.5 535.0V572.3" stroke="#e8281a" stroke-width="1.6"/><path d="M901.5 536.1V572.3M902.5 538.7V572.3M903.5 538.9V572.3M904.5 535.5V572.3M905.5 533.9V572.3M906.5 534.5V572.3" stroke="#1e8a22" stroke-width="1.6"/><path d="M907.5 539.3V572.3M908.5 536.6V572.3M909.5 535.1V572.3M910.5 535.7V572.3M911.5 549.5V572.3M912.5 542.8V572.3M913.5 542.6V572.3M914.5 540.9V572.3M915.5 539.6V572.3M916.5 537.7V572.3M917.5 540.0V572.3M918.5 543.7V572.3M919.5 544.2V572.3" stroke="#e8281a" stroke-width="1.6"/><path d="M920.5 539.0V572.3M921.5 548.1V572.3M922.5 546.4V572.3M923.5 543.3V572.3M924.5 548.3V572.3M925.5 555.1V572.3M926.5 549.4V572.3M927.5 551.5V572.3M928.5 550.8V572.3M929.5 547.7V572.3M930.5 549.4V572.3M931.5 551.5V572.3M932.5 548.4V572.3" stroke="#1e8a22" stroke-width="1.6"/><path d="M933.5 549.8V572.3M934.5 550.7V572.3M935.5 550.3V572.3M936.5 550.5V572.3M937.5 552.1V572.3M938.5 552.5V572.3M939.5 551.4V572.3" stroke="#e8281a" stroke-width="1.6"/><path d="M940.5 553.8V572.3M941.5 554.5V572.3" stroke="#1e8a22" stroke-width="1.6"/><path d="M942.5 548.2V572.3M943.5 552.3V572.3M944.5 551.9V572.3M945.5 552.2V572.3" stroke="#e8281a" stroke-width="1.6"/><path d="M946.5 551.9V572.3M947.5 552.0V572.3M948.5 552.0V572.3M949.5 554.1V572.3M950.5 549.9V572.3M951.5 553.9V572.3" stroke="#1e8a22" stroke-width="1.6"/><path d="M952.5 549.8V572.3M953.5 556.5V572.3" stroke="#e8281a" stroke-width="1.6"/><path d="M954.5 554.9V572.3M955.5 550.1V572.3M956.5 552.9V572.3M957.5 554.2V572.3M958.5 551.8V572.3M959.5 555.1V572.3M960.5 552.6V572.3M961.5 557.4V572.3M962.5 553.9V572.3M963.5 554.4V572.3M964.5 551.7V572.3M965.5 550.9V572.3M966.5 555.0V572.3" stroke="#1e8a22" stroke-width="1.6"/><path d="M967.5 549.1V572.3M968.5 554.5V572.3M969.5 557.4V572.3M970.5 558.0V572.3M971.5 549.5V572.3M972.5 553.6V572.3M973.5 554.9V572.3M974.5 555.1V572.3M975.5 555.9V572.3M976.5 550.3V572.3M977.5 553.8V572.3M978.5 549.2V572.3M979.5 554.2V572.3M980.5 558.3V572.3M981.5 551.9V572.3M982.5 554.7V572.3M983.5 554.5V572.3M984.5 550.2V572.3" stroke="#e8281a" stroke-width="1.6"/><path d="M985.5 554.6V572.3M986.5 551.4V572.3M987.5 554.2V572.3M988.5 555.8V572.3M989.5 553.1V572.3M990.5 555.6V572.3" stroke="#1e8a22" stroke-width="1.6"/><path d="M991.5 551.5V572.3M992.5 552.3V572.3M993.5 554.4V572.3M994.5 553.2V572.3" stroke="#e8281a" stroke-width="1.6"/><path d="M995.5 553.4V572.3M996.5 555.3V572.3M997.5 552.8V572.3M998.5 555.3V572.3M999.5 553.6V572.3M1000.5 556.9V572.3M1001.5 554.9V572.3" stroke="#b04a1c" stroke-width="1.6"/><path d="M1002.5 554.3V572.3M1003.5 556.8V572.3M1004.5 556.1V572.3M1005.5 556.3V572.3M1006.5 553.7V572.3M1007.5 568.0V572.3" stroke="#1e8a22" stroke-width="1.6"/>
<polyline points="9.5,569.8 10.5,569.7 11.5,569.8 12.5,569.8 13.5,569.8 14.5,569.8 15.5,569.7 16.5,569.7 17.5,569.7 18.5,569.7 19.5,569.7 20.5,569.7 21.5,569.7 22.5,569.7 23.5,569.7 24.5,569.7 25.5,569.7 26.5,569.7 27.5,569.7 28.5,569.7 29.5,569.7 30.5,569.7 31.5,569.7 32.5,569.6 33.5,569.6 34.5,569.6 35.5,569.6 36.5,569.7 37.5,569.7 38.5,569.6 39.5,569.6 40.5,569.6 41.5,569.5 42.5,569.5 43.5,569.5 44.5,569.5 45.5,569.5 46.5,569.4 47.5,569.4 48.5,569.4 49.5,569.4 50.5,569.4 51.5,569.4 52.5,569.4 53.5,569.4 54.5,569.3 55.5,569.3 56.5,569.3 57.5,569.3 58.5,569.2 59.5,569.1 60.5,569.0 61.5,568.8 62.5,568.8 63.5,568.7 64.5,568.6 65.5,568.5 66.5,568.4 67.5,568.3 68.5,568.2 69.5,568.1 70.5,568.1 71.5,568.2 72.5,568.1 73.5,568.1 74.5,568.2 75.5,568.1 76.5,568.1 77.5,568.1 78.5,568.2 79.5,568.2 80.5,568.2 81.5,568.1 82.5,568.1 83.5,568.1 84.5,568.1 85.5,568.1 86.5,568.2 87.5,568.2 88.5,568.2 89.5,568.1 90.5,568.1 91.5,568.3 92.5,568.3 93.5,568.3 94.5,568.3 95.5,568.4 96.5,568.4 97.5,568.3 98.5,568.4 99.5,568.4 100.5,568.3 101.5,568.3 102.5,568.2 103.5,568.2 104.5,568.2 105.5,568.2 106.5,568.2 107.5,568.2 108.5,568.0 109.5,568.0 110.5,568.1 111.5,568.0 112.5,568.1 113.5,568.1 114.5,568.1 115.5,568.2 116.5,568.2 117.5,568.2 118.5,568.2 119.5,568.2 120.5,568.2 121.5,568.3 122.5,568.2 123.5,568.1 124.5,568.1 125.5,568.1 126.5,568.1 127.5,568.1 128.5,568.1 129.5,568.1 130.5,568.2 131.5,568.1 132.5,568.2 133.5,568.2 134.5,568.2 135.5,568.2 136.5,568.2 137.5,568.2 138.5,568.2 139.5,568.3 140.5,568.2 141.5,568.2 142.5,568.2 143.5,568.2 144.5,568.1 145.5,568.1 146.5,568.1 147.5,568.1 148.5,568.1 149.5,568.0 150.5,568.1 151.5,568.1 152.5,568.1 153.5,568.1 154.5,568.1 155.5,568.2 156.5,568.3 157.5,568.3 158.5,568.2 159.5,568.3 160.5,568.3 161.5,568.3 162.5,568.2 163.5,568.2 164.5,568.3 165.5,568.2 166.5,568.3 167.5,568.3 168.5,568.3 169.5,568.3 170.5,568.2 171.5,568.3 172.5,568.4 173.5,568.5 174.5,568.5 175.5,568.6 176.5,568.7 177.5,568.8 178.5,569.1 179.5,569.2 180.5,569.5 181.5,569.6 182.5,569.8 183.5,569.9 184.5,570.1 185.5,570.2 186.5,570.3 187.5,570.3 188.5,570.3 189.5,570.3 190.5,570.3 191.5,570.3 192.5,570.3 193.5,570.2 194.5,570.0 195.5,569.8 196.5,569.6 197.5,569.4 198.5,569.0 199.5,568.6 200.5,568.3 201.5,567.9 202.5,567.4 203.5,567.2 204.5,566.9 205.5,566.8 206.5,566.7 207.5,566.5 208.5,566.3 209.5,566.5 210.5,566.8 211.5,567.1 212.5,567.5 213.5,567.5 214.5,567.5 215.5,567.5 216.5,567.5 217.5,567.5 218.5,567.6 219.5,567.4 220.5,567.1 221.5,566.7 222.5,566.5 223.5,566.3 224.5,566.3 225.5,566.2 226.5,566.2 227.5,566.4 228.5,566.5 229.5,566.7 230.5,567.0 231.5,567.4 232.5,567.4 233.5,567.3 234.5,566.9 235.5,566.5 236.5,566.0 237.5,565.5 238.5,565.1 239.5,564.6 240.5,563.7 241.5,562.9 242.5,562.4 243.5,562.1 244.5,562.2 245.5,562.0 246.5,562.0 247.5,562.0 248.5,562.1 249.5,562.0 250.5,562.4 251.5,562.4 252.5,562.3 253.5,562.1 254.5,562.2 255.5,562.2 256.5,562.1 257.5,562.0 258.5,561.6 259.5,561.7 260.5,561.7 261.5,561.6 262.5,561.8 263.5,561.8 264.5,561.8 265.5,562.0 266.5,562.2 267.5,562.1 268.5,562.2 269.5,561.9 270.5,561.8 271.5,561.8 272.5,561.8 273.5,561.9 274.5,561.8 275.5,561.7 276.5,561.5 277.5,561.8 278.5,562.1 279.5,562.5 280.5,563.1 281.5,563.6 282.5,564.4 283.5,565.1 284.5,565.5 285.5,566.0 286.5,566.4 287.5,566.2 288.5,566.0 289.5,565.9 290.5,565.5 291.5,565.0 292.5,564.3 293.5,563.9 294.5,563.6 295.5,563.4 296.5,563.4 297.5,563.6 298.5,563.7 299.5,563.5 300.5,563.6 301.5,563.7 302.5,563.8 303.5,563.9 304.5,563.8 305.5,563.8 306.5,563.6 307.5,563.7 308.5,563.6 309.5,563.8 310.5,563.8 311.5,563.8 312.5,563.6 313.5,563.5 314.5,563.6 315.5,563.5 316.5,563.5 317.5,563.4 318.5,563.3 319.5,563.1 320.5,563.1 321.5,563.1 322.5,563.1 323.5,563.1 324.5,563.0 325.5,563.0 326.5,563.1 327.5,563.2 328.5,563.3 329.5,563.3 330.5,563.2 331.5,563.4 332.5,563.6 333.5,564.0 334.5,564.6 335.5,565.4 336.5,565.6 337.5,565.4 338.5,565.1 339.5,564.5 340.5,564.0 341.5,563.0 342.5,561.9 343.5,560.6 344.5,559.4 345.5,557.9 346.5,556.8 347.5,556.0 348.5,555.1 349.5,554.7 350.5,554.8 351.5,555.0 352.5,555.2 353.5,555.3 354.5,555.0 355.5,554.8 356.5,554.8 357.5,554.8 358.5,555.1 359.5,555.4 360.5,555.3 361.5,555.2 362.5,554.5 363.5,554.5 364.5,554.3 365.5,554.0 366.5,553.9 367.5,553.9 368.5,553.9 369.5,553.7 370.5,553.4 371.5,553.3 372.5,553.5 373.5,553.1 374.5,553.5 375.5,553.9 376.5,554.1 377.5,554.2 378.5,554.4 379.5,554.5 380.5,554.7 381.5,555.1 382.5,555.0 383.5,555.6 384.5,555.9 385.5,556.1 386.5,556.5 387.5,556.8 388.5,556.9 389.5,557.2 390.5,557.3 391.5,557.1 392.5,557.4 393.5,557.1 394.5,556.8 395.5,556.7 396.5,556.5 397.5,556.2 398.5,556.1 399.5,556.1 400.5,555.8 401.5,555.7 402.5,555.9 403.5,555.9 404.5,556.0 405.5,556.4 406.5,556.4 407.5,556.8 408.5,556.7 409.5,556.7 410.5,556.8 411.5,556.9 412.5,557.1 413.5,557.2 414.5,557.6 415.5,557.4 416.5,557.3 417.5,557.1 418.5,557.5 419.5,557.4 420.5,557.6 421.5,557.7 422.5,557.4 423.5,557.6 424.5,557.3 425.5,557.4 426.5,557.5 427.5,557.5 428.5,557.1 429.5,557.1 430.5,557.2 431.5,557.4 432.5,557.8 433.5,557.6 434.5,557.7 435.5,557.8 436.5,558.0 437.5,558.0 438.5,557.9 439.5,557.6 440.5,557.5 441.5,557.6 442.5,557.4 443.5,557.4 444.5,557.3 445.5,557.0 446.5,556.9 447.5,556.6 448.5,556.6 449.5,556.8 450.5,557.1 451.5,556.4 452.5,556.5 453.5,556.4 454.5,556.1 455.5,556.3 456.5,556.2 457.5,556.6 458.5,556.8 459.5,556.7 460.5,556.2 461.5,556.5 462.5,556.4 463.5,556.4 464.5,556.8 465.5,556.7 466.5,556.3 467.5,556.4 468.5,556.6 469.5,556.6 470.5,557.1 471.5,557.6 472.5,557.4 473.5,557.7 474.5,557.7 475.5,557.7 476.5,558.3 477.5,558.4 478.5,558.2 479.5,557.8 480.5,557.5 481.5,557.1 482.5,557.5 483.5,557.4 484.5,557.5 485.5,557.3 486.5,557.1 487.5,557.0 488.5,557.0 489.5,557.6 490.5,557.9 491.5,558.0 492.5,557.9 493.5,558.1 494.5,558.0 495.5,558.2 496.5,558.1 497.5,558.0 498.5,557.9 499.5,557.8 500.5,557.6 501.5,557.5 502.5,557.6 503.5,557.3 504.5,557.4 505.5,557.5 506.5,557.5 507.5,557.7 508.5,557.7 509.5,557.5 510.5,557.8 511.5,558.0 512.5,557.3 513.5,557.2 514.5,556.8 515.5,556.5 516.5,556.7 517.5,556.8 518.5,556.8 519.5,556.8 520.5,556.6 521.5,556.6 522.5,556.9 523.5,557.3 524.5,557.6 525.5,557.3 526.5,556.6 527.5,556.5 528.5,556.2 529.5,556.5 530.5,556.5 531.5,556.7 532.5,556.6 533.5,556.4 534.5,555.8 535.5,556.1 536.5,556.4 537.5,556.7 538.5,556.7 539.5,556.7 540.5,556.6 541.5,556.5 542.5,556.5 543.5,556.3 544.5,556.8 545.5,556.8 546.5,556.8 547.5,556.3 548.5,556.6 549.5,556.2 550.5,556.1 551.5,555.9 552.5,556.1 553.5,556.7 554.5,556.7 555.5,556.5 556.5,556.5 557.5,556.8 558.5,556.8 559.5,557.4 560.5,557.4 561.5,557.2 562.5,557.0 563.5,556.7 564.5,556.4 565.5,556.2 566.5,556.3 567.5,556.1 568.5,556.4 569.5,556.4 570.5,556.3 571.5,556.4 572.5,556.5 573.5,556.5 574.5,556.8 575.5,557.0 576.5,556.6 577.5,556.8 578.5,556.8 579.5,556.3 580.5,556.4 581.5,556.3 582.5,556.3 583.5,555.8 584.5,555.7 585.5,555.8 586.5,556.4 587.5,556.5 588.5,556.4 589.5,556.7 590.5,556.7 591.5,557.0 592.5,556.7 593.5,557.4 594.5,557.5 595.5,557.6 596.5,557.5 597.5,557.4 598.5,557.2 599.5,557.2 600.5,556.9 601.5,556.8 602.5,557.1 603.5,557.1 604.5,557.4 605.5,557.5 606.5,557.4 607.5,557.6 608.5,557.6 609.5,557.9 610.5,558.5 611.5,558.8 612.5,558.7 613.5,558.6 614.5,558.5 615.5,558.6 616.5,558.4 617.5,558.4 618.5,558.5 619.5,558.5 620.5,558.2 621.5,557.9 622.5,558.1 623.5,557.8 624.5,557.8 625.5,557.7 626.5,557.7 627.5,557.6 628.5,557.7 629.5,557.5 630.5,557.8 631.5,557.7 632.5,557.7 633.5,557.9 634.5,557.6 635.5,557.8 636.5,558.0 637.5,557.7 638.5,557.7 639.5,558.0 640.5,557.6 641.5,557.6 642.5,557.9 643.5,557.7 644.5,558.1 645.5,558.0 646.5,558.0 647.5,558.3 648.5,558.3 649.5,558.1 650.5,558.5 651.5,558.5 652.5,558.2 653.5,558.2 654.5,558.0 655.5,558.0 656.5,558.1 657.5,558.0 658.5,557.5 659.5,557.2 660.5,557.1 661.5,556.9 662.5,557.0 663.5,556.9 664.5,556.8 665.5,556.4 666.5,556.0 667.5,556.0 668.5,556.2 669.5,556.4 670.5,556.2 671.5,556.1 672.5,554.8 673.5,554.7 674.5,554.5 675.5,554.6 676.5,554.4 677.5,554.5 678.5,554.5 679.5,554.1 680.5,554.1 681.5,553.8 682.5,554.4 683.5,554.5 684.5,554.4 685.5,554.3 686.5,554.7 687.5,554.1 688.5,553.6 689.5,553.4 690.5,553.0 691.5,553.3 692.5,553.3 693.5,553.4 694.5,553.1 695.5,552.4 696.5,551.6 697.5,551.7 698.5,551.9 699.5,551.5 700.5,551.1 701.5,551.2 702.5,551.3 703.5,550.9 704.5,550.5 705.5,551.0 706.5,551.1 707.5,551.0 708.5,550.2 709.5,550.4 710.5,550.8 711.5,550.5 712.5,550.1 713.5,549.9 714.5,550.4 715.5,550.0 716.5,550.4 717.5,550.4 718.5,551.3 719.5,551.7 720.5,551.7 721.5,551.8 722.5,551.8 723.5,551.7 724.5,551.4 725.5,551.7 726.5,551.1 727.5,551.3 728.5,551.3 729.5,550.8 730.5,550.3 731.5,549.7 732.5,549.8 733.5,550.2 734.5,550.1 735.5,549.5 736.5,549.8 737.5,549.3 738.5,549.0 739.5,549.3 740.5,548.9 741.5,548.8 742.5,548.9 743.5,548.6 744.5,548.4 745.5,548.1 746.5,548.0 747.5,547.6 748.5,547.5 749.5,547.2 750.5,547.0 751.5,546.4 752.5,546.0 753.5,545.5 754.5,544.5 755.5,544.3 756.5,543.6 757.5,542.7 758.5,541.5 759.5,540.1 760.5,539.3 761.5,539.3 762.5,538.5 763.5,537.8 764.5,538.2 765.5,538.0 766.5,537.0 767.5,537.5 768.5,536.8 769.5,536.9 770.5,537.1 771.5,536.4 772.5,535.9 773.5,535.1 774.5,534.6 775.5,534.2 776.5,534.7 777.5,533.3 778.5,533.5 779.5,534.2 780.5,534.6 781.5,535.5 782.5,536.1 783.5,537.2 784.5,536.6 785.5,537.6 786.5,537.6 787.5,538.9 788.5,540.0 789.5,540.2 790.5,540.8 791.5,541.0 792.5,541.1 793.5,542.1 794.5,543.0 795.5,543.0 796.5,543.3 797.5,543.8 798.5,543.6 799.5,543.8 800.5,543.7 801.5,544.1 802.5,545.0 803.5,544.6 804.5,545.1 805.5,544.5 806.5,545.7 807.5,546.0 808.5,546.1 809.5,546.6 810.5,547.0 811.5,546.3 812.5,545.6 813.5,546.0 814.5,545.7 815.5,546.0 816.5,545.2 817.5,545.0 818.5,545.2 819.5,545.1 820.5,545.2 821.5,545.6 822.5,546.0 823.5,545.1 824.5,545.6 825.5,546.6 826.5,546.9 827.5,546.9 828.5,546.8 829.5,546.5 830.5,546.6 831.5,546.3 832.5,546.5 833.5,546.8 834.5,546.7 835.5,546.3 836.5,545.5 837.5,546.1 838.5,546.2 839.5,545.7 840.5,545.1 841.5,544.9 842.5,544.2 843.5,544.0 844.5,542.4 845.5,541.5 846.5,541.5 847.5,540.6 848.5,539.9 849.5,539.1 850.5,538.1 851.5,537.6 852.5,537.2 853.5,535.9 854.5,536.8 855.5,536.1 856.5,535.4 857.5,534.7 858.5,533.8 859.5,533.9 860.5,534.0 861.5,532.7 862.5,531.7 863.5,531.2 864.5,530.2 865.5,529.5 866.5,528.9 867.5,527.8 868.5,526.5 869.5,526.3 870.5,525.9 871.5,526.9 872.5,528.8 873.5,530.2 874.5,530.4 875.5,530.8 876.5,531.7 877.5,532.0 878.5,532.9 879.5,533.4 880.5,533.5 881.5,533.5 882.5,532.9 883.5,533.8 884.5,534.6 885.5,536.4 886.5,537.6 887.5,539.5 888.5,541.5 889.5,542.0 890.5,543.1 891.5,543.9 892.5,544.2 893.5,544.1 894.5,544.4 895.5,543.5 896.5,543.0 897.5,541.2 898.5,540.5 899.5,540.5 900.5,539.7 901.5,539.2 902.5,538.8 903.5,538.0 904.5,537.1 905.5,536.5 906.5,535.6 907.5,536.7 908.5,536.1 909.5,535.4 910.5,535.4 911.5,536.8 912.5,537.2 913.5,537.6 914.5,538.1 915.5,538.7 916.5,539.0 917.5,539.0 918.5,539.8 919.5,540.7 920.5,541.0 921.5,540.9 922.5,541.2 923.5,541.3 924.5,542.0 925.5,543.6 926.5,544.8 927.5,545.9 928.5,546.6 929.5,547.0 930.5,548.0 931.5,548.3 932.5,548.5 933.5,549.2 934.5,549.4 935.5,549.0 936.5,549.1 937.5,549.1 938.5,549.3 939.5,549.7 940.5,550.1 941.5,550.4 942.5,550.4 943.5,550.6 944.5,550.7 945.5,550.9 946.5,551.1 947.5,551.1 948.5,551.0 949.5,551.3 950.5,550.9 951.5,550.8 952.5,551.0 953.5,551.4 954.5,551.7 955.5,551.5 956.5,551.6 957.5,551.8 958.5,551.8 959.5,551.9 960.5,552.2 961.5,552.5 962.5,552.9 963.5,552.7 964.5,552.4 965.5,552.5 966.5,552.7 967.5,552.2 968.5,552.5 969.5,552.7 970.5,553.2 971.5,552.4 972.5,552.4 973.5,552.5 974.5,552.8 975.5,553.3 976.5,552.8 977.5,553.3 978.5,552.8 979.5,552.5 980.5,552.5 981.5,552.7 982.5,552.8 983.5,552.8 984.5,552.3 985.5,552.2 986.5,552.3 987.5,552.3 988.5,553.0 989.5,552.9 990.5,552.6 991.5,552.5 992.5,552.3 993.5,552.3 994.5,552.6 995.5,552.5 996.5,552.9 997.5,552.7 998.5,552.7 999.5,552.7 1000.5,552.9 1001.5,553.2 1002.5,553.4 1003.5,553.7 1004.5,553.9 1005.5,554.2 1006.5,554.1 1007.5,555.6" fill="none" stroke="#f0962a" stroke-width="2.0" stroke-linejoin="round" />
<polyline points="9.5,569.8 10.5,569.7 11.5,569.8 12.5,569.8 13.5,569.8 14.5,569.8 15.5,569.8 16.5,569.7 17.5,569.7 18.5,569.6 19.5,569.6 20.5,569.7 21.5,569.7 22.5,569.7 23.5,569.8 24.5,569.7 25.5,569.7 26.5,569.7 27.5,569.6 28.5,569.6 29.5,569.7 30.5,569.6 31.5,569.7 32.5,569.7 33.5,569.7 34.5,569.6 35.5,569.7 36.5,569.7 37.5,569.7 38.5,569.6 39.5,569.6 40.5,569.5 41.5,569.3 42.5,569.3 43.5,569.3 44.5,569.4 45.5,569.4 46.5,569.5 47.5,569.5 48.5,569.5 49.5,569.4 50.5,569.4 51.5,569.3 52.5,569.3 53.5,569.3 54.5,569.3 55.5,569.3 56.5,569.3 57.5,569.2 58.5,569.1 59.5,568.9 60.5,568.7 61.5,568.3 62.5,568.3 63.5,568.3 64.5,568.2 65.5,568.2 66.5,568.4 67.5,568.2 68.5,568.1 69.5,568.1 70.5,568.0 71.5,568.0 72.5,568.1 73.5,568.1 74.5,568.2 75.5,568.3 76.5,568.2 77.5,568.2 78.5,568.2 79.5,568.3 80.5,568.2 81.5,568.1 82.5,568.0 83.5,568.1 84.5,568.0 85.5,568.1 86.5,568.3 87.5,568.4 88.5,568.4 89.5,568.3 90.5,568.2 91.5,568.2 92.5,568.3 93.5,568.3 94.5,568.4 95.5,568.6 96.5,568.5 97.5,568.4 98.5,568.5 99.5,568.3 100.5,568.1 101.5,568.0 102.5,568.1 103.5,568.0 104.5,568.1 105.5,568.3 106.5,568.3 107.5,568.3 108.5,568.0 109.5,567.9 110.5,567.9 111.5,567.8 112.5,568.0 113.5,568.3 114.5,568.3 115.5,568.4 116.5,568.5 117.5,568.4 118.5,568.2 119.5,568.1 120.5,568.0 121.5,568.0 122.5,568.0 123.5,568.0 124.5,568.2 125.5,568.3 126.5,568.2 127.5,568.2 128.5,568.2 129.5,568.0 130.5,568.1 131.5,568.1 132.5,568.2 133.5,568.3 134.5,568.4 135.5,568.3 136.5,568.3 137.5,568.1 138.5,568.2 139.5,568.2 140.5,568.2 141.5,568.2 142.5,568.2 143.5,568.1 144.5,568.0 145.5,568.0 146.5,567.9 147.5,567.9 148.5,568.1 149.5,568.0 150.5,568.2 151.5,568.2 152.5,568.4 153.5,568.2 154.5,568.2 155.5,568.3 156.5,568.3 157.5,568.3 158.5,568.2 159.5,568.4 160.5,568.3 161.5,568.3 162.5,568.2 163.5,568.2 164.5,568.2 165.5,568.2 166.5,568.3 167.5,568.3 168.5,568.3 169.5,568.3 170.5,568.3 171.5,568.3 172.5,568.4 173.5,568.6 174.5,568.7 175.5,568.9 176.5,569.0 177.5,569.2 178.5,569.5 179.5,569.8 180.5,570.1 181.5,570.3 182.5,570.3 183.5,570.4 184.5,570.4 185.5,570.3 186.5,570.2 187.5,570.3 188.5,570.3 189.5,570.2 190.5,570.3 191.5,570.3 192.5,570.2 193.5,570.1 194.5,569.8 195.5,569.4 196.5,568.9 197.5,568.5 198.5,568.0 199.5,567.4 200.5,567.2 201.5,566.9 202.5,566.4 203.5,566.4 204.5,566.5 205.5,566.5 206.5,566.4 207.5,566.6 208.5,566.2 209.5,566.6 210.5,567.0 211.5,567.8 212.5,568.3 213.5,568.9 214.5,568.5 215.5,568.0 216.5,567.2 217.5,566.6 218.5,566.3 219.5,566.3 220.5,566.1 221.5,566.1 222.5,566.4 223.5,566.2 224.5,566.3 225.5,566.2 226.5,566.4 227.5,566.4 228.5,566.8 229.5,567.1 230.5,567.7 231.5,568.3 232.5,568.4 233.5,567.9 234.5,566.6 235.5,565.3 236.5,563.6 237.5,562.5 238.5,562.4 239.5,562.6 240.5,562.1 241.5,562.2 242.5,562.2 243.5,561.9 244.5,561.8 245.5,561.8 246.5,561.7 247.5,561.9 248.5,562.3 249.5,562.2 250.5,562.9 251.5,563.2 252.5,562.7 253.5,561.9 254.5,562.1 255.5,561.5 256.5,561.0 257.5,561.4 258.5,561.4 259.5,561.3 260.5,561.8 261.5,562.2 262.5,562.3 263.5,562.3 264.5,562.2 265.5,562.2 266.5,562.1 267.5,561.8 268.5,562.1 269.5,561.6 270.5,561.5 271.5,561.6 272.5,561.7 273.5,561.6 274.5,562.1 275.5,561.8 276.5,561.4 277.5,561.8 278.5,562.5 279.5,563.0 280.5,564.3 281.5,565.9 282.5,567.0 283.5,567.6 284.5,568.0 285.5,567.7 286.5,566.9 287.5,565.4 288.5,564.3 289.5,563.9 290.5,563.4 291.5,563.1 292.5,563.2 293.5,563.4 294.5,563.3 295.5,563.4 296.5,563.7 297.5,563.9 298.5,564.0 299.5,563.7 300.5,563.8 301.5,563.6 302.5,563.8 303.5,563.9 304.5,563.8 305.5,563.7 306.5,563.6 307.5,563.6 308.5,563.4 309.5,563.8 310.5,563.8 311.5,564.0 312.5,563.7 313.5,563.7 314.5,563.4 315.5,563.1 316.5,563.0 317.5,563.0 318.5,562.9 319.5,562.9 320.5,563.1 321.5,563.1 322.5,563.3 323.5,563.3 324.5,563.1 325.5,562.9 326.5,563.0 327.5,563.2 328.5,563.3 329.5,563.5 330.5,563.5 331.5,563.7 332.5,564.0 333.5,564.7 334.5,565.7 335.5,567.3 336.5,567.5 337.5,566.8 338.5,565.5 339.5,563.3 340.5,560.8 341.5,558.4 342.5,556.9 343.5,555.8 344.5,555.4 345.5,555.0 346.5,555.2 347.5,555.0 348.5,554.4 349.5,554.0 350.5,554.5 351.5,554.7 352.5,555.4 353.5,556.2 354.5,556.0 355.5,555.2 356.5,555.0 357.5,554.2 358.5,554.1 359.5,554.8 360.5,555.4 361.5,555.4 362.5,554.8 363.5,555.0 364.5,553.8 365.5,552.6 366.5,552.3 367.5,553.1 368.5,552.9 369.5,553.6 370.5,554.1 371.5,554.2 372.5,554.0 373.5,553.4 374.5,553.4 375.5,553.7 376.5,553.9 377.5,554.4 378.5,555.4 379.5,555.6 380.5,555.8 381.5,556.2 382.5,555.6 383.5,555.7 384.5,556.3 385.5,556.3 386.5,556.7 387.5,557.9 388.5,558.1 389.5,558.1 390.5,558.3 391.5,557.6 392.5,556.9 393.5,556.2 394.5,555.4 395.5,555.2 396.5,555.5 397.5,555.5 398.5,556.0 399.5,556.7 400.5,556.3 401.5,555.9 402.5,556.3 403.5,555.9 404.5,555.4 405.5,556.4 406.5,556.8 407.5,557.2 408.5,557.5 409.5,558.1 410.5,557.2 411.5,557.0 412.5,556.9 413.5,557.0 414.5,557.1 415.5,557.7 416.5,557.7 417.5,557.4 418.5,558.0 419.5,557.7 420.5,557.6 421.5,557.7 422.5,557.4 423.5,557.2 424.5,556.9 425.5,557.3 426.5,557.3 427.5,557.6 428.5,557.0 429.5,557.3 430.5,557.1 431.5,557.5 432.5,558.1 433.5,558.1 434.5,558.0 435.5,558.5 436.5,558.4 437.5,558.0 438.5,557.6 439.5,557.2 440.5,556.4 441.5,556.7 442.5,556.7 443.5,557.2 444.5,557.4 445.5,557.5 446.5,557.1 447.5,556.4 448.5,556.0 449.5,556.2 450.5,556.6 451.5,555.8 452.5,556.6 453.5,556.7 454.5,556.0 455.5,556.0 456.5,556.6 457.5,556.6 458.5,556.8 459.5,557.4 460.5,556.4 461.5,556.3 462.5,556.2 463.5,556.0 464.5,556.2 465.5,557.0 466.5,556.4 467.5,556.6 468.5,557.2 469.5,557.1 470.5,557.3 471.5,558.8 472.5,558.1 473.5,558.2 474.5,558.4 475.5,558.2 476.5,557.9 477.5,558.6 478.5,558.3 479.5,557.2 480.5,556.8 481.5,556.2 482.5,556.4 483.5,556.4 484.5,557.7 485.5,557.7 486.5,558.0 487.5,557.6 488.5,557.6 489.5,557.4 490.5,558.1 491.5,557.9 492.5,558.3 493.5,558.6 494.5,558.6 495.5,558.3 496.5,558.4 497.5,557.6 498.5,557.2 499.5,557.0 500.5,556.8 501.5,556.6 502.5,557.5 503.5,557.4 504.5,557.8 505.5,558.2 506.5,558.4 507.5,558.0 508.5,557.9 509.5,557.2 510.5,557.5 511.5,557.5 512.5,556.6 513.5,556.5 514.5,556.3 515.5,555.6 516.5,556.0 517.5,557.1 518.5,557.1 519.5,557.3 520.5,557.5 521.5,557.2 522.5,556.7 523.5,557.5 524.5,557.9 525.5,557.1 526.5,556.1 527.5,556.2 528.5,554.9 529.5,555.0 530.5,555.8 531.5,557.4 532.5,557.0 533.5,557.8 534.5,556.7 535.5,556.3 536.5,555.5 537.5,556.4 538.5,555.7 539.5,556.7 540.5,556.9 541.5,557.6 542.5,556.7 543.5,556.9 544.5,556.9 545.5,556.8 546.5,556.0 547.5,556.0 548.5,556.3 549.5,555.4 550.5,555.5 551.5,555.8 552.5,556.3 553.5,557.1 554.5,558.0 555.5,557.6 556.5,557.2 557.5,557.3 558.5,556.4 559.5,556.8 560.5,557.2 561.5,557.1 562.5,556.6 563.5,557.0 564.5,556.0 565.5,555.2 566.5,555.6 567.5,555.6 568.5,555.8 569.5,556.8 570.5,557.4 571.5,557.2 572.5,557.5 573.5,557.2 574.5,556.7 575.5,556.6 576.5,556.0 577.5,556.2 578.5,556.5 579.5,556.0 580.5,556.1 581.5,556.5 582.5,556.4 583.5,555.0 584.5,555.5 585.5,555.5 586.5,556.4 587.5,556.6 588.5,557.8 589.5,557.9 590.5,558.0 591.5,557.7 592.5,556.8 593.5,557.0 594.5,557.1 595.5,557.2 596.5,557.4 597.5,557.9 598.5,557.3 599.5,557.3 600.5,556.7 601.5,556.3 602.5,556.4 603.5,557.0 604.5,557.4 605.5,558.4 606.5,558.5 607.5,558.8 608.5,558.3 609.5,558.5 610.5,558.6 611.5,559.1 612.5,558.5 613.5,559.0 614.5,558.5 615.5,558.5 616.5,557.7 617.5,558.3 618.5,558.1 619.5,558.6 620.5,557.9 621.5,558.1 622.5,557.8 623.5,557.5 624.5,557.0 625.5,557.5 626.5,557.4 627.5,557.5 628.5,558.0 629.5,557.9 630.5,558.1 631.5,558.1 632.5,558.0 633.5,557.9 634.5,557.3 635.5,557.6 636.5,557.8 637.5,557.5 638.5,557.6 639.5,558.6 640.5,557.7 641.5,557.4 642.5,558.3 643.5,557.8 644.5,557.6 645.5,558.4 646.5,558.6 647.5,558.3 648.5,558.9 649.5,558.6 650.5,558.5 651.5,558.4 652.5,558.1 653.5,557.5 654.5,557.5 655.5,557.5 656.5,557.9 657.5,557.9 658.5,557.5 659.5,557.0 660.5,556.7 661.5,555.9 662.5,556.1 663.5,556.3 664.5,556.7 665.5,556.1 666.5,556.2 667.5,555.8 668.5,556.0 669.5,556.1 670.5,556.3 671.5,556.0 672.5,553.7 673.5,553.4 674.5,552.8 675.5,553.0 676.5,552.8 677.5,555.2 678.5,555.6 679.5,555.3 680.5,555.3 681.5,554.8 682.5,553.6 683.5,553.3 684.5,553.5 685.5,553.4 686.5,554.5 687.5,554.6 688.5,553.9 689.5,553.4 690.5,552.5 691.5,552.1 692.5,552.0 693.5,552.8 694.5,552.9 695.5,552.2 696.5,551.2 697.5,551.5 698.5,551.0 699.5,550.2 700.5,550.0 701.5,551.2 702.5,551.1 703.5,550.8 704.5,550.8 705.5,552.1 706.5,551.1 707.5,550.9 708.5,549.6 709.5,550.0 710.5,549.6 711.5,550.0 712.5,549.2 713.5,550.1 714.5,550.7 715.5,550.5 716.5,550.9 717.5,551.7 718.5,552.6 719.5,552.6 720.5,552.9 721.5,552.7 722.5,552.0 723.5,550.9 724.5,550.3 725.5,550.4 726.5,549.4 727.5,550.6 728.5,551.8 729.5,551.2 730.5,550.2 731.5,550.0 732.5,549.0 733.5,548.6 734.5,549.0 735.5,548.8 736.5,549.5 737.5,549.6 738.5,549.4 739.5,549.5 740.5,549.1 741.5,548.1 742.5,548.2 743.5,547.8 744.5,547.2 745.5,547.2 746.5,547.9 747.5,547.0 748.5,547.2 749.5,547.2 750.5,546.8 751.5,544.9 752.5,545.0 753.5,543.7 754.5,541.8 755.5,541.8 756.5,542.3 757.5,540.5 758.5,539.3 759.5,538.3 760.5,536.8 761.5,536.4 762.5,536.4 763.5,536.3 764.5,538.0 765.5,539.2 766.5,537.7 767.5,538.6 768.5,537.4 769.5,535.8 770.5,535.0 771.5,535.1 772.5,533.2 773.5,532.7 774.5,533.3 775.5,533.4 776.5,534.3 777.5,533.4 778.5,534.2 779.5,535.2 780.5,535.8 781.5,536.6 782.5,538.9 783.5,540.1 784.5,538.0 785.5,539.4 786.5,538.6 787.5,538.9 788.5,540.0 789.5,542.5 790.5,542.1 791.5,543.3 792.5,543.3 793.5,544.2 794.5,543.6 795.5,543.9 796.5,543.4 797.5,544.2 798.5,543.0 799.5,544.0 800.5,543.5 801.5,544.8 802.5,545.8 803.5,546.3 804.5,546.3 805.5,545.5 806.5,546.6 807.5,546.2 808.5,545.9 809.5,547.0 810.5,548.5 811.5,546.0 812.5,544.9 813.5,546.1 814.5,544.4 815.5,543.5 816.5,544.4 817.5,545.1 818.5,544.4 819.5,545.8 820.5,546.8 821.5,546.8 822.5,546.9 823.5,545.8 824.5,545.5 825.5,546.4 826.5,547.0 827.5,546.9 828.5,547.8 829.5,547.6 830.5,546.8 831.5,545.6 832.5,546.1 833.5,545.8 834.5,545.9 835.5,545.9 836.5,545.5 837.5,546.1 838.5,546.5 839.5,545.4 840.5,544.4 841.5,544.2 842.5,542.3 843.5,541.5 844.5,539.4 845.5,538.7 846.5,538.8 847.5,538.8 848.5,538.4 849.5,538.9 850.5,537.5 851.5,536.5 852.5,535.5 853.5,533.5 854.5,534.7 855.5,534.7 856.5,534.3 857.5,533.9 858.5,534.1 859.5,533.0 860.5,533.3 861.5,531.1 862.5,529.4 863.5,528.2 864.5,527.5 865.5,525.6 866.5,526.7 867.5,526.1 868.5,524.8 869.5,525.2 870.5,526.1 871.5,527.2 872.5,531.4 873.5,535.5 874.5,535.6 875.5,535.4 876.5,536.2 877.5,532.6 878.5,530.3 879.5,531.3 880.5,531.6 881.5,530.9 882.5,533.3 883.5,537.2 884.5,537.8 885.5,541.2 886.5,544.4 887.5,545.7 888.5,545.9 889.5,546.2 890.5,545.0 891.5,543.5 892.5,542.6 893.5,542.3 894.5,542.6 895.5,541.9 896.5,542.5 897.5,539.7 898.5,538.8 899.5,538.4 900.5,537.5 901.5,535.9 902.5,537.9 903.5,537.3 904.5,535.8 905.5,535.6 906.5,535.3 907.5,535.4 908.5,535.0 909.5,534.9 910.5,535.3 911.5,538.2 912.5,538.9 913.5,540.1 914.5,541.3 915.5,542.1 916.5,539.7 917.5,539.2 918.5,539.4 919.5,540.0 920.5,539.9 921.5,542.0 922.5,543.3 923.5,543.2 924.5,544.0 925.5,547.3 926.5,547.5 927.5,548.5 928.5,550.0 929.5,549.9 930.5,548.8 931.5,549.2 932.5,548.6 933.5,548.4 934.5,549.0 935.5,549.2 936.5,549.0 937.5,549.7 938.5,550.2 939.5,550.4 940.5,551.0 941.5,551.8 942.5,551.0 943.5,551.0 944.5,551.1 945.5,550.8 946.5,550.3 947.5,551.1 948.5,551.0 949.5,551.4 950.5,551.0 951.5,551.4 952.5,550.9 953.5,551.8 954.5,552.0 955.5,552.0 956.5,551.8 957.5,552.7 958.5,551.8 959.5,551.8 960.5,552.3 961.5,553.2 962.5,553.2 963.5,553.7 964.5,553.0 965.5,552.7 966.5,552.2 967.5,551.2 968.5,551.2 969.5,552.4 970.5,553.8 971.5,552.7 972.5,553.6 973.5,553.7 974.5,553.2 975.5,552.8 976.5,552.9 977.5,553.0 978.5,551.9 979.5,551.7 980.5,552.2 981.5,552.5 982.5,552.7 983.5,553.7 984.5,552.9 985.5,552.2 986.5,552.1 987.5,552.0 988.5,552.2 989.5,552.8 990.5,553.0 991.5,553.0 992.5,552.6 993.5,552.4 994.5,552.4 995.5,552.0 996.5,552.7 997.5,552.8 998.5,553.0 999.5,553.1 1000.5,553.8 1001.5,553.7 1002.5,554.0 1003.5,554.3 1004.5,554.8 1005.5,554.7 1006.5,554.5 1007.5,557.2" fill="none" stroke="#1a2468" stroke-width="1.3" stroke-linejoin="round" opacity="0.85"/>
<path d="M13.0 563.8V572.3" stroke="#c42418" stroke-width="1.6"/>
<path d="M33.0 563.8V572.3" stroke="#1f6e28" stroke-width="1.6"/>
<path d="M348.0 549.3V572.3" stroke="#1f6e28" stroke-width="1.6"/>
<path d="M395.0 548.3V572.3" stroke="#1f6e28" stroke-width="1.6"/>
<path d="M421.0 547.3V572.3" stroke="#1f6e28" stroke-width="1.6"/>
<path d="M435.0 536.3V572.3" stroke="#c42418" stroke-width="1.6"/>
<path d="M513.0 541.3V572.3" stroke="#1f6e28" stroke-width="1.6"/>
<path d="M523.0 533.3V572.3" stroke="#1f6e28" stroke-width="1.6"/>
<path d="M531.0 548.3V572.3" stroke="#1f6e28" stroke-width="1.6"/>
<path d="M640.6 528.3V572.3" stroke="#1f6e28" stroke-width="1.6"/>
<path d="M708.0 528.3V572.3" stroke="#1f6e28" stroke-width="1.6"/>
<path d="M773.0 531.3V572.3" stroke="#c42418" stroke-width="1.6"/>
<path d="M853.0 521.3V572.3" stroke="#c42418" stroke-width="1.6"/>
<path d="M874.5 518.3V572.3" stroke="#c42418" stroke-width="1.6"/>
<path d="M881.0 504.3V572.3" stroke="#1f6e28" stroke-width="1.6"/>
<path d="M986.0 538.3V572.3" stroke="#c42418" stroke-width="1.6"/>
<path d="M1004.0 550.3V572.3" stroke="#1f6e28" stroke-width="1.6"/></g>
<g filter='url(#bl)'><path d="M9.5 684.7V684.7M10.5 684.6V684.7" stroke="#e8261a" stroke-width="1.5"/><path d="M11.5 684.7V684.7" stroke="#1f8a22" stroke-width="1.5"/><path d="M12.5 684.7V684.7M13.5 684.0V684.7M14.5 683.4V684.7M15.5 682.5V684.7M16.5 682.5V684.7M17.5 683.7V684.7M18.5 683.5V684.7M19.5 682.9V684.7M20.5 683.0V684.7M21.5 683.2V684.7M22.5 683.3V684.7M23.5 682.7V684.7M24.5 682.7V684.7M25.5 683.6V684.7M26.5 683.2V684.7M27.5 683.3V684.7M28.5 682.4V684.7M29.5 681.8V684.7M30.5 680.8V684.7M31.5 680.9V684.7M32.5 680.8V684.7M33.5 681.6V684.7M34.5 682.3V684.7M35.5 682.4V684.7M36.5 680.5V684.7M37.5 680.0V684.7M38.5 680.9V684.7M39.5 682.6V684.7M40.5 683.1V684.7M41.5 683.8V684.7M42.5 684.2V684.7M43.5 684.5V684.7" stroke="#e8261a" stroke-width="1.5"/><path d="M44.5 686.3V684.7M45.5 686.6V684.7M46.5 686.9V684.7M47.5 687.7V684.7M48.5 687.4V684.7M49.5 687.3V684.7M50.5 687.0V684.7M51.5 687.1V684.7M52.5 686.4V684.7M53.5 686.6V684.7M54.5 688.1V684.7M55.5 687.5V684.7M56.5 688.1V684.7M57.5 688.5V684.7M58.5 687.9V684.7M59.5 689.0V684.7M60.5 689.4V684.7M61.5 687.9V684.7M62.5 686.9V684.7M63.5 686.2V684.7M64.5 685.3V684.7M65.5 685.2V684.7" stroke="#1f8a22" stroke-width="1.5"/><path d="M66.5 684.7V684.7M67.5 684.7V684.7" stroke="#e8261a" stroke-width="1.5"/><path d="M68.5 685.4V684.7" stroke="#1f8a22" stroke-width="1.5"/><path d="M69.5 684.6V684.7M70.5 684.3V684.7M71.5 683.6V684.7M72.5 683.3V684.7M73.5 682.2V684.7M74.5 681.7V684.7M75.5 681.8V684.7M76.5 682.8V684.7M77.5 684.1V684.7M78.5 683.3V684.7M79.5 682.2V684.7M80.5 682.3V684.7M81.5 680.7V684.7M82.5 680.2V684.7M83.5 680.3V684.7M84.5 681.6V684.7M85.5 682.4V684.7M86.5 682.2V684.7M87.5 682.3V684.7M88.5 682.9V684.7" stroke="#e8261a" stroke-width="1.5"/><path d="M89.5 684.9V684.7M90.5 685.6V684.7M91.5 686.0V684.7M92.5 686.8V684.7M93.5 687.5V684.7M94.5 688.2V684.7M95.5 687.9V684.7M96.5 688.2V684.7M97.5 688.2V684.7M98.5 688.9V684.7M99.5 688.8V684.7M100.5 687.7V684.7M101.5 687.0V684.7M102.5 685.9V684.7M103.5 686.0V684.7M104.5 685.8V684.7M105.5 686.1V684.7M106.5 685.2V684.7M107.5 685.4V684.7" stroke="#1f8a22" stroke-width="1.5"/><path d="M108.5 684.4V684.7M109.5 682.9V684.7M110.5 682.9V684.7M111.5 682.9V684.7M112.5 683.8V684.7" stroke="#e8261a" stroke-width="1.5"/><path d="M113.5 686.3V684.7M114.5 686.2V684.7M115.5 685.5V684.7M116.5 685.2V684.7M117.5 685.1V684.7M118.5 684.9V684.7" stroke="#1f8a22" stroke-width="1.5"/><path d="M119.5 684.3V684.7M120.5 684.2V684.7M121.5 684.3V684.7M122.5 683.1V684.7M123.5 682.6V684.7M124.5 682.2V684.7M125.5 681.2V684.7M126.5 681.3V684.7M127.5 680.8V684.7M128.5 681.7V684.7M129.5 682.3V684.7M130.5 682.7V684.7M131.5 682.2V684.7M132.5 682.0V684.7M133.5 680.4V684.7M134.5 679.6V684.7M135.5 680.4V684.7M136.5 679.5V684.7M137.5 680.7V684.7M138.5 679.8V684.7M139.5 680.1V684.7M140.5 679.3V684.7M141.5 679.4V684.7M142.5 679.1V684.7M143.5 677.3V684.7M144.5 677.8V684.7M145.5 679.0V684.7M146.5 679.4V684.7M147.5 680.1V684.7M148.5 681.1V684.7M149.5 681.6V684.7M150.5 683.8V684.7" stroke="#e8261a" stroke-width="1.5"/><path d="M151.5 684.9V684.7M152.5 685.6V684.7" stroke="#1f8a22" stroke-width="1.5"/><path d="M153.5 684.6V684.7M154.5 682.3V684.7M155.5 679.5V684.7M156.5 679.7V684.7M157.5 679.7V684.7M158.5 680.4V684.7M159.5 679.4V684.7M160.5 675.4V684.7M161.5 671.1V684.7M162.5 670.5V684.7M163.5 674.8V684.7M164.5 680.2V684.7" stroke="#e8261a" stroke-width="1.5"/><path d="M165.5 684.7V684.7M166.5 687.7V684.7M167.5 690.6V684.7M168.5 695.6V684.7M169.5 696.8V684.7M170.5 695.1V684.7M171.5 693.5V684.7M172.5 693.3V684.7M173.5 691.7V684.7M174.5 691.2V684.7M175.5 690.7V684.7M176.5 689.6V684.7M177.5 691.0V684.7M178.5 692.1V684.7M179.5 693.0V684.7M180.5 693.0V684.7M181.5 694.1V684.7M182.5 694.5V684.7M183.5 695.0V684.7M184.5 694.0V684.7M185.5 692.2V684.7M186.5 692.0V684.7M187.5 690.3V684.7M188.5 689.1V684.7M189.5 688.0V684.7M190.5 686.6V684.7M191.5 685.4V684.7M192.5 685.1V684.7" stroke="#1f8a22" stroke-width="1.5"/><path d="M193.5 684.0V684.7M194.5 682.8V684.7M195.5 682.0V684.7M196.5 682.6V684.7M197.5 683.0V684.7M198.5 682.8V684.7M199.5 681.4V684.7M200.5 679.2V684.7M201.5 679.3V684.7M202.5 680.1V684.7M203.5 680.0V684.7M204.5 680.7V684.7M205.5 681.7V684.7M206.5 683.0V684.7M207.5 684.1V684.7M208.5 683.2V684.7M209.5 683.6V684.7M210.5 681.9V684.7M211.5 682.2V684.7M212.5 682.9V684.7M213.5 684.5V684.7" stroke="#e8261a" stroke-width="1.5"/><path d="M214.5 687.2V684.7M215.5 689.3V684.7M216.5 688.5V684.7M217.5 686.5V684.7M218.5 687.0V684.7M219.5 686.8V684.7M220.5 687.5V684.7M221.5 688.8V684.7M222.5 687.5V684.7M223.5 685.2V684.7M224.5 685.3V684.7M225.5 686.4V684.7M226.5 687.6V684.7M227.5 689.0V684.7M228.5 689.4V684.7M229.5 687.5V684.7M230.5 685.2V684.7" stroke="#1f8a22" stroke-width="1.5"/><path d="M231.5 681.7V684.7M232.5 678.3V684.7M233.5 677.2V684.7M234.5 676.3V684.7M235.5 675.8V684.7M236.5 673.8V684.7M237.5 671.9V684.7M238.5 669.7V684.7M239.5 667.8V684.7M240.5 667.1V684.7M241.5 667.9V684.7M242.5 671.1V684.7M243.5 674.9V684.7M244.5 680.1V684.7M245.5 680.2V684.7M246.5 680.9V684.7M247.5 680.2V684.7M248.5 678.8V684.7M249.5 676.2V684.7M250.5 674.8V684.7M251.5 675.3V684.7M252.5 675.5V684.7M253.5 676.0V684.7M254.5 675.7V684.7M255.5 676.7V684.7M256.5 676.6V684.7M257.5 674.2V684.7M258.5 676.2V684.7M259.5 679.0V684.7M260.5 680.9V684.7" stroke="#e8261a" stroke-width="1.5"/><path d="M261.5 685.2V684.7M262.5 692.1V684.7M263.5 698.0V684.7M264.5 701.0V684.7M265.5 701.7V684.7M266.5 702.7V684.7M267.5 702.6V684.7M268.5 702.4V684.7M269.5 701.9V684.7M270.5 700.5V684.7M271.5 699.1V684.7M272.5 697.3V684.7M273.5 695.0V684.7M274.5 690.8V684.7M275.5 688.4V684.7M276.5 687.9V684.7M277.5 691.2V684.7M278.5 692.5V684.7M279.5 694.7V684.7M280.5 698.4V684.7M281.5 701.6V684.7M282.5 706.9V684.7M283.5 710.8V684.7M284.5 709.9V684.7M285.5 706.5V684.7M286.5 701.4V684.7M287.5 695.2V684.7M288.5 695.5V684.7M289.5 698.8V684.7M290.5 701.1V684.7M291.5 700.7V684.7M292.5 698.9V684.7M293.5 695.0V684.7M294.5 690.7V684.7M295.5 685.8V684.7" stroke="#1f8a22" stroke-width="1.5"/><path d="M296.5 681.1V684.7M297.5 678.7V684.7M298.5 675.4V684.7M299.5 672.8V684.7M300.5 669.2V684.7M301.5 669.7V684.7M302.5 670.9V684.7M303.5 671.9V684.7M304.5 672.0V684.7M305.5 670.1V684.7M306.5 667.7V684.7M307.5 665.5V684.7M308.5 664.4V684.7M309.5 664.6V684.7M310.5 667.9V684.7M311.5 672.3V684.7M312.5 676.8V684.7M313.5 679.6V684.7M314.5 680.9V684.7M315.5 684.4V684.7" stroke="#e8261a" stroke-width="1.5"/><path d="M316.5 686.7V684.7M317.5 686.9V684.7M318.5 685.0V684.7" stroke="#1f8a22" stroke-width="1.5"/><path d="M319.5 681.4V684.7M320.5 679.6V684.7M321.5 680.4V684.7M322.5 680.7V684.7M323.5 681.3V684.7M324.5 682.7V684.7" stroke="#e8261a" stroke-width="1.5"/><path d="M325.5 684.8V684.7M326.5 685.2V684.7M327.5 685.8V684.7M328.5 685.5V684.7M329.5 686.8V684.7M330.5 686.2V684.7M331.5 685.8V684.7M332.5 686.2V684.7M333.5 684.8V684.7" stroke="#1f8a22" stroke-width="1.5"/><path d="M334.5 682.6V684.7M335.5 681.1V684.7M336.5 679.8V684.7M337.5 677.4V684.7M338.5 676.5V684.7M339.5 677.9V684.7M340.5 677.1V684.7M341.5 676.0V684.7M342.5 673.5V684.7M343.5 672.7V684.7M344.5 670.2V684.7M345.5 667.1V684.7M346.5 667.2V684.7M347.5 666.9V684.7M348.5 671.8V684.7M349.5 678.5V684.7M350.5 682.6V684.7" stroke="#e8261a" stroke-width="1.5"/><path d="M351.5 686.2V684.7M352.5 690.6V684.7M353.5 691.7V684.7M354.5 691.2V684.7M355.5 689.8V684.7M356.5 690.6V684.7M357.5 694.4V684.7M358.5 697.8V684.7M359.5 697.3V684.7M360.5 695.0V684.7M361.5 692.9V684.7M362.5 692.7V684.7M363.5 692.7V684.7M364.5 692.1V684.7M365.5 689.5V684.7M366.5 685.4V684.7" stroke="#1f8a22" stroke-width="1.5"/><path d="M367.5 681.8V684.7M368.5 679.1V684.7M369.5 677.1V684.7M370.5 677.1V684.7M371.5 679.7V684.7M372.5 681.1V684.7M373.5 681.3V684.7M374.5 678.4V684.7M375.5 678.3V684.7M376.5 677.3V684.7M377.5 678.5V684.7M378.5 684.0V684.7" stroke="#e8261a" stroke-width="1.5"/><path d="M379.5 689.9V684.7M380.5 694.0V684.7M381.5 693.7V684.7M382.5 692.1V684.7M383.5 689.1V684.7M384.5 688.2V684.7M385.5 690.6V684.7M386.5 690.5V684.7M387.5 688.2V684.7" stroke="#1f8a22" stroke-width="1.5"/><path d="M388.5 684.0V684.7M389.5 680.9V684.7M390.5 678.1V684.7M391.5 674.5V684.7M392.5 672.8V684.7M393.5 670.1V684.7M394.5 670.9V684.7M395.5 673.3V684.7M396.5 676.3V684.7M397.5 676.6V684.7M398.5 678.0V684.7M399.5 679.3V684.7M400.5 680.5V684.7M401.5 682.8V684.7M402.5 683.9V684.7M403.5 684.0V684.7" stroke="#e8261a" stroke-width="1.5"/><path d="M404.5 688.0V684.7M405.5 691.3V684.7M406.5 694.6V684.7M407.5 698.3V684.7M408.5 697.5V684.7M409.5 696.2V684.7M410.5 694.7V684.7M411.5 692.2V684.7M412.5 688.5V684.7M413.5 687.1V684.7M414.5 685.0V684.7" stroke="#1f8a22" stroke-width="1.5"/><path d="M415.5 681.0V684.7M416.5 677.6V684.7M417.5 677.7V684.7M418.5 678.3V684.7M419.5 675.2V684.7M420.5 676.6V684.7M421.5 678.2V684.7M422.5 680.5V684.7M423.5 680.0V684.7M424.5 679.0V684.7M425.5 678.5V684.7M426.5 684.5V684.7" stroke="#e8261a" stroke-width="1.5"/><path d="M427.5 687.2V684.7M428.5 691.1V684.7M429.5 690.8V684.7M430.5 689.2V684.7" stroke="#1f8a22" stroke-width="1.5"/><path d="M431.5 682.1V684.7M432.5 676.1V684.7M433.5 674.3V684.7M434.5 670.2V684.7M435.5 668.3V684.7M436.5 663.3V684.7M437.5 653.7V684.7M438.5 644.5V684.7M439.5 643.0V684.7M440.5 652.3V684.7M441.5 667.2V684.7M442.5 682.9V684.7" stroke="#e8261a" stroke-width="1.5"/><path d="M443.5 698.7V684.7M444.5 710.5V684.7M445.5 713.8V684.7M446.5 710.7V684.7M447.5 706.4V684.7M448.5 698.3V684.7M449.5 695.1V684.7M450.5 695.2V684.7M451.5 696.3V684.7M452.5 701.2V684.7M453.5 705.8V684.7M454.5 715.9V684.7M455.5 721.3V684.7M456.5 721.7V684.7M457.5 716.6V684.7M458.5 706.4V684.7M459.5 697.6V684.7M460.5 690.0V684.7M461.5 685.2V684.7" stroke="#1f8a22" stroke-width="1.5"/><path d="M462.5 680.4V684.7M463.5 675.8V684.7M464.5 677.5V684.7M465.5 682.0V684.7" stroke="#e8261a" stroke-width="1.5"/><path d="M466.5 688.0V684.7M467.5 690.6V684.7M468.5 693.8V684.7M469.5 693.9V684.7M470.5 696.8V684.7M471.5 697.5V684.7M472.5 695.7V684.7M473.5 696.7V684.7M474.5 700.6V684.7M475.5 700.8V684.7M476.5 700.7V684.7M477.5 700.0V684.7M478.5 697.5V684.7M479.5 697.4V684.7M480.5 695.9V684.7M481.5 694.2V684.7M482.5 694.4V684.7M483.5 692.4V684.7M484.5 691.4V684.7M485.5 688.0V684.7" stroke="#1f8a22" stroke-width="1.5"/><path d="M486.5 683.1V684.7M487.5 677.3V684.7M488.5 678.4V684.7M489.5 677.7V684.7M490.5 676.1V684.7M491.5 672.4V684.7M492.5 667.5V684.7M493.5 661.9V684.7M494.5 660.0V684.7M495.5 656.4V684.7M496.5 655.8V684.7M497.5 660.4V684.7M498.5 665.5V684.7M499.5 673.2V684.7M500.5 680.0V684.7M501.5 682.6V684.7M502.5 682.5V684.7M503.5 684.1V684.7" stroke="#e8261a" stroke-width="1.5"/><path d="M504.5 689.8V684.7M505.5 689.1V684.7M506.5 692.2V684.7M507.5 693.2V684.7M508.5 697.5V684.7M509.5 698.3V684.7M510.5 697.7V684.7M511.5 693.5V684.7M512.5 690.2V684.7M513.5 693.4V684.7M514.5 697.8V684.7M515.5 700.2V684.7M516.5 701.2V684.7M517.5 699.7V684.7M518.5 700.2V684.7M519.5 701.6V684.7M520.5 702.6V684.7M521.5 703.3V684.7M522.5 702.4V684.7M523.5 703.7V684.7M524.5 706.2V684.7M525.5 709.6V684.7M526.5 713.2V684.7M527.5 712.5V684.7M528.5 709.2V684.7M529.5 706.5V684.7M530.5 704.4V684.7M531.5 703.6V684.7M532.5 704.8V684.7M533.5 705.4V684.7M534.5 706.5V684.7M535.5 705.1V684.7M536.5 700.3V684.7M537.5 692.7V684.7" stroke="#1f8a22" stroke-width="1.5"/><path d="M538.5 684.1V684.7M539.5 676.7V684.7M540.5 671.8V684.7M541.5 667.9V684.7M542.5 665.8V684.7M543.5 664.8V684.7M544.5 663.0V684.7M545.5 665.2V684.7M546.5 666.8V684.7M547.5 668.9V684.7M548.5 671.1V684.7M549.5 670.5V684.7M550.5 673.0V684.7M551.5 676.4V684.7M552.5 679.3V684.7M553.5 681.5V684.7M554.5 683.1V684.7M555.5 683.8V684.7" stroke="#e8261a" stroke-width="1.5"/><path d="M556.5 685.4V684.7M557.5 686.6V684.7M558.5 688.5V684.7M559.5 688.9V684.7M560.5 689.5V684.7M561.5 687.6V684.7" stroke="#1f8a22" stroke-width="1.5"/><path d="M562.5 684.0V684.7M563.5 680.2V684.7M564.5 678.0V684.7M565.5 672.8V684.7M566.5 669.1V684.7M567.5 665.3V684.7M568.5 662.1V684.7M569.5 661.3V684.7M570.5 661.2V684.7M571.5 663.8V684.7M572.5 668.1V684.7M573.5 672.2V684.7M574.5 675.2V684.7M575.5 674.9V684.7M576.5 676.9V684.7M577.5 680.0V684.7M578.5 682.8V684.7M579.5 684.2V684.7M580.5 682.3V684.7M581.5 683.7V684.7" stroke="#e8261a" stroke-width="1.5"/><path d="M582.5 684.9V684.7" stroke="#1f8a22" stroke-width="1.5"/><path d="M583.5 682.4V684.7M584.5 682.6V684.7M585.5 680.5V684.7M586.5 678.4V684.7M587.5 677.6V684.7M588.5 680.2V684.7M589.5 681.7V684.7M590.5 683.5V684.7" stroke="#e8261a" stroke-width="1.5"/><path d="M591.5 687.1V684.7M592.5 690.5V684.7M593.5 690.8V684.7M594.5 689.8V684.7M595.5 687.8V684.7M596.5 687.9V684.7M597.5 690.9V684.7M598.5 694.3V684.7M599.5 696.5V684.7M600.5 698.4V684.7M601.5 696.6V684.7M602.5 695.1V684.7M603.5 695.4V684.7M604.5 696.4V684.7M605.5 698.6V684.7M606.5 698.6V684.7M607.5 695.1V684.7M608.5 691.4V684.7M609.5 686.5V684.7" stroke="#1f8a22" stroke-width="1.5"/><path d="M610.5 681.8V684.7M611.5 680.7V684.7M612.5 678.9V684.7M613.5 677.2V684.7M614.5 672.6V684.7M615.5 668.8V684.7M616.5 667.6V684.7M617.5 670.0V684.7M618.5 672.1V684.7M619.5 676.0V684.7M620.5 681.7V684.7" stroke="#e8261a" stroke-width="1.5"/><path d="M621.5 686.9V684.7M622.5 689.7V684.7M623.5 690.8V684.7M624.5 690.6V684.7M625.5 684.8V684.7" stroke="#1f8a22" stroke-width="1.5"/><path d="M626.5 681.7V684.7M627.5 681.0V684.7M628.5 681.8V684.7M629.5 684.5V684.7" stroke="#e8261a" stroke-width="1.5"/><path d="M630.5 686.5V684.7M631.5 686.6V684.7M632.5 686.0V684.7M633.5 685.7V684.7" stroke="#1f8a22" stroke-width="1.5"/><path d="M634.5 684.2V684.7M635.5 683.5V684.7" stroke="#e8261a" stroke-width="1.5"/><path d="M636.5 684.9V684.7M637.5 688.5V684.7M638.5 689.7V684.7M639.5 689.9V684.7M640.5 690.7V684.7M641.5 694.0V684.7M642.5 695.5V684.7M643.5 696.9V684.7M644.5 692.6V684.7M645.5 686.7V684.7" stroke="#1f8a22" stroke-width="1.5"/><path d="M646.5 682.0V684.7M647.5 680.4V684.7M648.5 681.0V684.7M649.5 679.6V684.7M650.5 678.1V684.7M651.5 677.9V684.7M652.5 676.4V684.7M653.5 673.5V684.7M654.5 674.7V684.7M655.5 677.8V684.7M656.5 682.4V684.7" stroke="#e8261a" stroke-width="1.5"/><path d="M657.5 685.8V684.7M658.5 689.8V684.7M659.5 692.0V684.7M660.5 694.9V684.7M661.5 694.7V684.7M662.5 693.0V684.7M663.5 692.3V684.7M664.5 690.5V684.7M665.5 689.0V684.7M666.5 685.4V684.7" stroke="#1f8a22" stroke-width="1.5"/><path d="M667.5 680.2V684.7M668.5 677.3V684.7M669.5 674.5V684.7M670.5 671.4V684.7M671.5 664.6V684.7M672.5 657.5V684.7M673.5 656.7V684.7M674.5 661.0V684.7M675.5 666.2V684.7M676.5 667.4V684.7M677.5 668.1V684.7M678.5 670.9V684.7M679.5 672.4V684.7M680.5 673.2V684.7M681.5 674.4V684.7M682.5 675.5V684.7M683.5 675.1V684.7M684.5 674.8V684.7M685.5 676.9V684.7M686.5 683.4V684.7" stroke="#e8261a" stroke-width="1.5"/><path d="M687.5 687.0V684.7M688.5 686.6V684.7" stroke="#1f8a22" stroke-width="1.5"/><path d="M689.5 683.7V684.7M690.5 680.4V684.7M691.5 676.8V684.7M692.5 676.2V684.7M693.5 675.9V684.7M694.5 677.3V684.7M695.5 678.2V684.7M696.5 681.8V684.7M697.5 684.6V684.7" stroke="#e8261a" stroke-width="1.5"/><path d="M698.5 686.4V684.7M699.5 688.4V684.7M700.5 689.5V684.7M701.5 691.0V684.7M702.5 689.7V684.7M703.5 689.0V684.7M704.5 690.3V684.7M705.5 696.4V684.7M706.5 700.3V684.7M707.5 700.8V684.7M708.5 700.7V684.7M709.5 701.9V684.7M710.5 701.2V684.7M711.5 700.9V684.7M712.5 703.2V684.7M713.5 705.2V684.7M714.5 707.6V684.7M715.5 707.1V684.7M716.5 707.2V684.7M717.5 706.7V684.7M718.5 704.7V684.7M719.5 702.4V684.7M720.5 695.1V684.7M721.5 689.2V684.7" stroke="#1f8a22" stroke-width="1.5"/><path d="M722.5 683.7V684.7M723.5 680.5V684.7M724.5 679.0V684.7M725.5 677.2V684.7M726.5 674.5V684.7M727.5 675.0V684.7M728.5 675.1V684.7M729.5 675.4V684.7M730.5 675.1V684.7M731.5 674.9V684.7M732.5 672.3V684.7M733.5 674.5V684.7M734.5 676.9V684.7M735.5 680.2V684.7M736.5 684.2V684.7M737.5 684.4V684.7M738.5 681.3V684.7M739.5 679.7V684.7M740.5 678.6V684.7M741.5 679.6V684.7M742.5 682.5V684.7M743.5 682.9V684.7" stroke="#e8261a" stroke-width="1.5"/><path d="M744.5 685.6V684.7M745.5 684.8V684.7" stroke="#1f8a22" stroke-width="1.5"/><path d="M746.5 683.9V684.7M747.5 682.6V684.7M748.5 680.7V684.7M749.5 679.2V684.7M750.5 676.9V684.7M751.5 674.0V684.7M752.5 670.1V684.7M753.5 670.5V684.7M754.5 676.8V684.7M755.5 683.8V684.7" stroke="#e8261a" stroke-width="1.5"/><path d="M756.5 688.8V684.7M757.5 691.0V684.7M758.5 689.6V684.7M759.5 690.6V684.7M760.5 690.5V684.7M761.5 690.3V684.7M762.5 690.1V684.7M763.5 690.6V684.7M764.5 690.4V684.7M765.5 690.2V684.7M766.5 687.5V684.7M767.5 685.0V684.7M768.5 686.2V684.7" stroke="#1f8a22" stroke-width="1.5"/><path d="M769.5 684.7V684.7M770.5 682.0V684.7M771.5 680.4V684.7M772.5 679.7V684.7M773.5 677.2V684.7M774.5 675.6V684.7M775.5 676.5V684.7M776.5 678.4V684.7M777.5 680.9V684.7" stroke="#e8261a" stroke-width="1.5"/><path d="M778.5 684.9V684.7M779.5 685.9V684.7M780.5 686.6V684.7M781.5 686.1V684.7M782.5 688.0V684.7M783.5 685.2V684.7" stroke="#1f8a22" stroke-width="1.5"/><path d="M784.5 683.5V684.7M785.5 683.5V684.7" stroke="#e8261a" stroke-width="1.5"/><path d="M786.5 686.0V684.7M787.5 689.4V684.7M788.5 693.2V684.7M789.5 691.8V684.7M790.5 692.5V684.7M791.5 692.7V684.7M792.5 692.6V684.7M793.5 694.7V684.7M794.5 695.2V684.7M795.5 693.9V684.7M796.5 694.7V684.7M797.5 694.3V684.7M798.5 694.9V684.7M799.5 697.4V684.7M800.5 700.0V684.7M801.5 703.5V684.7M802.5 702.7V684.7M803.5 697.3V684.7M804.5 692.3V684.7M805.5 688.8V684.7M806.5 686.5V684.7M807.5 687.2V684.7M808.5 686.6V684.7" stroke="#1f8a22" stroke-width="1.5"/><path d="M809.5 683.2V684.7M810.5 682.5V684.7M811.5 681.4V684.7M812.5 680.7V684.7M813.5 679.7V684.7M814.5 679.5V684.7M815.5 678.7V684.7M816.5 679.7V684.7M817.5 679.8V684.7M818.5 679.2V684.7M819.5 678.4V684.7M820.5 675.1V684.7M821.5 673.0V684.7M822.5 671.2V684.7M823.5 670.7V684.7M824.5 668.8V684.7M825.5 670.8V684.7M826.5 671.6V684.7M827.5 669.9V684.7M828.5 668.0V684.7M829.5 670.4V684.7M830.5 674.9V684.7M831.5 678.6V684.7M832.5 682.6V684.7M833.5 684.5V684.7" stroke="#e8261a" stroke-width="1.5"/><path d="M834.5 686.6V684.7M835.5 686.6V684.7M836.5 686.8V684.7M837.5 688.7V684.7M838.5 693.0V684.7M839.5 692.6V684.7M840.5 691.9V684.7M841.5 689.2V684.7M842.5 686.2V684.7" stroke="#1f8a22" stroke-width="1.5"/><path d="M843.5 680.6V684.7M844.5 676.2V684.7M845.5 673.7V684.7M846.5 670.8V684.7M847.5 668.7V684.7M848.5 667.9V684.7M849.5 665.0V684.7M850.5 663.5V684.7M851.5 664.1V684.7M852.5 666.0V684.7M853.5 667.2V684.7M854.5 664.9V684.7M855.5 664.6V684.7M856.5 668.9V684.7M857.5 674.2V684.7M858.5 678.7V684.7M859.5 681.0V684.7" stroke="#e8261a" stroke-width="1.5"/><path d="M860.5 685.1V684.7M861.5 687.8V684.7M862.5 688.8V684.7M863.5 689.9V684.7M864.5 694.4V684.7M865.5 697.3V684.7M866.5 700.4V684.7M867.5 699.6V684.7M868.5 700.0V684.7M869.5 698.5V684.7M870.5 697.0V684.7M871.5 698.8V684.7M872.5 696.4V684.7M873.5 690.8V684.7M874.5 686.1V684.7" stroke="#1f8a22" stroke-width="1.5"/><path d="M875.5 683.1V684.7M876.5 682.7V684.7M877.5 680.5V684.7M878.5 675.7V684.7M879.5 673.4V684.7M880.5 672.8V684.7M881.5 673.4V684.7M882.5 676.1V684.7M883.5 676.7V684.7M884.5 677.0V684.7M885.5 673.8V684.7M886.5 673.6V684.7M887.5 676.4V684.7M888.5 677.3V684.7M889.5 677.1V684.7M890.5 676.5V684.7M891.5 679.0V684.7M892.5 677.8V684.7M893.5 677.3V684.7M894.5 678.4V684.7M895.5 680.7V684.7M896.5 681.1V684.7M897.5 682.0V684.7M898.5 681.7V684.7M899.5 680.9V684.7M900.5 678.1V684.7M901.5 672.4V684.7M902.5 668.7V684.7M903.5 666.3V684.7M904.5 659.8V684.7M905.5 659.3V684.7M906.5 664.7V684.7M907.5 668.0V684.7M908.5 673.0V684.7M909.5 676.1V684.7M910.5 683.0V684.7" stroke="#e8261a" stroke-width="1.5"/><path d="M911.5 692.4V684.7M912.5 700.2V684.7M913.5 700.6V684.7M914.5 700.3V684.7M915.5 698.9V684.7M916.5 698.4V684.7M917.5 701.5V684.7M918.5 699.8V684.7M919.5 702.0V684.7M920.5 703.1V684.7M921.5 706.5V684.7M922.5 708.1V684.7M923.5 705.9V684.7M924.5 704.6V684.7M925.5 704.7V684.7M926.5 703.7V684.7M927.5 704.4V684.7M928.5 703.7V684.7M929.5 700.0V684.7M930.5 701.8V684.7M931.5 704.6V684.7M932.5 706.5V684.7M933.5 707.5V684.7M934.5 709.9V684.7M935.5 710.9V684.7M936.5 710.4V684.7M937.5 709.0V684.7M938.5 709.8V684.7M939.5 706.6V684.7M940.5 704.6V684.7M941.5 696.2V684.7M942.5 685.6V684.7" stroke="#1f8a22" stroke-width="1.5"/><path d="M943.5 681.0V684.7M944.5 676.6V684.7M945.5 671.7V684.7M946.5 668.5V684.7M947.5 668.8V684.7M948.5 672.5V684.7M949.5 674.4V684.7M950.5 677.5V684.7M951.5 681.0V684.7M952.5 681.6V684.7M953.5 683.3V684.7M954.5 684.3V684.7M955.5 684.5V684.7" stroke="#e8261a" stroke-width="1.5"/><path d="M956.5 685.1V684.7M957.5 686.0V684.7M958.5 686.7V684.7M959.5 685.6V684.7" stroke="#1f8a22" stroke-width="1.5"/><path d="M960.5 684.1V684.7" stroke="#e8261a" stroke-width="1.5"/><path d="M961.5 686.2V684.7M962.5 687.5V684.7M963.5 689.9V684.7M964.5 691.8V684.7M965.5 690.4V684.7M966.5 690.6V684.7M967.5 685.3V684.7" stroke="#1f8a22" stroke-width="1.5"/><path d="M968.5 682.3V684.7M969.5 678.6V684.7M970.5 678.4V684.7M971.5 679.1V684.7M972.5 674.4V684.7M973.5 671.6V684.7M974.5 673.5V684.7M975.5 676.2V684.7M976.5 678.0V684.7M977.5 676.8V684.7M978.5 675.9V684.7M979.5 675.7V684.7M980.5 675.0V684.7M981.5 676.3V684.7M982.5 672.2V684.7M983.5 672.5V684.7M984.5 670.6V684.7M985.5 671.9V684.7M986.5 669.5V684.7M987.5 666.5V684.7M988.5 670.1V684.7M989.5 673.5V684.7M990.5 674.9V684.7M991.5 673.6V684.7M992.5 674.8V684.7M993.5 680.1V684.7" stroke="#e8261a" stroke-width="1.5"/><path d="M994.5 688.4V684.7M995.5 693.7V684.7M996.5 699.0V684.7M997.5 701.1V684.7M998.5 701.0V684.7M999.5 701.0V684.7M1000.5 701.5V684.7M1001.5 700.0V684.7M1002.5 697.9V684.7M1003.5 696.8V684.7M1004.5 698.0V684.7M1005.5 698.9V684.7M1006.5 703.6V684.7M1007.5 711.7V684.7" stroke="#1f8a22" stroke-width="1.5"/>
<polyline points="9.5,684.5 10.5,684.5 11.5,684.5 12.5,684.5 13.5,684.4 14.5,684.2 15.5,684.0 16.5,683.7 17.5,683.6 18.5,683.4 19.5,683.2 20.5,683.0 21.5,682.8 22.5,682.6 23.5,682.4 24.5,682.1 25.5,682.0 26.5,681.8 27.5,681.6 28.5,681.3 29.5,681.0 30.5,680.5 31.5,680.0 32.5,679.5 33.5,679.2 34.5,678.9 35.5,678.6 36.5,678.0 37.5,677.5 38.5,677.0 39.5,676.7 40.5,676.5 41.5,676.4 42.5,676.3 43.5,676.3 44.5,676.5 45.5,676.8 46.5,677.0 47.5,677.4 48.5,677.8 49.5,678.1 50.5,678.4 51.5,678.7 52.5,678.9 53.5,679.1 54.5,679.5 55.5,679.9 56.5,680.3 57.5,680.8 58.5,681.2 59.5,681.7 60.5,682.3 61.5,682.7 62.5,683.0 63.5,683.2 64.5,683.2 65.5,683.3 66.5,683.3 67.5,683.3 68.5,683.4 69.5,683.3 70.5,683.3 71.5,683.2 72.5,683.0 73.5,682.7 74.5,682.3 75.5,681.9 76.5,681.7 77.5,681.6 78.5,681.5 79.5,681.2 80.5,680.9 81.5,680.4 82.5,679.8 83.5,679.3 84.5,678.9 85.5,678.6 86.5,678.3 87.5,678.0 88.5,677.7 89.5,677.8 90.5,677.9 91.5,678.0 92.5,678.3 93.5,678.6 94.5,679.1 95.5,679.5 96.5,679.9 97.5,680.4 98.5,680.9 99.5,681.4 100.5,681.8 101.5,682.1 102.5,682.2 103.5,682.4 104.5,682.5 105.5,682.7 106.5,682.7 107.5,682.8 108.5,682.8 109.5,682.6 110.5,682.3 111.5,682.1 112.5,682.0 113.5,682.2 114.5,682.4 115.5,682.5 116.5,682.6 117.5,682.6 118.5,682.6 119.5,682.6 120.5,682.5 121.5,682.5 122.5,682.3 123.5,682.0 124.5,681.7 125.5,681.3 126.5,680.8 127.5,680.4 128.5,680.0 129.5,679.7 130.5,679.4 131.5,679.1 132.5,678.8 133.5,678.2 134.5,677.6 135.5,677.0 136.5,676.4 137.5,675.9 138.5,675.3 139.5,674.7 140.5,674.0 141.5,673.4 142.5,672.7 143.5,671.7 144.5,670.9 145.5,670.2 146.5,669.5 147.5,668.9 148.5,668.5 149.5,668.1 150.5,668.0 151.5,668.0 152.5,668.1 153.5,668.1 154.5,667.8 155.5,667.1 156.5,666.5 157.5,665.9 158.5,665.4 159.5,664.7 160.5,663.5 161.5,661.8 162.5,660.1 163.5,658.8 164.5,658.3 165.5,658.3 166.5,658.6 167.5,659.4 168.5,660.7 169.5,662.2 170.5,663.5 171.5,664.6 172.5,665.7 173.5,666.6 174.5,667.4 175.5,668.2 176.5,668.8 177.5,669.5 178.5,670.5 179.5,671.5 180.5,672.5 181.5,673.7 182.5,674.9 183.5,676.2 184.5,677.4 185.5,678.3 186.5,679.2 187.5,679.9 188.5,680.5 189.5,680.9 190.5,681.1 191.5,681.2 192.5,681.3 193.5,681.2 194.5,680.9 195.5,680.6 196.5,680.4 197.5,680.1 198.5,679.9 199.5,679.5 200.5,678.8 201.5,678.1 202.5,677.6 203.5,677.0 204.5,676.5 205.5,676.1 206.5,675.9 207.5,675.8 208.5,675.6 209.5,675.5 210.5,675.1 211.5,674.8 212.5,674.6 213.5,674.6 214.5,674.9 215.5,675.5 216.5,675.9 217.5,676.2 218.5,676.5 219.5,676.7 220.5,677.1 221.5,677.6 222.5,677.9 223.5,678.0 224.5,678.1 225.5,678.3 226.5,678.7 227.5,679.2 228.5,679.8 229.5,680.1 230.5,680.2 231.5,679.8 232.5,679.0 233.5,678.1 234.5,677.0 235.5,675.9 236.5,674.5 237.5,672.9 238.5,671.1 239.5,669.0 240.5,666.8 241.5,664.7 242.5,663.0 243.5,661.7 244.5,661.2 245.5,660.6 246.5,660.1 247.5,659.6 248.5,658.8 249.5,657.8 250.5,656.5 251.5,655.4 252.5,654.2 253.5,653.1 254.5,652.0 255.5,651.0 256.5,650.0 257.5,648.7 258.5,647.6 259.5,646.9 260.5,646.4 261.5,646.5 262.5,647.4 263.5,649.0 264.5,651.1 265.5,653.2 266.5,655.5 267.5,657.7 268.5,659.9 269.5,662.1 270.5,664.0 271.5,665.8 272.5,667.4 273.5,668.7 274.5,669.5 275.5,669.9 276.5,670.3 277.5,671.1 278.5,672.1 279.5,673.4 280.5,675.1 281.5,677.2 282.5,680.0 283.5,683.2 284.5,686.4 285.5,689.1 286.5,691.2 287.5,692.5 288.5,693.9 289.5,695.6 290.5,697.7 291.5,699.7 292.5,701.4 293.5,702.7 294.5,703.5 295.5,703.6 296.5,703.2 297.5,702.4 298.5,701.3 299.5,699.8 300.5,697.8 301.5,696.0 302.5,694.2 303.5,692.6 304.5,691.0 305.5,689.2 306.5,687.1 307.5,684.7 308.5,682.1 309.5,679.6 310.5,677.5 311.5,676.0 312.5,675.0 313.5,674.4 314.5,673.9 315.5,673.8 316.5,674.1 317.5,674.4 318.5,674.4 319.5,674.0 320.5,673.4 321.5,672.8 322.5,672.3 323.5,671.9 324.5,671.6 325.5,671.7 326.5,671.7 327.5,671.9 328.5,672.0 329.5,672.2 330.5,672.4 331.5,672.5 332.5,672.7 333.5,672.8 334.5,672.5 335.5,672.0 336.5,671.4 337.5,670.5 338.5,669.5 339.5,668.7 340.5,667.7 341.5,666.6 342.5,665.2 343.5,663.7 344.5,661.9 345.5,659.7 346.5,657.5 347.5,655.3 348.5,653.7 349.5,652.9 350.5,652.6 351.5,652.8 352.5,653.6 353.5,654.4 354.5,655.2 355.5,655.9 356.5,656.6 357.5,657.8 358.5,659.5 359.5,661.0 360.5,662.3 361.5,663.4 362.5,664.4 363.5,665.3 364.5,666.3 365.5,666.9 366.5,667.0 367.5,666.6 368.5,665.9 369.5,665.0 370.5,664.0 371.5,663.4 372.5,662.9 373.5,662.5 374.5,661.7 375.5,660.9 376.5,660.0 377.5,659.2 378.5,659.1 379.5,659.8 380.5,660.9 381.5,662.0 382.5,663.0 383.5,663.5 384.5,664.0 385.5,664.7 386.5,665.4 387.5,665.9 388.5,665.8 389.5,665.3 390.5,664.5 391.5,663.2 392.5,661.7 393.5,659.9 394.5,658.2 395.5,656.8 396.5,655.7 397.5,654.7 398.5,653.9 399.5,653.2 400.5,652.7 401.5,652.4 402.5,652.3 403.5,652.2 404.5,652.7 405.5,653.5 406.5,654.7 407.5,656.4 408.5,658.0 409.5,659.5 410.5,660.7 411.5,661.6 412.5,662.1 413.5,662.4 414.5,662.5 415.5,662.0 416.5,661.1 417.5,660.2 418.5,659.5 419.5,658.3 420.5,657.3 421.5,656.4 422.5,655.9 423.5,655.3 424.5,654.6 425.5,653.8 426.5,653.8 427.5,654.1 428.5,654.9 429.5,655.7 430.5,656.3 431.5,655.9 432.5,654.9 433.5,653.6 434.5,651.7 435.5,649.7 436.5,647.0 437.5,643.1 438.5,638.1 439.5,632.9 440.5,628.9 441.5,626.7 442.5,626.4 443.5,628.2 444.5,631.4 445.5,635.1 446.5,638.3 447.5,641.0 448.5,642.7 449.5,644.0 450.5,645.3 451.5,646.8 452.5,648.9 453.5,651.5 454.5,655.4 455.5,660.0 456.5,664.6 457.5,668.6 458.5,671.3 459.5,672.9 460.5,673.6 461.5,673.6 462.5,673.1 463.5,672.0 464.5,671.1 465.5,670.7 466.5,671.1 467.5,671.9 468.5,673.0 469.5,674.2 470.5,675.7 471.5,677.3 472.5,678.7 473.5,680.2 474.5,682.1 475.5,684.2 476.5,686.2 477.5,688.1 478.5,689.7 479.5,691.3 480.5,692.7 481.5,693.9 482.5,695.1 483.5,696.0 484.5,696.9 485.5,697.3 486.5,697.1 487.5,696.2 488.5,695.4 489.5,694.5 490.5,693.4 491.5,691.9 492.5,689.7 493.5,686.9 494.5,683.8 495.5,680.2 496.5,676.6 497.5,673.6 498.5,671.2 499.5,669.8 500.5,669.2 501.5,668.9 502.5,668.6 503.5,668.6 504.5,669.2 505.5,669.7 506.5,670.7 507.5,671.7 508.5,673.3 509.5,675.1 510.5,676.7 511.5,677.8 512.5,678.5 513.5,679.5 514.5,681.2 515.5,683.1 516.5,685.2 517.5,687.1 518.5,689.0 519.5,691.1 520.5,693.3 521.5,695.7 522.5,697.9 523.5,700.3 524.5,702.9 525.5,706.1 526.5,709.6 527.5,713.1 528.5,716.1 529.5,718.9 530.5,721.3 531.5,723.7 532.5,726.2 533.5,728.8 534.5,731.5 535.5,734.1 536.5,736.0 537.5,737.0 538.5,737.0 539.5,735.9 540.5,734.3 541.5,732.2 542.5,729.9 543.5,727.4 544.5,724.7 545.5,722.2 546.5,720.0 547.5,718.0 548.5,716.3 549.5,714.5 550.5,713.1 551.5,712.0 552.5,711.4 553.5,711.0 554.5,710.7 555.5,710.6 556.5,710.7 557.5,711.0 558.5,711.4 559.5,712.0 560.5,712.6 561.5,712.9 562.5,712.8 563.5,712.3 564.5,711.4 565.5,710.0 566.5,708.0 567.5,705.6 568.5,702.8 569.5,699.8 570.5,696.9 571.5,694.3 572.5,692.2 573.5,690.7 574.5,689.5 575.5,688.2 576.5,687.3 577.5,686.7 578.5,686.4 579.5,686.4 580.5,686.1 581.5,686.0 582.5,686.0 583.5,685.7 584.5,685.4 585.5,684.9 586.5,684.1 587.5,683.2 588.5,682.7 589.5,682.3 590.5,682.1 591.5,682.4 592.5,683.2 593.5,683.9 594.5,684.6 595.5,684.9 596.5,685.3 597.5,686.1 598.5,687.3 599.5,688.8 600.5,690.5 601.5,692.0 602.5,693.3 603.5,694.6 604.5,696.1 605.5,697.8 606.5,699.6 607.5,700.9 608.5,701.7 609.5,701.9 610.5,701.6 611.5,701.1 612.5,700.3 613.5,699.4 614.5,697.9 615.5,695.9 616.5,693.7 617.5,691.9 618.5,690.3 619.5,689.2 620.5,688.9 621.5,689.1 622.5,689.8 623.5,690.5 624.5,691.3 625.5,691.3 626.5,690.9 627.5,690.4 628.5,690.1 629.5,690.0 630.5,690.3 631.5,690.5 632.5,690.7 633.5,690.8 634.5,690.7 635.5,690.6 636.5,690.6 637.5,691.1 638.5,691.7 639.5,692.4 640.5,693.1 641.5,694.3 642.5,695.6 643.5,697.1 644.5,698.1 645.5,698.4 646.5,698.0 647.5,697.5 648.5,697.0 649.5,696.4 650.5,695.6 651.5,694.7 652.5,693.7 653.5,692.3 654.5,691.0 655.5,690.2 656.5,689.9 657.5,690.0 658.5,690.6 659.5,691.5 660.5,692.8 661.5,694.1 662.5,695.1 663.5,696.0 664.5,696.8 665.5,697.3 666.5,697.4 667.5,696.8 668.5,695.9 669.5,694.6 670.5,693.0 671.5,690.5 672.5,687.1 673.5,683.6 674.5,680.6 675.5,678.3 676.5,676.1 677.5,674.1 678.5,672.3 679.5,670.8 680.5,669.4 681.5,668.1 682.5,666.9 683.5,665.7 684.5,664.5 685.5,663.5 686.5,663.4 687.5,663.6 688.5,663.9 689.5,663.8 690.5,663.2 691.5,662.2 692.5,661.2 693.5,660.1 694.5,659.1 695.5,658.3 696.5,658.0 697.5,657.9 698.5,658.2 699.5,658.6 700.5,659.2 701.5,660.0 702.5,660.6 703.5,661.2 704.5,661.9 705.5,663.3 706.5,665.3 707.5,667.3 708.5,669.3 709.5,671.5 710.5,673.5 711.5,675.5 712.5,677.9 713.5,680.4 714.5,683.3 715.5,686.1 716.5,688.9 717.5,691.6 718.5,694.1 719.5,696.4 720.5,697.7 721.5,698.2 722.5,698.1 723.5,697.6 724.5,696.8 725.5,695.9 726.5,694.6 727.5,693.4 728.5,692.2 729.5,691.0 730.5,689.8 731.5,688.6 732.5,687.1 733.5,685.8 734.5,684.8 735.5,684.2 736.5,684.2 737.5,684.1 738.5,683.7 739.5,683.1 740.5,682.3 741.5,681.7 742.5,681.4 743.5,681.2 744.5,681.3 745.5,681.3 746.5,681.2 747.5,681.0 748.5,680.4 749.5,679.8 750.5,678.8 751.5,677.4 752.5,675.6 753.5,673.9 754.5,672.9 755.5,672.7 756.5,673.3 757.5,674.1 758.5,674.7 759.5,675.4 760.5,676.1 761.5,676.8 762.5,677.5 763.5,678.3 764.5,679.0 765.5,679.7 766.5,680.0 767.5,680.0 768.5,680.2 769.5,680.2 770.5,679.9 771.5,679.4 772.5,678.7 773.5,677.8 774.5,676.7 775.5,675.6 776.5,674.9 777.5,674.4 778.5,674.4 779.5,674.5 780.5,674.8 781.5,675.0 782.5,675.4 783.5,675.4 784.5,675.3 785.5,675.1 786.5,675.3 787.5,675.9 788.5,676.9 789.5,677.8 790.5,678.8 791.5,679.8 792.5,680.8 793.5,682.0 794.5,683.4 795.5,684.5 796.5,685.8 797.5,687.0 798.5,688.2 799.5,689.8 800.5,691.7 801.5,694.1 802.5,696.3 803.5,697.9 804.5,698.9 805.5,699.4 806.5,699.6 807.5,699.9 808.5,700.2 809.5,700.0 810.5,699.7 811.5,699.3 812.5,698.8 813.5,698.2 814.5,697.5 815.5,696.8 816.5,696.1 817.5,695.5 818.5,694.8 819.5,694.1 820.5,692.9 821.5,691.4 822.5,689.7 823.5,688.0 824.5,686.0 825.5,684.2 826.5,682.6 827.5,680.7 828.5,678.7 829.5,676.9 830.5,675.6 831.5,674.9 832.5,674.6 833.5,674.6 834.5,674.8 835.5,675.1 836.5,675.3 837.5,675.8 838.5,676.9 839.5,677.9 840.5,678.8 841.5,679.3 842.5,679.5 843.5,679.0 844.5,677.9 845.5,676.6 846.5,674.8 847.5,672.8 848.5,670.7 849.5,668.3 850.5,665.6 851.5,663.0 852.5,660.7 853.5,658.5 854.5,656.0 855.5,653.5 856.5,651.5 857.5,650.2 858.5,649.5 859.5,649.0 860.5,649.1 861.5,649.5 862.5,650.0 863.5,650.6 864.5,651.8 865.5,653.4 866.5,655.4 867.5,657.2 868.5,659.1 869.5,660.9 870.5,662.4 871.5,664.2 872.5,665.6 873.5,666.4 874.5,666.6 875.5,666.4 876.5,666.1 877.5,665.6 878.5,664.5 879.5,663.1 880.5,661.6 881.5,660.2 882.5,659.1 883.5,658.1 884.5,657.1 885.5,655.8 886.5,654.4 887.5,653.4 888.5,652.4 889.5,651.5 890.5,650.5 891.5,649.7 892.5,648.9 893.5,648.0 894.5,647.2 895.5,646.7 896.5,646.2 897.5,645.9 898.5,645.5 899.5,645.0 900.5,644.2 901.5,642.7 902.5,640.7 903.5,638.4 904.5,635.2 905.5,632.1 906.5,629.6 907.5,627.5 908.5,626.0 909.5,624.9 910.5,624.7 911.5,625.7 912.5,627.6 913.5,629.6 914.5,631.6 915.5,633.3 916.5,635.1 917.5,637.1 918.5,639.0 919.5,641.2 920.5,643.5 921.5,646.2 922.5,649.1 923.5,651.8 924.5,654.3 925.5,656.8 926.5,659.1 927.5,661.6 928.5,664.0 929.5,665.9 930.5,668.0 931.5,670.5 932.5,673.3 933.5,676.1 934.5,679.2 935.5,682.5 936.5,685.7 937.5,688.8 938.5,691.9 939.5,694.6 940.5,697.1 941.5,698.6 942.5,698.7 943.5,698.2 944.5,697.2 945.5,695.6 946.5,693.5 947.5,691.6 948.5,690.0 949.5,688.7 950.5,687.8 951.5,687.4 952.5,687.0 953.5,686.8 954.5,686.8 955.5,686.8 956.5,686.8 957.5,687.0 958.5,687.2 959.5,687.3 960.5,687.3 961.5,687.5 962.5,687.8 963.5,688.5 964.5,689.4 965.5,690.1 966.5,690.8 967.5,690.9 968.5,690.6 969.5,689.8 970.5,689.0 971.5,688.3 972.5,687.1 973.5,685.4 974.5,684.0 975.5,683.0 976.5,682.1 977.5,681.1 978.5,680.0 979.5,678.9 980.5,677.7 981.5,676.6 982.5,675.1 983.5,673.5 984.5,671.8 985.5,670.2 986.5,668.3 987.5,666.0 988.5,664.2 989.5,662.8 990.5,661.5 991.5,660.1 992.5,658.9 993.5,658.3 994.5,658.8 995.5,659.9 996.5,661.7 997.5,663.8 998.5,665.8 999.5,667.8 1000.5,669.9 1001.5,671.8 1002.5,673.5 1003.5,675.0 1004.5,676.7 1005.5,678.4 1006.5,680.8 1007.5,683.5" fill="none" stroke="#f0962a" stroke-width="1.5" stroke-linejoin="round" />
<polyline points="9.5,684.5 10.5,684.4 11.5,684.5 12.5,684.5 13.5,684.1 14.5,683.6 15.5,682.9 16.5,682.6 17.5,683.0 18.5,682.8 19.5,682.3 20.5,682.2 21.5,682.0 22.5,682.0 23.5,681.4 24.5,681.1 25.5,681.4 26.5,681.1 27.5,680.9 28.5,680.2 29.5,679.5 30.5,678.5 31.5,678.1 32.5,677.6 33.5,677.6 34.5,677.7 35.5,677.4 36.5,676.0 37.5,675.1 38.5,675.1 39.5,675.7 40.5,675.7 41.5,676.0 42.5,676.1 43.5,676.2 44.5,677.3 45.5,677.7 46.5,678.1 47.5,678.9 48.5,679.1 49.5,679.3 50.5,679.5 51.5,679.8 52.5,679.7 53.5,680.0 54.5,681.2 55.5,681.2 56.5,682.0 57.5,682.6 58.5,682.7 59.5,683.9 60.5,684.6 61.5,684.3 62.5,684.1 63.5,683.9 64.5,683.5 65.5,683.5 66.5,683.3 67.5,683.3 68.5,683.7 69.5,683.3 70.5,683.1 71.5,682.6 72.5,682.3 73.5,681.5 74.5,680.8 75.5,680.5 76.5,680.8 77.5,681.4 78.5,680.8 79.5,679.9 80.5,679.7 81.5,678.4 82.5,677.6 83.5,677.1 84.5,677.3 85.5,677.4 86.5,677.0 87.5,676.8 88.5,676.8 89.5,677.9 90.5,678.3 91.5,678.7 92.5,679.3 93.5,680.0 94.5,680.8 95.5,681.1 96.5,681.7 97.5,682.1 98.5,683.0 99.5,683.4 100.5,683.3 101.5,683.2 102.5,682.8 103.5,683.0 104.5,683.0 105.5,683.4 106.5,683.0 107.5,683.2 108.5,682.7 109.5,681.6 110.5,681.4 111.5,681.2 112.5,681.6 113.5,683.0 114.5,683.2 115.5,682.9 116.5,682.8 117.5,682.8 118.5,682.7 119.5,682.4 120.5,682.3 121.5,682.3 122.5,681.5 123.5,680.9 124.5,680.5 125.5,679.5 126.5,679.1 127.5,678.4 128.5,678.4 129.5,678.5 130.5,678.4 131.5,677.8 132.5,677.4 133.5,676.1 134.5,675.0 135.5,674.9 136.5,673.8 137.5,673.9 138.5,672.8 139.5,672.4 140.5,671.3 141.5,670.7 142.5,669.9 143.5,668.0 144.5,667.4 145.5,667.3 146.5,666.8 147.5,666.6 148.5,666.7 149.5,666.5 150.5,667.5 151.5,668.1 152.5,668.6 153.5,668.1 154.5,666.6 155.5,664.5 156.5,664.0 157.5,663.4 158.5,663.2 159.5,662.0 160.5,658.9 161.5,655.1 162.5,653.0 163.5,653.9 164.5,656.0 165.5,658.3 166.5,660.1 167.5,662.3 168.5,666.2 169.5,668.3 170.5,668.7 171.5,669.1 172.5,670.0 173.5,670.1 174.5,670.6 175.5,671.2 176.5,671.2 177.5,672.7 178.5,674.1 179.5,675.6 180.5,676.7 181.5,678.4 182.5,679.9 183.5,681.4 184.5,682.0 185.5,682.1 186.5,682.9 187.5,682.7 188.5,682.7 189.5,682.5 190.5,682.1 191.5,681.6 192.5,681.5 193.5,680.8 194.5,680.0 195.5,679.3 196.5,679.3 197.5,679.3 198.5,679.0 199.5,677.9 200.5,676.0 201.5,675.5 202.5,675.3 203.5,674.6 204.5,674.5 205.5,674.6 206.5,675.0 207.5,675.5 208.5,674.9 209.5,675.0 210.5,673.8 211.5,673.6 212.5,673.7 213.5,674.5 214.5,676.1 215.5,677.8 216.5,677.9 217.5,677.1 218.5,677.6 219.5,677.8 220.5,678.5 221.5,679.6 222.5,679.3 223.5,678.2 224.5,678.4 225.5,679.2 226.5,680.1 227.5,681.3 228.5,682.1 229.5,681.5 230.5,680.4 231.5,678.3 232.5,675.8 233.5,674.3 234.5,672.8 235.5,671.5 236.5,669.1 237.5,666.5 238.5,663.6 239.5,660.5 240.5,658.0 241.5,656.3 242.5,656.2 243.5,656.9 244.5,658.9 245.5,658.4 246.5,658.2 247.5,657.3 248.5,655.9 249.5,653.5 250.5,651.6 251.5,650.7 252.5,649.6 253.5,648.7 254.5,647.5 255.5,647.0 256.5,645.9 257.5,643.4 258.5,643.3 259.5,644.0 260.5,644.5 261.5,646.7 262.5,651.1 263.5,655.7 264.5,659.3 265.5,661.7 266.5,664.4 267.5,666.6 268.5,668.7 269.5,670.7 270.5,671.9 271.5,673.0 272.5,673.7 273.5,673.9 274.5,672.5 275.5,671.8 276.5,671.9 277.5,674.4 278.5,676.0 279.5,678.3 280.5,681.9 281.5,685.6 282.5,691.1 283.5,696.3 284.5,699.0 285.5,700.0 286.5,699.6 287.5,697.7 288.5,699.3 289.5,702.7 290.5,705.9 291.5,707.7 292.5,708.6 293.5,707.9 294.5,706.5 295.5,704.1 296.5,701.4 297.5,699.4 298.5,696.6 299.5,693.8 300.5,690.1 301.5,688.5 302.5,687.3 303.5,686.2 304.5,684.7 305.5,681.9 306.5,678.6 307.5,675.1 308.5,672.0 309.5,669.6 310.5,669.1 311.5,669.8 312.5,671.0 313.5,671.8 314.5,672.0 315.5,673.7 316.5,675.1 317.5,675.5 318.5,674.5 319.5,672.4 320.5,670.8 321.5,670.7 322.5,670.3 323.5,670.2 324.5,670.7 325.5,671.7 326.5,672.0 327.5,672.4 328.5,672.3 329.5,673.3 330.5,673.2 331.5,673.1 332.5,673.5 333.5,672.8 334.5,671.4 335.5,670.2 336.5,669.0 337.5,666.9 338.5,665.4 339.5,665.3 340.5,663.9 341.5,662.2 342.5,659.6 343.5,657.7 344.5,654.6 345.5,650.9 346.5,648.8 347.5,646.4 348.5,647.2 349.5,649.8 350.5,651.6 351.5,653.6 352.5,656.5 353.5,657.9 354.5,658.5 355.5,658.4 356.5,659.5 357.5,662.7 358.5,666.0 359.5,667.3 360.5,667.5 361.5,667.5 362.5,668.3 363.5,669.3 364.5,669.9 365.5,669.3 366.5,667.3 367.5,665.2 368.5,663.1 369.5,661.1 370.5,660.2 371.5,660.8 372.5,661.1 373.5,660.8 374.5,658.5 375.5,657.7 376.5,656.3 377.5,656.1 378.5,658.8 379.5,662.4 380.5,665.6 381.5,666.5 382.5,666.7 383.5,665.8 384.5,665.7 385.5,667.7 386.5,668.3 387.5,667.6 388.5,665.4 389.5,663.4 390.5,661.2 391.5,658.1 392.5,655.8 393.5,652.6 394.5,651.3 395.5,651.1 396.5,651.5 397.5,650.7 398.5,650.5 399.5,650.5 400.5,650.6 401.5,651.5 402.5,651.9 403.5,651.9 404.5,654.3 405.5,656.8 406.5,659.7 407.5,663.2 408.5,664.4 409.5,665.2 410.5,665.7 411.5,665.4 412.5,664.1 413.5,663.6 414.5,662.6 415.5,660.2 416.5,657.6 417.5,656.8 418.5,656.3 419.5,653.5 420.5,653.2 421.5,653.2 422.5,653.8 423.5,653.0 424.5,651.8 425.5,650.7 426.5,653.7 427.5,655.4 428.5,658.1 429.5,658.8 430.5,658.5 431.5,654.6 432.5,650.6 433.5,648.3 434.5,644.5 435.5,641.5 436.5,636.3 437.5,627.7 438.5,618.0 439.5,612.0 440.5,612.7 441.5,617.9 442.5,625.6 443.5,635.2 444.5,644.3 445.5,649.6 446.5,651.3 447.5,651.9 448.5,649.5 449.5,649.2 450.5,650.6 451.5,652.6 452.5,657.1 453.5,662.1 454.5,671.0 455.5,678.2 456.5,683.1 457.5,684.5 458.5,682.1 459.5,679.4 460.5,676.2 461.5,673.9 462.5,671.0 463.5,667.5 464.5,667.5 465.5,669.4 466.5,672.8 467.5,674.9 468.5,677.6 469.5,678.8 470.5,681.8 471.5,683.7 472.5,684.2 473.5,686.1 474.5,690.1 475.5,692.2 476.5,694.2 477.5,695.7 478.5,696.0 479.5,697.6 480.5,698.3 481.5,698.6 482.5,699.9 483.5,699.9 484.5,700.2 485.5,698.9 486.5,696.3 487.5,692.4 488.5,692.2 489.5,691.0 490.5,689.1 491.5,685.7 492.5,681.1 493.5,675.5 494.5,671.4 495.5,666.1 496.5,662.2 497.5,661.4 498.5,661.6 499.5,664.0 500.5,666.8 501.5,667.9 502.5,667.6 503.5,668.2 504.5,671.8 505.5,672.0 506.5,674.4 507.5,676.0 508.5,679.7 509.5,681.9 510.5,683.1 511.5,682.2 512.5,681.2 513.5,683.9 514.5,687.7 515.5,690.9 516.5,693.4 517.5,694.6 518.5,696.7 519.5,699.5 520.5,702.3 521.5,705.0 522.5,706.8 523.5,709.8 524.5,713.7 525.5,718.5 526.5,723.8 527.5,727.0 528.5,728.4 529.5,729.8 530.5,731.2 531.5,733.1 532.5,736.3 533.5,739.2 534.5,742.4 535.5,744.2 536.5,743.8 537.5,741.0 538.5,736.7 539.5,731.9 540.5,727.9 541.5,723.8 542.5,720.4 543.5,717.4 544.5,713.8 545.5,712.5 546.5,711.0 547.5,710.1 548.5,709.5 549.5,707.4 550.5,707.2 551.5,707.9 552.5,708.6 553.5,709.3 554.5,709.9 555.5,710.2 556.5,711.1 557.5,711.9 558.5,713.3 559.5,714.1 560.5,715.0 561.5,714.4 562.5,712.5 563.5,710.0 564.5,708.1 565.5,704.0 566.5,700.2 567.5,695.9 568.5,691.5 569.5,688.1 570.5,685.2 571.5,683.9 572.5,683.9 573.5,684.4 574.5,684.7 575.5,683.3 576.5,683.3 577.5,684.4 578.5,685.5 579.5,686.1 580.5,684.9 581.5,685.4 582.5,686.1 583.5,684.5 584.5,684.4 585.5,682.8 586.5,680.9 587.5,679.7 588.5,680.4 589.5,680.8 590.5,681.5 591.5,683.6 592.5,686.0 593.5,687.0 594.5,687.1 595.5,686.5 596.5,686.9 597.5,689.2 598.5,692.1 599.5,694.7 600.5,697.4 601.5,698.0 602.5,698.5 603.5,700.0 604.5,701.9 605.5,704.8 606.5,706.5 607.5,706.0 608.5,705.0 609.5,702.8 610.5,700.1 611.5,699.0 612.5,697.4 613.5,695.6 614.5,691.8 615.5,687.9 616.5,685.2 617.5,684.6 618.5,684.0 619.5,684.9 620.5,687.4 621.5,690.2 622.5,692.2 623.5,693.5 624.5,694.2 625.5,691.3 626.5,689.4 627.5,688.6 628.5,688.6 629.5,690.0 630.5,691.2 631.5,691.5 632.5,691.3 633.5,691.3 634.5,690.5 635.5,690.0 636.5,690.7 637.5,693.0 638.5,694.2 639.5,694.9 640.5,696.1 641.5,698.9 642.5,701.0 643.5,703.2 644.5,702.0 645.5,699.3 646.5,696.7 647.5,695.3 648.5,695.1 649.5,693.8 650.5,692.3 651.5,691.3 652.5,689.5 653.5,686.7 654.5,686.0 655.5,686.7 656.5,688.7 657.5,690.5 658.5,693.2 659.5,695.2 660.5,697.9 661.5,699.1 662.5,699.2 663.5,699.9 664.5,699.7 665.5,699.4 666.5,697.7 667.5,694.6 668.5,692.2 669.5,689.5 670.5,686.3 671.5,680.4 672.5,673.5 673.5,669.6 674.5,668.8 675.5,669.0 676.5,667.5 677.5,665.8 678.5,665.4 679.5,664.6 680.5,663.6 681.5,662.9 682.5,662.3 683.5,660.9 684.5,659.5 685.5,659.6 686.5,662.7 687.5,664.8 688.5,664.8 689.5,663.2 690.5,661.1 691.5,658.3 692.5,656.9 693.5,655.6 694.5,655.4 695.5,655.1 696.5,656.5 697.5,657.9 698.5,659.0 699.5,660.5 700.5,661.6 701.5,663.2 702.5,663.1 703.5,663.3 704.5,664.7 705.5,669.2 706.5,673.1 707.5,675.3 708.5,677.3 709.5,680.1 710.5,681.8 711.5,683.6 712.5,687.1 713.5,690.7 714.5,694.7 715.5,697.3 716.5,700.1 717.5,702.7 718.5,704.1 719.5,705.2 720.5,702.8 721.5,700.4 722.5,697.6 723.5,695.4 724.5,694.0 725.5,692.1 726.5,689.6 727.5,688.6 728.5,687.4 729.5,686.4 730.5,685.0 731.5,683.7 732.5,680.8 733.5,680.7 734.5,680.9 735.5,682.0 736.5,683.9 737.5,684.0 738.5,682.0 739.5,680.6 740.5,679.3 741.5,679.1 742.5,680.3 743.5,680.3 744.5,681.8 745.5,681.3 746.5,680.8 747.5,679.9 748.5,678.4 749.5,677.0 750.5,674.9 751.5,672.1 752.5,668.3 753.5,666.8 754.5,668.9 755.5,672.3 756.5,675.3 757.5,677.2 758.5,677.1 759.5,678.4 760.5,679.1 761.5,679.7 762.5,680.2 763.5,681.2 764.5,681.8 765.5,682.4 766.5,681.4 767.5,680.2 768.5,681.0 769.5,680.2 770.5,678.6 771.5,677.2 772.5,676.3 773.5,674.1 774.5,672.1 775.5,671.6 776.5,671.7 777.5,672.5 778.5,674.5 779.5,675.1 780.5,675.7 781.5,675.7 782.5,677.0 783.5,675.7 784.5,674.7 785.5,674.5 786.5,675.9 787.5,678.2 788.5,681.2 789.5,681.4 790.5,682.7 791.5,683.8 792.5,684.7 793.5,687.0 794.5,688.6 795.5,689.1 796.5,690.8 797.5,691.8 798.5,693.3 799.5,696.2 800.5,699.4 801.5,703.5 802.5,705.3 803.5,704.2 804.5,702.7 805.5,701.4 806.5,700.5 807.5,701.2 808.5,701.1 809.5,699.2 810.5,698.6 811.5,697.6 812.5,696.8 813.5,695.7 814.5,694.9 815.5,693.8 816.5,693.7 817.5,693.1 818.5,692.1 819.5,690.9 820.5,688.0 821.5,685.5 822.5,683.0 823.5,681.0 824.5,678.0 825.5,677.3 826.5,676.0 827.5,673.3 828.5,670.3 829.5,669.7 830.5,670.7 831.5,671.8 832.5,673.6 833.5,674.5 834.5,675.8 835.5,676.0 836.5,676.4 837.5,677.8 838.5,681.0 839.5,681.8 840.5,682.4 841.5,681.6 842.5,680.2 843.5,676.9 844.5,673.7 845.5,671.1 846.5,667.8 847.5,664.8 848.5,662.3 849.5,658.4 850.5,655.0 851.5,652.7 852.5,651.4 853.5,649.8 854.5,646.1 855.5,643.5 856.5,643.6 857.5,645.0 858.5,646.5 859.5,647.2 860.5,649.3 861.5,651.0 862.5,652.0 863.5,653.2 864.5,656.7 865.5,659.7 866.5,663.2 867.5,664.7 868.5,666.8 869.5,667.8 870.5,668.5 871.5,671.2 872.5,671.5 873.5,669.4 874.5,667.3 875.5,665.5 876.5,665.1 877.5,663.5 878.5,660.0 879.5,657.4 880.5,655.6 881.5,654.5 882.5,654.8 883.5,654.1 884.5,653.3 885.5,650.3 886.5,648.9 887.5,649.2 888.5,648.8 889.5,647.7 890.5,646.4 891.5,646.9 892.5,645.4 893.5,644.2 894.5,644.0 895.5,644.6 896.5,644.4 897.5,644.5 898.5,644.0 899.5,643.1 900.5,640.9 901.5,636.5 902.5,632.7 903.5,629.1 904.5,622.8 905.5,619.3 906.5,619.6 907.5,619.1 908.5,620.2 909.5,620.6 910.5,623.9 911.5,629.5 912.5,635.4 913.5,637.6 914.5,639.4 915.5,640.4 916.5,641.9 917.5,645.5 918.5,646.6 919.5,649.8 920.5,652.7 921.5,657.1 922.5,660.8 923.5,662.4 924.5,664.2 925.5,666.8 926.5,668.6 927.5,671.5 928.5,673.5 929.5,673.6 930.5,676.6 931.5,680.5 932.5,684.1 933.5,687.5 934.5,691.8 935.5,695.6 936.5,698.6 937.5,700.9 938.5,704.4 939.5,705.6 940.5,707.1 941.5,704.3 942.5,699.1 943.5,696.4 944.5,693.2 945.5,689.1 946.5,685.4 947.5,683.6 948.5,683.9 949.5,683.6 950.5,684.3 951.5,685.6 952.5,685.5 953.5,686.1 954.5,686.6 955.5,686.7 956.5,687.0 957.5,687.7 958.5,688.2 959.5,687.8 960.5,687.0 961.5,688.2 962.5,689.2 963.5,691.1 964.5,692.9 965.5,692.9 966.5,693.8 967.5,691.2 968.5,689.4 969.5,686.7 970.5,685.9 971.5,685.6 972.5,681.9 973.5,678.9 974.5,678.4 975.5,678.7 976.5,678.7 977.5,677.1 978.5,675.6 979.5,674.4 980.5,672.8 981.5,672.4 982.5,668.8 983.5,667.4 984.5,664.7 985.5,663.8 986.5,660.7 987.5,656.9 988.5,656.9 989.5,657.2 990.5,656.6 991.5,654.6 992.5,653.9 993.5,656.0 994.5,660.6 995.5,664.4 996.5,668.9 997.5,672.0 998.5,674.0 999.5,676.0 1000.5,678.3 1001.5,679.5 1002.5,680.1 1003.5,681.0 1004.5,683.3 1005.5,685.6 1006.5,690.2 1007.5,694.2" fill="none" stroke="#1a2468" stroke-width="1.5" stroke-linejoin="round" /></g>
<path d='M882.5 97.3H901 M896 93.5L901.5 97.3L896 101' stroke='#404050' stroke-width='1.4' fill='none'/>
<path d='M37 439H16 M21 435.2L15.5 439L21 442.8' stroke='#404050' stroke-width='1.4' fill='none'/>
<g fill='#f6f6f0' stroke='#1f4c94' stroke-width='1.6'><rect x='1094.8' y='14.8' width='29.8' height='26.2'/><rect x='1128.8' y='14.8' width='29.8' height='26.2'/><rect x='1162.8' y='14.8' width='30.2' height='26.2'/><rect x='1202.5' y='14.8' width='40' height='26.2'/></g>
<g fill='none' stroke='#1f4c94' stroke-width='1.5'><path d='M1098.5 27.3L1106.5 19.5V24.3H1121V30.6H1106.5V35.3Z'/><path d='M1155 27.3L1147 19.5V24.3H1132.5V30.6H1147V35.3Z'/><path d='M1183.2 14.8V41 M1162.8 30.8H1183.2'/><rect x='1208.5' y='19' width='19' height='15.5'/></g>
<rect x='1208.5' y='18.5' width='19' height='3' fill='#1f4c94'/>
<g fill='#1f4c94'><rect x='1187' y='19.5' width='2.2' height='2'/><rect x='1187' y='23.5' width='2.2' height='2'/><rect x='1187' y='27.5' width='2.2' height='2'/><rect x='1187' y='31.5' width='2.2' height='2'/></g>
<path d='M1194 22.5Q1198 22 1197 24.5 Q1196 26.5 1199 27.5 Q1196 28.5 1197 30.5 Q1198 33 1194 32.5' stroke='#1f4c94' stroke-width='1.1' fill='none'/>
<rect x='1004' y='39' width='47.5' height='1.6' fill='#1f4f9a'/>
<path d='M1108.5 793.5H1127L1119.2 804V814.5H1116.3V804Z' fill='#3a3a48'/><path d='M1112.5 795.8H1123L1117.7 802.5Z' fill='#c4c5cb'/>
<g fill='#3a3a48'><rect x='1128.5' y='811.5' width='2.8' height='3'/><rect x='1134' y='806' width='2.8' height='8.5'/><rect x='1140' y='799.5' width='2.8' height='15'/><rect x='1146' y='793.5' width='2.8' height='21'/></g>
<path d='M0 799H8.6V808.6H0' stroke='#2a2a32' stroke-width='2.2' fill='none'/><path d='M0 795.5L3 798.5' stroke='#2a2a32' stroke-width='2'/>
<path d='M996 806.5L1000.5 802.5 M996 806.5L1000.5 810.5' stroke='#22a022' stroke-width='2.4' fill='none'/>
<text x='10.40' y='39.50' textLength='95.82' lengthAdjust='spacingAndGlyphs' font-family='&quot;Noto Sans CJK SC&quot;, sans-serif' font-weight='300' font-size='25.05' fill='#45455a'>美黄金连</text>
<text x='113.12' y='34.92' textLength='7.30' lengthAdjust='spacingAndGlyphs' font-family='&quot;Liberation Serif&quot;, serif' font-weight='normal' font-size='21.33' fill='#45455a'>(</text>
<text x='119.81' y='36.85' textLength='47.09' lengthAdjust='spacingAndGlyphs' font-family='&quot;Liberation Serif&quot;, serif' font-weight='normal' font-size='22.50' fill='#45455a'>GLNC</text>
<text x='169.28' y='34.92' textLength='6.92' lengthAdjust='spacingAndGlyphs' font-family='&quot;Liberation Serif&quot;, serif' font-weight='normal' font-size='21.33' fill='#45455a'>)</text>
<text x='181.63' y='43.94' textLength='11.63' lengthAdjust='spacingAndGlyphs' font-family='&quot;Noto Sans CJK SC&quot;, sans-serif' font-weight='300' font-size='37.14' fill='#45455a'>&lt;</text>
<text x='192.56' y='39.17' textLength='46.88' lengthAdjust='spacingAndGlyphs' font-family='&quot;Noto Sans CJK SC&quot;, sans-serif' font-weight='300' font-size='25.43' fill='#45455a'>周线</text>
<text x='240.43' y='43.94' textLength='11.63' lengthAdjust='spacingAndGlyphs' font-family='&quot;Noto Sans CJK SC&quot;, sans-serif' font-weight='300' font-size='37.14' fill='#45455a'>&gt;</text>
<text x='499.21' y='39.47' textLength='47.68' lengthAdjust='spacingAndGlyphs' font-family='&quot;Noto Sans CJK SC&quot;, sans-serif' font-weight='300' font-size='25.33' fill='#45455a'>最新</text>
<text x='549.77' y='37.57' textLength='6.72' lengthAdjust='spacingAndGlyphs' font-family='&quot;Liberation Serif&quot;, serif' font-weight='normal' font-size='23.33' fill='#45455a'>:</text>
<text x='731.87' y='39.47' textLength='46.28' lengthAdjust='spacingAndGlyphs' font-family='&quot;Noto Sans CJK SC&quot;, sans-serif' font-weight='300' font-size='25.33' fill='#45455a'>今开</text>
<text x='782.10' y='37.30' textLength='6.25' lengthAdjust='spacingAndGlyphs' font-family='&quot;Liberation Serif&quot;, serif' font-weight='normal' font-size='20.00' fill='#45455a'>:</text>
<text x='879.39' y='39.47' textLength='48.25' lengthAdjust='spacingAndGlyphs' font-family='&quot;Noto Sans CJK SC&quot;, sans-serif' font-weight='300' font-size='25.33' fill='#45455a'>最高</text>
<text x='930.27' y='37.30' textLength='5.33' lengthAdjust='spacingAndGlyphs' font-family='&quot;Liberation Serif&quot;, serif' font-weight='normal' font-size='20.00' fill='#45455a'>:</text>
<text x='1003.77' y='36.98' textLength='48.53' lengthAdjust='spacingAndGlyphs' font-family='&quot;Noto Sans CJK SC&quot;, sans-serif' font-weight='normal' font-size='22.50' fill='#1d4d98'>周期</text>
<text x='10.82' y='77.50' textLength='14.29' lengthAdjust='spacingAndGlyphs' font-family='&quot;DejaVu Sans Condensed&quot;, &quot;DejaVu Sans&quot;, sans-serif' font-weight='normal' font-size='23.42' fill='#606070'>K</text>
<text x='42.33' y='77.28' textLength='136.38' lengthAdjust='spacingAndGlyphs' font-family='&quot;DejaVu Sans Condensed&quot;, &quot;DejaVu Sans&quot;, sans-serif' font-weight='normal' font-size='22.50' fill='#1c2a6c'>MA5:1760.2</text>
<text x='184.35' y='77.28' textLength='149.56' lengthAdjust='spacingAndGlyphs' font-family='&quot;DejaVu Sans Condensed&quot;, &quot;DejaVu Sans&quot;, sans-serif' font-weight='normal' font-size='22.50' fill='#f0a050'>MA10:1807.5</text>
<text x='340.58' y='77.28' textLength='147.97' lengthAdjust='spacingAndGlyphs' font-family='&quot;DejaVu Sans Condensed&quot;, &quot;DejaVu Sans&quot;, sans-serif' font-weight='normal' font-size='22.50' fill='#3a1a7e'>MA60:1830.4</text>
<text x='497.68' y='77.28' textLength='162.07' lengthAdjust='spacingAndGlyphs' font-family='&quot;DejaVu Sans Condensed&quot;, &quot;DejaVu Sans&quot;, sans-serif' font-weight='normal' font-size='22.50' fill='#2a2aa8'>MA100:1835.9</text>
<text x='667.15' y='77.28' textLength='164.02' lengthAdjust='spacingAndGlyphs' font-family='&quot;DejaVu Sans Condensed&quot;, &quot;DejaVu Sans&quot;, sans-serif' font-weight='normal' font-size='22.50' fill='#e8a0e6'>MA300:1527.5</text>
<text x='12.74' y='498.26' textLength='117.27' lengthAdjust='spacingAndGlyphs' font-family='&quot;DejaVu Sans Condensed&quot;, &quot;DejaVu Sans&quot;, sans-serif' font-weight='normal' font-size='24.94' fill='#707080'>VOL(5,10)</text>
<text x='138.76' y='497.17' textLength='246.36' lengthAdjust='spacingAndGlyphs' font-family='&quot;DejaVu Sans Condensed&quot;, &quot;DejaVu Sans&quot;, sans-serif' font-weight='normal' font-size='22.50' fill='#707080'>VOLUME:193917.0000</text>
<text x='394.75' y='497.17' textLength='250.91' lengthAdjust='spacingAndGlyphs' font-family='&quot;DejaVu Sans Condensed&quot;, &quot;DejaVu Sans&quot;, sans-serif' font-weight='normal' font-size='22.50' fill='#1c2a6c'>MAVOL1:730250.6000</text>
<text x='652.35' y='497.17' textLength='250.81' lengthAdjust='spacingAndGlyphs' font-family='&quot;DejaVu Sans Condensed&quot;, &quot;DejaVu Sans&quot;, sans-serif' font-weight='normal' font-size='22.50' fill='#f0a050'>MAVOL2:717629.1000</text>
<text x='10.94' y='609.99' textLength='171.27' lengthAdjust='spacingAndGlyphs' font-family='&quot;DejaVu Sans Condensed&quot;, &quot;DejaVu Sans&quot;, sans-serif' font-weight='normal' font-size='24.72' fill='#707080'>MACD(12,26,9)</text>
<text x='190.64' y='608.88' textLength='156.98' lengthAdjust='spacingAndGlyphs' font-family='&quot;DejaVu Sans Condensed&quot;, &quot;DejaVu Sans&quot;, sans-serif' font-weight='normal' font-size='22.37' fill='#1c2a6c'>DIFF:-30.5286</text>
<text x='353.74' y='608.87' textLength='141.52' lengthAdjust='spacingAndGlyphs' font-family='&quot;DejaVu Sans Condensed&quot;, &quot;DejaVu Sans&quot;, sans-serif' font-weight='normal' font-size='22.97' fill='#f0a050'>DEA:-7.5555</text>
<text x='502.88' y='608.88' textLength='173.50' lengthAdjust='spacingAndGlyphs' font-family='&quot;DejaVu Sans Condensed&quot;, &quot;DejaVu Sans&quot;, sans-serif' font-weight='normal' font-size='22.37' fill='#707080'>MACD:-45.9463</text>
<text x='1122.64' y='514.95' textLength='39.98' lengthAdjust='spacingAndGlyphs' font-family='&quot;Liberation Sans&quot;, sans-serif' font-weight='normal' font-size='24.65' fill='#5c5c68'>300</text>
<text x='1162.49' y='516.86' textLength='28.20' lengthAdjust='spacingAndGlyphs' font-family='&quot;Noto Sans CJK SC&quot;, sans-serif' font-weight='300' font-size='32.98' fill='#5c5c68'>万</text>
<text x='1121.02' y='693.06' textLength='13.67' lengthAdjust='spacingAndGlyphs' font-family='&quot;Liberation Sans&quot;, sans-serif' font-weight='normal' font-size='24.37' fill='#5c5c68'>0</text>
<text x='9.71' y='773.20' textLength='73.64' lengthAdjust='spacingAndGlyphs' font-family='&quot;DejaVu Sans Condensed&quot;, &quot;DejaVu Sans&quot;, sans-serif' font-weight='normal' font-size='20.00' fill='#62626f'>200306</text>
<text x='117.93' y='773.20' textLength='72.80' lengthAdjust='spacingAndGlyphs' font-family='&quot;DejaVu Sans Condensed&quot;, &quot;DejaVu Sans&quot;, sans-serif' font-weight='normal' font-size='20.00' fill='#62626f'>200604</text>
<text x='225.51' y='773.20' textLength='74.08' lengthAdjust='spacingAndGlyphs' font-family='&quot;DejaVu Sans Condensed&quot;, &quot;DejaVu Sans&quot;, sans-serif' font-weight='normal' font-size='20.00' fill='#62626f'>200805</text>
<text x='334.54' y='773.20' textLength='72.29' lengthAdjust='spacingAndGlyphs' font-family='&quot;DejaVu Sans Condensed&quot;, &quot;DejaVu Sans&quot;, sans-serif' font-weight='normal' font-size='20.00' fill='#62626f'>201006</text>
<text x='444.14' y='773.20' textLength='72.21' lengthAdjust='spacingAndGlyphs' font-family='&quot;DejaVu Sans Condensed&quot;, &quot;DejaVu Sans&quot;, sans-serif' font-weight='normal' font-size='20.00' fill='#62626f'>201207</text>
<text x='552.42' y='773.20' textLength='73.44' lengthAdjust='spacingAndGlyphs' font-family='&quot;DejaVu Sans Condensed&quot;, &quot;DejaVu Sans&quot;, sans-serif' font-weight='normal' font-size='20.00' fill='#62626f'>201408</text>
<text x='659.69' y='773.20' textLength='75.21' lengthAdjust='spacingAndGlyphs' font-family='&quot;DejaVu Sans Condensed&quot;, &quot;DejaVu Sans&quot;, sans-serif' font-weight='normal' font-size='20.00' fill='#62626f'>201609</text>
<text x='765.70' y='773.20' textLength='74.17' lengthAdjust='spacingAndGlyphs' font-family='&quot;DejaVu Sans Condensed&quot;, &quot;DejaVu Sans&quot;, sans-serif' font-weight='normal' font-size='20.00' fill='#62626f'>201809</text>
<text x='873.72' y='773.20' textLength='73.43' lengthAdjust='spacingAndGlyphs' font-family='&quot;DejaVu Sans Condensed&quot;, &quot;DejaVu Sans&quot;, sans-serif' font-weight='normal' font-size='20.00' fill='#62626f'>202010</text>
<text x='1120.83' y='776.19' textLength='48.65' lengthAdjust='spacingAndGlyphs' font-family='&quot;Noto Sans CJK SC&quot;, sans-serif' font-weight='300' font-size='25.11' fill='#4a4a58'>周线</text>
<text x='379.21' y='815.13' textLength='26.37' lengthAdjust='spacingAndGlyphs' font-family='&quot;Noto Sans CJK SC&quot;, sans-serif' font-weight='normal' font-size='23.37' fill='#2c2c38'>亿</text>
<text x='441.89' y='815.13' textLength='23.62' lengthAdjust='spacingAndGlyphs' font-family='&quot;Noto Sans CJK SC&quot;, sans-serif' font-weight='bold' font-size='23.37' fill='#2c2c38'>深</text>
<text x='835.22' y='815.13' textLength='26.04' lengthAdjust='spacingAndGlyphs' font-family='&quot;Noto Sans CJK SC&quot;, sans-serif' font-weight='normal' font-size='23.37' fill='#2c2c38'>亿</text>
<text x='896.68' y='814.96' textLength='26.15' lengthAdjust='spacingAndGlyphs' font-family='&quot;Noto Sans CJK SC&quot;, sans-serif' font-weight='bold' font-size='22.63' fill='#2c2c38'>创</text>
<text x='952.37' y='813.55' textLength='42.48' lengthAdjust='spacingAndGlyphs' font-family='&quot;Liberation Serif&quot;, serif' font-weight='bold' font-size='22.35' fill='#22a022'>306</text>
<text x='1024.50' y='816.00' textLength='15.27' lengthAdjust='spacingAndGlyphs' font-family='&quot;Liberation Serif&quot;, serif' font-weight='bold' font-size='27.69' fill='#4a4a64'>P</text>
<text x='1039.71' y='816.20' textLength='16.07' lengthAdjust='spacingAndGlyphs' font-family='&quot;Liberation Serif&quot;, serif' font-weight='bold' font-size='30.21' fill='#4a4a64'>o</text>
<text x='1055.73' y='816.23' textLength='15.27' lengthAdjust='spacingAndGlyphs' font-family='&quot;Liberation Serif&quot;, serif' font-weight='bold' font-size='27.14' fill='#e02020'>b</text>
<text x='1070.62' y='816.20' textLength='17.26' lengthAdjust='spacingAndGlyphs' font-family='&quot;Liberation Serif&quot;, serif' font-weight='bold' font-size='30.21' fill='#4a4a64'>o</text>
<text x='1171.23' y='815.24' textLength='67.92' lengthAdjust='spacingAndGlyphs' font-family='&quot;Liberation Sans&quot;, sans-serif' font-weight='normal' font-size='26.06' fill='#3c3c4c'>18:13</text>
<text transform='scale(0.88,1)' x='425.57 439.05 452.52 466.00 479.48 492.95 506.43 519.91 533.39 546.86' y='37.66' text-anchor='middle' font-family='&quot;Liberation Serif&quot;, serif' font-weight='normal' font-size='23.73' fill='#45455a'>[18:14:03]</text>
<text transform='scale(0.88,1)' x='641.82 655.45 669.09 682.73 693.36 710.00' y='37.86' text-anchor='middle' font-family='&quot;Liberation Serif&quot;, serif' font-weight='normal' font-size='24.48' fill='#c41a1a'>1712.7</text>
<text transform='scale(0.88,1)' x='737.05 750.91 761.72 778.64 792.50 806.36' y='37.86' text-anchor='middle' font-family='&quot;Liberation Serif&quot;, serif' font-weight='normal' font-size='24.48' fill='#c41a1a'>+0.15%</text>
<text transform='scale(0.88,1)' x='905.68 919.32 932.95 946.59 957.23 973.86' y='37.86' text-anchor='middle' font-family='&quot;Liberation Serif&quot;, serif' font-weight='normal' font-size='24.48' fill='#1a7a1a'>1707.2</text>
<text transform='scale(0.88,1)' x='1074.43 1088.07 1101.70 1115.34 1125.98' y='37.86' text-anchor='middle' font-family='&quot;Liberation Serif&quot;, serif' font-weight='normal' font-size='24.48' fill='#c41a1a'>1713.</text>
<text transform='scale(0.9,1)' x='1254.00 1269.44 1284.89 1300.33' y='161.26' text-anchor='middle' font-family='&quot;Liberation Sans&quot;, sans-serif' font-weight='normal' font-size='24.29' fill='#5c5c68'>1800</text>
<text transform='scale(0.9,1)' x='1254.00 1269.44 1284.89 1300.33' y='279.16' text-anchor='middle' font-family='&quot;Liberation Sans&quot;, sans-serif' font-weight='normal' font-size='24.43' fill='#5c5c68'>1200</text>
<text transform='scale(0.9,1)' x='1252.78 1268.89 1285.00' y='395.26' text-anchor='middle' font-family='&quot;Liberation Sans&quot;, sans-serif' font-weight='normal' font-size='24.29' fill='#5c5c68'>600</text>
<text transform='scale(0.95,1)' x='842.95 857.79 872.63 887.47 899.05 917.16' y='105.55' text-anchor='middle' font-family='&quot;Liberation Sans&quot;, sans-serif' font-weight='normal' font-size='25.43' fill='#1c2a6c'>2089.2</text>
<text transform='scale(0.95,1)' x='48.74 63.89 79.05 90.88 109.37' y='447.16' text-anchor='middle' font-family='&quot;Liberation Sans&quot;, sans-serif' font-weight='normal' font-size='24.29' fill='#1c2a6c'>340.6</text>
<text transform='scale(1.0,1)' x='47.60 61.85 76.10 90.35 101.46 118.85 133.10' y='813.78' text-anchor='middle' font-family='&quot;Liberation Sans&quot;, sans-serif' font-weight='bold' font-size='21.71' fill='#e02828'>3279.43</text>
<text transform='scale(1.0,1)' x='201.00 215.50 226.81 244.50 259.00' y='813.78' text-anchor='middle' font-family='&quot;Liberation Sans&quot;, sans-serif' font-weight='bold' font-size='21.71' fill='#e02828'>+1.33</text>
<text transform='scale(1.0,1)' x='288.00 302.30 316.60 330.90 342.05 359.50 373.80' y='813.78' text-anchor='middle' font-family='&quot;Liberation Sans&quot;, sans-serif' font-weight='bold' font-size='21.71' fill='#2c2c38'>3960.42</text>
<text transform='scale(1.0,1)' x='490.20 504.40 518.60 532.80 547.00 558.08 575.40 589.60' y='813.78' text-anchor='middle' font-family='&quot;Liberation Sans&quot;, sans-serif' font-weight='bold' font-size='21.71' fill='#22a022'>12494.76</text>
<text transform='scale(1.0,1)' x='642.00 656.70 671.40 682.87 700.80 715.50' y='813.78' text-anchor='middle' font-family='&quot;Liberation Sans&quot;, sans-serif' font-weight='bold' font-size='21.71' fill='#22a022'>-37.89</text>
<text transform='scale(1.0,1)' x='742.50 757.17 771.84 786.51 797.95 815.85 830.52' y='813.78' text-anchor='middle' font-family='&quot;Liberation Sans&quot;, sans-serif' font-weight='bold' font-size='21.71' fill='#2c2c38'>6007.20</text>
</svg>
</body></html>
